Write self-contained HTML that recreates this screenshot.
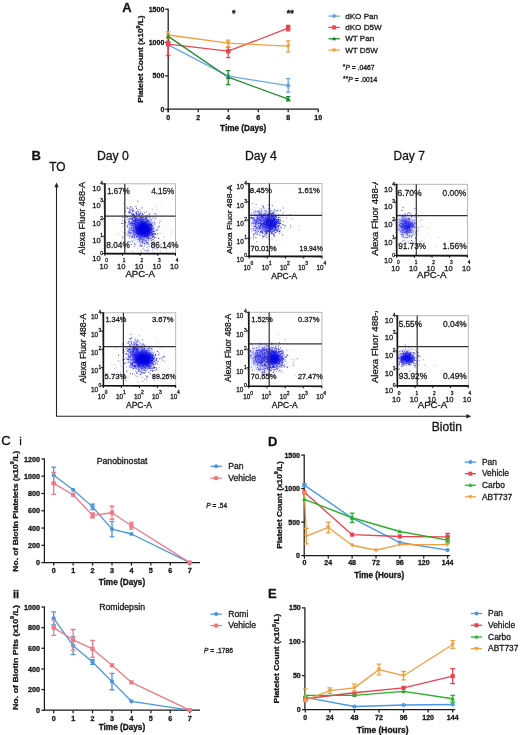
<!DOCTYPE html>
<html><head><meta charset="utf-8"><style>
html,body{margin:0;padding:0;background:#fff;width:520px;height:735px;overflow:hidden;}
body{position:relative;font-family:"Liberation Sans", sans-serif;}
</style></head><body>
<svg width="520" height="735" viewBox="0 0 520 735" style="position:absolute;left:0;top:0;filter:blur(0.4px);font-family:&quot;Liberation Sans&quot;, sans-serif">
<style>text{stroke:#1a1a1a;stroke-width:0.3px;}</style>
<rect width="520" height="735" fill="#fff"/>
<text x="122.30" y="12.30" font-size="13" font-weight="bold" text-anchor="start" fill="#111" >A</text>
<line x1="168.20" y1="8.70" x2="168.20" y2="112.20" stroke="#1a1a1a" stroke-width="1.25"/>
<line x1="167.70" y1="109.20" x2="318.70" y2="109.20" stroke="#1a1a1a" stroke-width="1.25"/>
<line x1="165.20" y1="109.20" x2="168.20" y2="109.20" stroke="#1a1a1a" stroke-width="1.25"/>
<text x="164.30" y="111.70" font-size="7.0" font-weight="bold" text-anchor="end" fill="#111" >0</text>
<line x1="165.20" y1="75.87" x2="168.20" y2="75.87" stroke="#1a1a1a" stroke-width="1.25"/>
<text x="164.30" y="78.37" font-size="7.0" font-weight="bold" text-anchor="end" fill="#111" >500</text>
<line x1="165.20" y1="42.53" x2="168.20" y2="42.53" stroke="#1a1a1a" stroke-width="1.25"/>
<text x="164.30" y="45.03" font-size="7.0" font-weight="bold" text-anchor="end" fill="#111" >1000</text>
<line x1="165.20" y1="9.20" x2="168.20" y2="9.20" stroke="#1a1a1a" stroke-width="1.25"/>
<text x="164.30" y="11.70" font-size="7.0" font-weight="bold" text-anchor="end" fill="#111" >1500</text>
<line x1="168.20" y1="109.20" x2="168.20" y2="112.20" stroke="#1a1a1a" stroke-width="1.25"/>
<text x="168.20" y="120.30" font-size="7.0" font-weight="bold" text-anchor="middle" fill="#111" >0</text>
<line x1="198.20" y1="109.20" x2="198.20" y2="112.20" stroke="#1a1a1a" stroke-width="1.25"/>
<text x="198.20" y="120.30" font-size="7.0" font-weight="bold" text-anchor="middle" fill="#111" >2</text>
<line x1="228.20" y1="109.20" x2="228.20" y2="112.20" stroke="#1a1a1a" stroke-width="1.25"/>
<text x="228.20" y="120.30" font-size="7.0" font-weight="bold" text-anchor="middle" fill="#111" >4</text>
<line x1="258.20" y1="109.20" x2="258.20" y2="112.20" stroke="#1a1a1a" stroke-width="1.25"/>
<text x="258.20" y="120.30" font-size="7.0" font-weight="bold" text-anchor="middle" fill="#111" >6</text>
<line x1="288.20" y1="109.20" x2="288.20" y2="112.20" stroke="#1a1a1a" stroke-width="1.25"/>
<text x="288.20" y="120.30" font-size="7.0" font-weight="bold" text-anchor="middle" fill="#111" >8</text>
<line x1="318.20" y1="109.20" x2="318.20" y2="112.20" stroke="#1a1a1a" stroke-width="1.25"/>
<text x="318.20" y="120.30" font-size="7.0" font-weight="bold" text-anchor="middle" fill="#111" >10</text>
<text x="243.20" y="131.27" font-size="8.2" font-weight="bold" text-anchor="middle" fill="#111" >Time (Days)</text>
<text x="0" y="0" font-size="7.7" font-weight="bold" text-anchor="middle" fill="#111" textLength="87.40" lengthAdjust="spacingAndGlyphs" transform="translate(143.00 59.10) rotate(-90)" >Platelet Count (x10<tspan dy="-3.23" font-size="4.93">9</tspan><tspan dy="3.23">/L)</tspan></text>
<polyline points="168.20,44.87 228.20,76.20 288.20,85.60" fill="none" stroke="#6aa6e6" stroke-width="1.3" stroke-linejoin="round"/>
<polyline points="168.20,44.20 228.20,51.20 288.20,28.20" fill="none" stroke="#e8474d" stroke-width="1.3" stroke-linejoin="round"/>
<polyline points="168.20,35.00 228.20,43.13 288.20,46.20" fill="none" stroke="#f0a040" stroke-width="1.3" stroke-linejoin="round"/>
<polyline points="168.20,36.40 228.20,77.20 288.20,99.13" fill="none" stroke="#1f8a2e" stroke-width="1.3" stroke-linejoin="round"/>
<circle cx="168.20" cy="44.87" r="2.2" fill="#6aa6e6"/>
<circle cx="228.20" cy="76.20" r="2.2" fill="#6aa6e6"/>
<path d="M286.00 78.70H290.40M288.20 78.70V92.20M286.00 92.20H290.40" stroke="#6aa6e6" stroke-width="1.3" fill="none"/>
<circle cx="288.20" cy="85.60" r="2.2" fill="#6aa6e6"/>
<path d="M166.00 41.50H170.40M168.20 41.50V55.50M166.00 55.50H170.40" stroke="#e8474d" stroke-width="1.3" fill="none"/>
<rect x="166.00" y="42.00" width="4.4" height="4.4" fill="#e8474d"/>
<path d="M226.00 47.00H230.40M228.20 47.00V57.70M226.00 57.70H230.40" stroke="#e8474d" stroke-width="1.3" fill="none"/>
<rect x="226.00" y="49.00" width="4.4" height="4.4" fill="#e8474d"/>
<path d="M286.00 25.40H290.40M288.20 25.40V30.80M286.00 30.80H290.40" stroke="#e8474d" stroke-width="1.3" fill="none"/>
<rect x="286.00" y="26.00" width="4.4" height="4.4" fill="#e8474d"/>
<path d="M166.00 31.60H170.40M168.20 31.60V38.30M166.00 38.30H170.40" stroke="#f0a040" stroke-width="1.3" fill="none"/>
<path d="M168.20 37.53L170.62 33.24L165.78 33.24Z" fill="#f0a040"/>
<path d="M226.00 40.20H230.40M228.20 40.20V46.90M226.00 46.90H230.40" stroke="#f0a040" stroke-width="1.3" fill="none"/>
<path d="M228.20 45.66L230.62 41.37L225.78 41.37Z" fill="#f0a040"/>
<path d="M286.00 41.00H290.40M288.20 41.00V51.80M286.00 51.80H290.40" stroke="#f0a040" stroke-width="1.3" fill="none"/>
<path d="M288.20 48.73L290.62 44.44L285.78 44.44Z" fill="#f0a040"/>
<path d="M168.20 33.87L170.62 38.16L165.78 38.16Z" fill="#1f8a2e"/>
<path d="M226.00 70.60H230.40M228.20 70.60V84.60M226.00 84.60H230.40" stroke="#1f8a2e" stroke-width="1.3" fill="none"/>
<path d="M228.20 74.67L230.62 78.96L225.78 78.96Z" fill="#1f8a2e"/>
<path d="M286.00 96.70H290.40M288.20 96.70V100.80M286.00 100.80H290.40" stroke="#1f8a2e" stroke-width="1.3" fill="none"/>
<path d="M288.20 96.60L290.62 100.89L285.78 100.89Z" fill="#1f8a2e"/>
<text x="233.70" y="15.50" font-size="9" font-weight="bold" text-anchor="middle" fill="#111" >*</text>
<text x="290.30" y="15.50" font-size="9" font-weight="bold" text-anchor="middle" fill="#111" >**</text>
<line x1="328.50" y1="16.10" x2="339.80" y2="16.10" stroke="#6aa6e6" stroke-width="1.3"/>
<circle cx="334.10" cy="16.10" r="2.0" fill="#6aa6e6"/>
<text x="345.20" y="18.60" font-size="8.1" font-weight="normal" text-anchor="start" fill="#1a1a1a" >dKO Pan</text>
<line x1="328.50" y1="27.43" x2="339.80" y2="27.43" stroke="#e8474d" stroke-width="1.3"/>
<rect x="332.10" y="25.43" width="4.0" height="4.0" fill="#e8474d"/>
<text x="345.20" y="29.93" font-size="8.1" font-weight="normal" text-anchor="start" fill="#1a1a1a" >dKO D5W</text>
<line x1="328.50" y1="38.76" x2="339.80" y2="38.76" stroke="#1f8a2e" stroke-width="1.3"/>
<path d="M334.10 36.46L336.30 40.36L331.90 40.36Z" fill="#1f8a2e"/>
<text x="345.20" y="41.26" font-size="8.1" font-weight="normal" text-anchor="start" fill="#1a1a1a" >WT Pan</text>
<line x1="328.50" y1="50.09" x2="339.80" y2="50.09" stroke="#f0a040" stroke-width="1.3"/>
<path d="M334.10 52.39L336.30 48.49L331.90 48.49Z" fill="#f0a040"/>
<text x="345.20" y="52.59" font-size="8.1" font-weight="normal" text-anchor="start" fill="#1a1a1a" >WT D5W</text>
<text x="342.80" y="70.40" font-size="6.3" font-weight="normal" text-anchor="start" fill="#222" textLength="31.70" lengthAdjust="spacingAndGlyphs" ><tspan dy="-1">*</tspan><tspan dy="1" font-style="italic">P</tspan> = .0467</text>
<text x="343.00" y="82.10" font-size="6.3" font-weight="normal" text-anchor="start" fill="#222" textLength="34.40" lengthAdjust="spacingAndGlyphs" ><tspan dy="-1">**</tspan><tspan dy="1" font-style="italic">P</tspan> = .0014</text>
<text x="31.40" y="160.00" font-size="13" font-weight="bold" text-anchor="start" fill="#111" >B</text>
<text x="49.20" y="171.30" font-size="11.9" font-weight="normal" text-anchor="start" fill="#111" >TO</text>
<text x="96.90" y="159.60" font-size="12.2" font-weight="normal" text-anchor="start" fill="#111" textLength="32.00" lengthAdjust="spacingAndGlyphs" >Day 0</text>
<text x="244.90" y="159.90" font-size="12.2" font-weight="normal" text-anchor="start" fill="#111" textLength="32.00" lengthAdjust="spacingAndGlyphs" >Day 4</text>
<text x="393.50" y="159.90" font-size="12.2" font-weight="normal" text-anchor="start" fill="#111" textLength="31.40" lengthAdjust="spacingAndGlyphs" >Day 7</text>
<line x1="56.50" y1="186.00" x2="56.50" y2="416.20" stroke="#222" stroke-width="1.1"/>
<path d="M56.5 182.6L58.6 187.2L54.4 187.2Z" fill="#222"/>
<line x1="56.00" y1="416.20" x2="467.00" y2="416.20" stroke="#222" stroke-width="1.1"/>
<path d="M471.2 416.2L466.4 414.0L466.4 418.4Z" fill="#222"/>
<text x="431.70" y="431.20" font-size="12" font-weight="normal" text-anchor="start" fill="#111" textLength="30.20" lengthAdjust="spacingAndGlyphs" >Biotin</text>
<rect x="104.90" y="183.80" width="70.60" height="69.80" fill="none" stroke="#b0b0b0" stroke-width="0.9"/>
<clipPath id="pc104183"><rect x="104.90" y="183.80" width="70.60" height="69.80"/></clipPath><g clip-path="url(#pc104183)">
<ellipse cx="141" cy="229" rx="12" ry="13" fill="#7070f0" opacity="0.4" filter="url(#b3)"/>
<path d="M142.1 231.5h0.9v0.9h-0.9zM142.3 227.1h0.9v0.9h-0.9zM138.4 226.8h0.9v0.9h-0.9zM149.6 232.5h0.9v0.9h-0.9zM149.2 231.5h0.9v0.9h-0.9zM145.7 230.4h0.9v0.9h-0.9zM134.3 231.8h0.9v0.9h-0.9zM146.3 232.2h0.9v0.9h-0.9zM134.2 217.7h0.9v0.9h-0.9zM138.6 225.5h0.9v0.9h-0.9zM145.2 229.1h0.9v0.9h-0.9zM146.4 226.1h0.9v0.9h-0.9zM145.2 231.5h0.9v0.9h-0.9zM139.9 237.5h0.9v0.9h-0.9zM146.6 236.1h0.9v0.9h-0.9zM140.1 224.3h0.9v0.9h-0.9zM141.6 228.0h0.9v0.9h-0.9zM147.0 231.0h0.9v0.9h-0.9zM141.0 223.4h0.9v0.9h-0.9zM140.6 235.0h0.9v0.9h-0.9zM139.1 229.4h0.9v0.9h-0.9zM145.8 221.4h0.9v0.9h-0.9zM143.8 236.1h0.9v0.9h-0.9zM132.4 225.1h0.9v0.9h-0.9zM142.9 224.5h0.9v0.9h-0.9zM146.2 229.2h0.9v0.9h-0.9zM135.4 231.9h0.9v0.9h-0.9zM147.2 234.8h0.9v0.9h-0.9zM151.4 232.5h0.9v0.9h-0.9zM144.2 222.1h0.9v0.9h-0.9zM146.9 226.4h0.9v0.9h-0.9zM141.0 221.7h0.9v0.9h-0.9zM138.2 225.1h0.9v0.9h-0.9zM150.6 219.5h0.9v0.9h-0.9zM135.5 228.7h0.9v0.9h-0.9zM151.4 233.7h0.9v0.9h-0.9zM133.1 213.3h0.9v0.9h-0.9zM145.5 225.4h0.9v0.9h-0.9zM137.3 233.0h0.9v0.9h-0.9zM149.6 231.1h0.9v0.9h-0.9zM144.9 231.6h0.9v0.9h-0.9zM152.3 234.1h0.9v0.9h-0.9zM146.4 232.5h0.9v0.9h-0.9zM134.9 234.2h0.9v0.9h-0.9zM148.8 232.9h0.9v0.9h-0.9zM132.6 223.4h0.9v0.9h-0.9zM148.1 220.2h0.9v0.9h-0.9zM142.5 234.3h0.9v0.9h-0.9zM136.3 236.2h0.9v0.9h-0.9zM146.5 228.8h0.9v0.9h-0.9zM145.3 232.9h0.9v0.9h-0.9zM144.2 235.3h0.9v0.9h-0.9zM139.9 226.0h0.9v0.9h-0.9zM149.2 230.3h0.9v0.9h-0.9zM138.7 233.1h0.9v0.9h-0.9zM151.6 228.2h0.9v0.9h-0.9zM135.9 226.8h0.9v0.9h-0.9zM142.7 227.2h0.9v0.9h-0.9zM151.2 225.0h0.9v0.9h-0.9zM150.4 223.6h0.9v0.9h-0.9zM139.2 231.5h0.9v0.9h-0.9zM149.7 234.9h0.9v0.9h-0.9zM145.4 230.1h0.9v0.9h-0.9zM144.3 232.3h0.9v0.9h-0.9zM142.5 230.3h0.9v0.9h-0.9zM146.6 229.6h0.9v0.9h-0.9zM147.7 232.9h0.9v0.9h-0.9zM154.6 233.0h0.9v0.9h-0.9zM141.1 226.5h0.9v0.9h-0.9zM143.4 234.0h0.9v0.9h-0.9zM141.6 230.7h0.9v0.9h-0.9zM153.6 217.2h0.9v0.9h-0.9zM137.3 229.1h0.9v0.9h-0.9zM145.7 230.7h0.9v0.9h-0.9zM141.1 232.1h0.9v0.9h-0.9zM145.1 226.5h0.9v0.9h-0.9zM156.9 233.6h0.9v0.9h-0.9zM140.5 227.9h0.9v0.9h-0.9zM142.3 228.4h0.9v0.9h-0.9zM128.5 223.4h0.9v0.9h-0.9zM149.0 223.8h0.9v0.9h-0.9zM143.1 234.1h0.9v0.9h-0.9zM148.2 238.0h0.9v0.9h-0.9zM134.1 225.2h0.9v0.9h-0.9zM141.6 232.0h0.9v0.9h-0.9zM149.5 215.7h0.9v0.9h-0.9zM149.5 222.4h0.9v0.9h-0.9zM147.3 221.7h0.9v0.9h-0.9zM144.5 235.6h0.9v0.9h-0.9zM142.7 229.9h0.9v0.9h-0.9zM147.9 230.6h0.9v0.9h-0.9zM143.0 237.2h0.9v0.9h-0.9zM149.3 228.6h0.9v0.9h-0.9zM158.6 225.8h0.9v0.9h-0.9zM148.5 228.6h0.9v0.9h-0.9zM144.2 232.9h0.9v0.9h-0.9zM144.7 232.7h0.9v0.9h-0.9zM135.1 219.2h0.9v0.9h-0.9zM146.9 224.5h0.9v0.9h-0.9zM137.9 219.9h0.9v0.9h-0.9zM150.5 234.4h0.9v0.9h-0.9zM151.6 225.6h0.9v0.9h-0.9zM143.5 222.9h0.9v0.9h-0.9zM147.7 238.4h0.9v0.9h-0.9zM138.6 236.4h0.9v0.9h-0.9zM148.9 229.1h0.9v0.9h-0.9zM132.7 234.4h0.9v0.9h-0.9zM143.0 225.6h0.9v0.9h-0.9zM145.7 231.6h0.9v0.9h-0.9zM151.7 225.2h0.9v0.9h-0.9zM149.7 238.3h0.9v0.9h-0.9zM151.5 229.6h0.9v0.9h-0.9zM139.4 233.7h0.9v0.9h-0.9zM144.1 229.8h0.9v0.9h-0.9zM151.3 229.1h0.9v0.9h-0.9zM130.9 224.4h0.9v0.9h-0.9zM133.3 231.4h0.9v0.9h-0.9zM145.2 226.1h0.9v0.9h-0.9zM143.4 233.5h0.9v0.9h-0.9zM143.9 236.2h0.9v0.9h-0.9zM143.2 234.5h0.9v0.9h-0.9zM151.7 239.3h0.9v0.9h-0.9zM139.8 233.0h0.9v0.9h-0.9zM133.2 221.1h0.9v0.9h-0.9zM132.7 232.6h0.9v0.9h-0.9zM136.7 227.6h0.9v0.9h-0.9zM142.4 228.6h0.9v0.9h-0.9zM140.2 229.6h0.9v0.9h-0.9zM153.4 231.2h0.9v0.9h-0.9zM146.4 235.0h0.9v0.9h-0.9zM142.4 222.0h0.9v0.9h-0.9zM140.4 234.2h0.9v0.9h-0.9zM134.4 224.0h0.9v0.9h-0.9zM149.0 234.4h0.9v0.9h-0.9zM143.5 233.3h0.9v0.9h-0.9zM144.4 222.8h0.9v0.9h-0.9zM134.9 223.8h0.9v0.9h-0.9zM148.6 227.0h0.9v0.9h-0.9zM138.5 223.9h0.9v0.9h-0.9zM135.1 226.7h0.9v0.9h-0.9zM137.0 229.7h0.9v0.9h-0.9zM130.5 228.2h0.9v0.9h-0.9zM140.0 217.8h0.9v0.9h-0.9zM147.5 228.3h0.9v0.9h-0.9zM131.2 221.8h0.9v0.9h-0.9zM145.1 226.8h0.9v0.9h-0.9zM147.8 233.9h0.9v0.9h-0.9zM147.2 231.5h0.9v0.9h-0.9zM150.8 234.0h0.9v0.9h-0.9zM146.0 218.3h0.9v0.9h-0.9zM148.4 237.0h0.9v0.9h-0.9zM141.9 226.1h0.9v0.9h-0.9zM154.2 221.7h0.9v0.9h-0.9zM146.1 242.6h0.9v0.9h-0.9zM138.4 231.7h0.9v0.9h-0.9zM153.9 230.4h0.9v0.9h-0.9zM146.6 234.5h0.9v0.9h-0.9zM138.5 227.5h0.9v0.9h-0.9zM145.1 233.8h0.9v0.9h-0.9zM143.3 227.9h0.9v0.9h-0.9zM137.9 225.9h0.9v0.9h-0.9zM148.4 230.5h0.9v0.9h-0.9zM138.8 223.5h0.9v0.9h-0.9zM158.2 238.1h0.9v0.9h-0.9zM147.0 215.7h0.9v0.9h-0.9zM146.9 232.3h0.9v0.9h-0.9zM152.8 233.2h0.9v0.9h-0.9zM143.1 231.7h0.9v0.9h-0.9zM132.8 232.4h0.9v0.9h-0.9zM145.3 225.6h0.9v0.9h-0.9zM150.8 240.2h0.9v0.9h-0.9zM135.8 223.9h0.9v0.9h-0.9zM145.1 230.3h0.9v0.9h-0.9zM141.3 223.3h0.9v0.9h-0.9zM155.2 236.9h0.9v0.9h-0.9zM136.9 220.4h0.9v0.9h-0.9zM152.9 236.2h0.9v0.9h-0.9zM153.5 235.4h0.9v0.9h-0.9zM138.7 229.4h0.9v0.9h-0.9zM131.6 222.6h0.9v0.9h-0.9zM143.2 231.8h0.9v0.9h-0.9zM139.5 227.5h0.9v0.9h-0.9zM146.0 231.5h0.9v0.9h-0.9zM147.0 230.8h0.9v0.9h-0.9zM141.7 232.9h0.9v0.9h-0.9zM143.8 224.6h0.9v0.9h-0.9zM140.1 228.3h0.9v0.9h-0.9zM142.9 229.7h0.9v0.9h-0.9zM143.5 229.9h0.9v0.9h-0.9zM142.8 222.1h0.9v0.9h-0.9zM145.8 235.1h0.9v0.9h-0.9zM145.9 228.5h0.9v0.9h-0.9zM146.0 224.3h0.9v0.9h-0.9zM133.1 227.2h0.9v0.9h-0.9zM138.4 232.0h0.9v0.9h-0.9zM137.5 213.6h0.9v0.9h-0.9zM137.8 236.4h0.9v0.9h-0.9zM141.4 221.2h0.9v0.9h-0.9zM139.3 231.0h0.9v0.9h-0.9zM146.2 230.5h0.9v0.9h-0.9zM151.7 234.4h0.9v0.9h-0.9zM143.4 232.2h0.9v0.9h-0.9zM152.6 236.1h0.9v0.9h-0.9zM149.1 224.3h0.9v0.9h-0.9zM142.7 232.8h0.9v0.9h-0.9zM141.9 234.4h0.9v0.9h-0.9zM146.8 234.6h0.9v0.9h-0.9zM142.3 242.5h0.9v0.9h-0.9zM150.3 229.2h0.9v0.9h-0.9zM144.0 243.1h0.9v0.9h-0.9zM141.6 233.3h0.9v0.9h-0.9zM148.9 230.1h0.9v0.9h-0.9zM137.1 228.7h0.9v0.9h-0.9zM145.5 235.5h0.9v0.9h-0.9zM147.8 230.0h0.9v0.9h-0.9zM148.2 232.8h0.9v0.9h-0.9zM144.6 229.5h0.9v0.9h-0.9zM142.2 232.4h0.9v0.9h-0.9zM137.7 224.5h0.9v0.9h-0.9zM143.5 221.1h0.9v0.9h-0.9zM141.1 217.7h0.9v0.9h-0.9zM139.7 231.3h0.9v0.9h-0.9zM146.6 229.3h0.9v0.9h-0.9zM142.2 221.1h0.9v0.9h-0.9zM153.6 233.8h0.9v0.9h-0.9zM149.5 225.4h0.9v0.9h-0.9zM142.5 219.0h0.9v0.9h-0.9zM147.8 234.9h0.9v0.9h-0.9zM133.1 226.6h0.9v0.9h-0.9zM147.0 220.2h0.9v0.9h-0.9zM133.5 221.3h0.9v0.9h-0.9zM140.0 220.7h0.9v0.9h-0.9zM143.7 230.4h0.9v0.9h-0.9zM147.0 233.5h0.9v0.9h-0.9zM151.8 236.9h0.9v0.9h-0.9zM136.3 224.8h0.9v0.9h-0.9zM137.7 222.0h0.9v0.9h-0.9zM143.1 228.9h0.9v0.9h-0.9zM146.2 221.0h0.9v0.9h-0.9zM136.7 227.5h0.9v0.9h-0.9zM142.4 227.1h0.9v0.9h-0.9zM143.2 224.8h0.9v0.9h-0.9zM147.4 231.7h0.9v0.9h-0.9zM143.0 225.3h0.9v0.9h-0.9zM142.5 214.1h0.9v0.9h-0.9zM138.1 228.1h0.9v0.9h-0.9zM135.2 228.4h0.9v0.9h-0.9zM144.3 221.7h0.9v0.9h-0.9zM142.1 227.0h0.9v0.9h-0.9zM146.0 232.8h0.9v0.9h-0.9zM143.3 224.4h0.9v0.9h-0.9zM142.7 228.5h0.9v0.9h-0.9zM147.5 231.4h0.9v0.9h-0.9zM139.5 220.9h0.9v0.9h-0.9zM141.4 224.6h0.9v0.9h-0.9zM137.4 227.2h0.9v0.9h-0.9zM140.8 229.0h0.9v0.9h-0.9zM146.4 227.4h0.9v0.9h-0.9zM156.3 229.8h0.9v0.9h-0.9zM149.6 230.9h0.9v0.9h-0.9zM149.6 217.4h0.9v0.9h-0.9zM139.4 229.5h0.9v0.9h-0.9zM146.8 242.3h0.9v0.9h-0.9zM145.3 236.3h0.9v0.9h-0.9zM147.7 234.9h0.9v0.9h-0.9zM146.3 228.7h0.9v0.9h-0.9zM146.3 223.8h0.9v0.9h-0.9zM150.0 224.8h0.9v0.9h-0.9zM144.9 240.7h0.9v0.9h-0.9zM142.3 228.9h0.9v0.9h-0.9zM149.9 230.4h0.9v0.9h-0.9zM139.1 229.5h0.9v0.9h-0.9zM146.7 233.5h0.9v0.9h-0.9zM139.3 237.6h0.9v0.9h-0.9zM152.7 230.9h0.9v0.9h-0.9zM145.0 227.0h0.9v0.9h-0.9zM151.3 226.8h0.9v0.9h-0.9zM147.2 227.2h0.9v0.9h-0.9zM139.7 232.1h0.9v0.9h-0.9zM150.8 230.4h0.9v0.9h-0.9zM139.8 232.6h0.9v0.9h-0.9zM143.2 230.6h0.9v0.9h-0.9zM151.9 236.8h0.9v0.9h-0.9zM140.6 240.7h0.9v0.9h-0.9zM143.5 233.2h0.9v0.9h-0.9zM139.9 228.0h0.9v0.9h-0.9zM133.9 236.7h0.9v0.9h-0.9zM151.0 224.0h0.9v0.9h-0.9zM135.2 218.6h0.9v0.9h-0.9zM150.0 227.8h0.9v0.9h-0.9zM143.2 227.2h0.9v0.9h-0.9zM142.8 223.0h0.9v0.9h-0.9zM143.6 221.3h0.9v0.9h-0.9zM143.1 230.6h0.9v0.9h-0.9zM146.1 228.3h0.9v0.9h-0.9zM138.5 228.9h0.9v0.9h-0.9zM140.8 236.9h0.9v0.9h-0.9zM147.7 229.2h0.9v0.9h-0.9zM140.9 224.7h0.9v0.9h-0.9zM138.3 226.1h0.9v0.9h-0.9z" fill="#0a0ad8"/>
<path d="M142.1 232.6h0.9v0.9h-0.9zM144.0 245.4h0.9v0.9h-0.9zM135.1 226.4h0.9v0.9h-0.9zM159.6 220.5h0.9v0.9h-0.9zM136.3 228.0h0.9v0.9h-0.9zM141.1 231.5h0.9v0.9h-0.9zM138.3 230.2h0.9v0.9h-0.9zM140.4 234.0h0.9v0.9h-0.9zM126.8 216.7h0.9v0.9h-0.9zM140.0 220.1h0.9v0.9h-0.9zM132.7 230.3h0.9v0.9h-0.9zM135.5 231.3h0.9v0.9h-0.9zM145.2 232.1h0.9v0.9h-0.9zM143.6 228.4h0.9v0.9h-0.9zM130.1 224.4h0.9v0.9h-0.9zM143.2 225.1h0.9v0.9h-0.9zM139.3 233.5h0.9v0.9h-0.9zM133.9 230.8h0.9v0.9h-0.9zM153.0 228.2h0.9v0.9h-0.9zM141.0 227.2h0.9v0.9h-0.9zM150.8 234.1h0.9v0.9h-0.9zM146.3 224.9h0.9v0.9h-0.9zM139.9 227.9h0.9v0.9h-0.9zM127.6 234.7h0.9v0.9h-0.9zM146.3 216.8h0.9v0.9h-0.9zM145.2 228.8h0.9v0.9h-0.9zM143.1 231.9h0.9v0.9h-0.9zM129.5 222.8h0.9v0.9h-0.9zM150.4 227.2h0.9v0.9h-0.9zM132.8 215.2h0.9v0.9h-0.9zM131.5 227.6h0.9v0.9h-0.9zM151.8 235.3h0.9v0.9h-0.9zM141.7 245.6h0.9v0.9h-0.9zM136.4 221.6h0.9v0.9h-0.9zM143.7 233.5h0.9v0.9h-0.9zM132.9 216.6h0.9v0.9h-0.9zM142.0 230.6h0.9v0.9h-0.9zM130.9 223.3h0.9v0.9h-0.9zM136.2 230.2h0.9v0.9h-0.9zM139.2 227.1h0.9v0.9h-0.9zM137.5 235.2h0.9v0.9h-0.9zM149.7 228.5h0.9v0.9h-0.9zM145.9 224.2h0.9v0.9h-0.9zM140.5 233.9h0.9v0.9h-0.9zM150.6 228.7h0.9v0.9h-0.9zM139.5 229.3h0.9v0.9h-0.9zM129.5 224.5h0.9v0.9h-0.9zM135.3 229.2h0.9v0.9h-0.9zM132.1 210.2h0.9v0.9h-0.9zM140.3 230.1h0.9v0.9h-0.9zM136.2 233.5h0.9v0.9h-0.9zM138.1 222.7h0.9v0.9h-0.9zM143.3 217.2h0.9v0.9h-0.9zM135.3 226.2h0.9v0.9h-0.9zM145.9 228.8h0.9v0.9h-0.9zM142.2 223.7h0.9v0.9h-0.9zM142.1 241.4h0.9v0.9h-0.9zM135.2 244.4h0.9v0.9h-0.9zM135.5 226.6h0.9v0.9h-0.9zM141.2 236.2h0.9v0.9h-0.9zM131.3 209.0h0.9v0.9h-0.9zM144.2 235.5h0.9v0.9h-0.9zM144.4 249.6h0.9v0.9h-0.9zM141.4 230.4h0.9v0.9h-0.9zM146.5 233.0h0.9v0.9h-0.9zM151.6 222.5h0.9v0.9h-0.9zM137.4 200.8h0.9v0.9h-0.9zM145.7 227.1h0.9v0.9h-0.9zM146.5 246.7h0.9v0.9h-0.9zM140.0 226.0h0.9v0.9h-0.9zM136.5 220.4h0.9v0.9h-0.9zM135.6 231.4h0.9v0.9h-0.9zM140.3 228.6h0.9v0.9h-0.9zM138.8 234.6h0.9v0.9h-0.9zM143.5 228.1h0.9v0.9h-0.9zM144.7 228.4h0.9v0.9h-0.9zM131.9 236.3h0.9v0.9h-0.9zM143.3 221.8h0.9v0.9h-0.9zM147.6 233.2h0.9v0.9h-0.9zM129.0 236.5h0.9v0.9h-0.9zM142.3 235.6h0.9v0.9h-0.9zM141.4 227.3h0.9v0.9h-0.9zM129.2 231.7h0.9v0.9h-0.9zM140.2 225.9h0.9v0.9h-0.9zM142.5 229.4h0.9v0.9h-0.9zM144.7 226.8h0.9v0.9h-0.9zM139.7 211.6h0.9v0.9h-0.9zM137.0 232.1h0.9v0.9h-0.9zM149.4 228.4h0.9v0.9h-0.9zM139.2 239.8h0.9v0.9h-0.9zM137.7 232.8h0.9v0.9h-0.9zM151.7 232.3h0.9v0.9h-0.9zM148.6 225.5h0.9v0.9h-0.9zM141.5 227.9h0.9v0.9h-0.9zM140.8 236.9h0.9v0.9h-0.9zM156.7 228.7h0.9v0.9h-0.9zM136.0 230.4h0.9v0.9h-0.9zM132.6 229.3h0.9v0.9h-0.9zM144.0 227.3h0.9v0.9h-0.9zM143.7 217.5h0.9v0.9h-0.9zM145.3 218.0h0.9v0.9h-0.9zM135.1 222.1h0.9v0.9h-0.9zM137.2 233.6h0.9v0.9h-0.9zM140.6 225.2h0.9v0.9h-0.9zM143.8 241.4h0.9v0.9h-0.9zM140.0 230.8h0.9v0.9h-0.9zM148.7 233.0h0.9v0.9h-0.9zM131.0 243.9h0.9v0.9h-0.9zM155.5 218.2h0.9v0.9h-0.9zM139.7 231.1h0.9v0.9h-0.9zM146.8 235.4h0.9v0.9h-0.9zM138.1 219.3h0.9v0.9h-0.9zM140.7 236.1h0.9v0.9h-0.9zM132.4 217.5h0.9v0.9h-0.9zM139.8 213.2h0.9v0.9h-0.9zM138.2 224.0h0.9v0.9h-0.9zM143.2 223.7h0.9v0.9h-0.9zM133.8 222.9h0.9v0.9h-0.9zM139.7 222.8h0.9v0.9h-0.9zM140.1 233.8h0.9v0.9h-0.9zM148.3 243.9h0.9v0.9h-0.9zM134.5 222.9h0.9v0.9h-0.9zM122.6 236.5h0.9v0.9h-0.9zM134.9 226.0h0.9v0.9h-0.9zM143.7 218.9h0.9v0.9h-0.9zM143.2 228.9h0.9v0.9h-0.9zM127.2 225.8h0.9v0.9h-0.9zM148.4 216.6h0.9v0.9h-0.9zM145.7 231.5h0.9v0.9h-0.9zM143.3 232.5h0.9v0.9h-0.9zM149.1 229.4h0.9v0.9h-0.9zM146.1 227.0h0.9v0.9h-0.9zM145.1 223.5h0.9v0.9h-0.9zM139.2 241.0h0.9v0.9h-0.9zM143.1 227.9h0.9v0.9h-0.9zM132.0 219.2h0.9v0.9h-0.9zM141.4 235.6h0.9v0.9h-0.9zM143.0 233.0h0.9v0.9h-0.9zM139.7 238.2h0.9v0.9h-0.9zM137.3 222.9h0.9v0.9h-0.9zM146.2 230.6h0.9v0.9h-0.9zM138.1 222.9h0.9v0.9h-0.9zM138.2 232.1h0.9v0.9h-0.9zM142.5 219.6h0.9v0.9h-0.9zM143.0 230.4h0.9v0.9h-0.9zM133.0 231.5h0.9v0.9h-0.9zM138.0 224.8h0.9v0.9h-0.9zM145.6 240.0h0.9v0.9h-0.9zM135.2 229.7h0.9v0.9h-0.9zM133.9 243.6h0.9v0.9h-0.9zM136.5 235.9h0.9v0.9h-0.9zM135.5 232.6h0.9v0.9h-0.9zM155.5 213.9h0.9v0.9h-0.9zM137.0 230.8h0.9v0.9h-0.9zM139.3 222.7h0.9v0.9h-0.9zM155.1 233.8h0.9v0.9h-0.9zM128.5 230.6h0.9v0.9h-0.9zM127.9 232.7h0.9v0.9h-0.9zM136.0 227.7h0.9v0.9h-0.9zM148.8 231.9h0.9v0.9h-0.9zM130.3 211.7h0.9v0.9h-0.9zM148.3 236.5h0.9v0.9h-0.9zM134.3 232.6h0.9v0.9h-0.9zM143.5 234.1h0.9v0.9h-0.9zM124.2 220.3h0.9v0.9h-0.9zM146.3 235.8h0.9v0.9h-0.9zM146.2 211.4h0.9v0.9h-0.9zM141.2 232.2h0.9v0.9h-0.9zM157.9 226.8h0.9v0.9h-0.9zM137.7 227.5h0.9v0.9h-0.9zM146.2 226.7h0.9v0.9h-0.9zM148.0 224.7h0.9v0.9h-0.9zM141.9 224.6h0.9v0.9h-0.9zM141.1 223.1h0.9v0.9h-0.9zM128.8 232.5h0.9v0.9h-0.9zM142.1 224.5h0.9v0.9h-0.9zM141.4 236.0h0.9v0.9h-0.9zM133.2 224.8h0.9v0.9h-0.9zM143.8 233.3h0.9v0.9h-0.9zM137.7 211.1h0.9v0.9h-0.9zM148.7 233.5h0.9v0.9h-0.9zM140.1 225.9h0.9v0.9h-0.9zM141.8 225.4h0.9v0.9h-0.9zM132.8 219.9h0.9v0.9h-0.9zM135.8 221.9h0.9v0.9h-0.9zM131.9 230.1h0.9v0.9h-0.9zM130.8 229.9h0.9v0.9h-0.9zM132.9 228.3h0.9v0.9h-0.9zM149.6 232.8h0.9v0.9h-0.9zM134.9 226.6h0.9v0.9h-0.9zM141.0 215.1h0.9v0.9h-0.9zM135.7 227.8h0.9v0.9h-0.9zM136.7 227.5h0.9v0.9h-0.9zM145.1 235.6h0.9v0.9h-0.9zM146.3 234.7h0.9v0.9h-0.9zM138.0 227.2h0.9v0.9h-0.9zM138.1 225.0h0.9v0.9h-0.9zM138.7 214.4h0.9v0.9h-0.9zM137.7 227.0h0.9v0.9h-0.9zM133.2 225.5h0.9v0.9h-0.9zM143.6 228.0h0.9v0.9h-0.9zM154.5 213.1h0.9v0.9h-0.9zM138.6 213.6h0.9v0.9h-0.9zM146.9 250.6h0.9v0.9h-0.9zM122.5 223.0h0.9v0.9h-0.9zM143.6 226.9h0.9v0.9h-0.9zM143.9 212.2h0.9v0.9h-0.9zM146.0 232.9h0.9v0.9h-0.9zM140.2 223.6h0.9v0.9h-0.9zM144.5 225.8h0.9v0.9h-0.9zM141.6 224.6h0.9v0.9h-0.9zM124.3 222.4h0.9v0.9h-0.9zM141.4 234.2h0.9v0.9h-0.9zM133.9 225.6h0.9v0.9h-0.9zM144.3 230.6h0.9v0.9h-0.9zM148.7 246.2h0.9v0.9h-0.9zM133.6 211.2h0.9v0.9h-0.9zM146.0 241.7h0.9v0.9h-0.9zM146.5 236.4h0.9v0.9h-0.9zM135.7 221.1h0.9v0.9h-0.9zM146.2 223.2h0.9v0.9h-0.9zM127.3 216.0h0.9v0.9h-0.9zM157.4 248.7h0.9v0.9h-0.9zM135.2 220.8h0.9v0.9h-0.9zM141.6 222.8h0.9v0.9h-0.9zM149.2 230.5h0.9v0.9h-0.9zM132.4 235.4h0.9v0.9h-0.9zM135.9 228.3h0.9v0.9h-0.9zM139.9 225.6h0.9v0.9h-0.9zM142.3 223.5h0.9v0.9h-0.9zM127.1 206.7h0.9v0.9h-0.9zM131.1 219.2h0.9v0.9h-0.9zM139.8 228.4h0.9v0.9h-0.9zM143.9 230.2h0.9v0.9h-0.9zM134.4 220.7h0.9v0.9h-0.9zM125.2 221.6h0.9v0.9h-0.9zM143.4 233.2h0.9v0.9h-0.9zM139.2 226.4h0.9v0.9h-0.9zM146.6 230.4h0.9v0.9h-0.9zM145.2 234.2h0.9v0.9h-0.9zM141.5 238.5h0.9v0.9h-0.9zM136.0 223.9h0.9v0.9h-0.9zM134.3 220.0h0.9v0.9h-0.9zM150.9 245.2h0.9v0.9h-0.9zM140.2 232.4h0.9v0.9h-0.9zM148.2 237.0h0.9v0.9h-0.9zM148.4 221.3h0.9v0.9h-0.9zM135.5 229.9h0.9v0.9h-0.9zM150.0 232.2h0.9v0.9h-0.9zM134.0 223.2h0.9v0.9h-0.9zM135.4 219.9h0.9v0.9h-0.9zM150.5 226.8h0.9v0.9h-0.9zM140.1 244.6h0.9v0.9h-0.9zM148.3 233.4h0.9v0.9h-0.9zM135.7 229.7h0.9v0.9h-0.9zM151.4 236.6h0.9v0.9h-0.9zM148.8 231.8h0.9v0.9h-0.9zM143.6 227.7h0.9v0.9h-0.9zM143.0 238.9h0.9v0.9h-0.9zM130.0 224.1h0.9v0.9h-0.9zM141.7 224.2h0.9v0.9h-0.9zM137.8 233.3h0.9v0.9h-0.9zM154.0 237.6h0.9v0.9h-0.9zM142.3 216.9h0.9v0.9h-0.9zM153.5 233.2h0.9v0.9h-0.9zM139.8 219.4h0.9v0.9h-0.9zM139.6 219.5h0.9v0.9h-0.9zM140.5 231.7h0.9v0.9h-0.9zM140.2 230.2h0.9v0.9h-0.9zM134.0 236.9h0.9v0.9h-0.9zM135.4 212.6h0.9v0.9h-0.9zM138.7 221.7h0.9v0.9h-0.9zM132.9 222.9h0.9v0.9h-0.9zM142.0 219.7h0.9v0.9h-0.9zM139.0 238.6h0.9v0.9h-0.9zM144.8 228.5h0.9v0.9h-0.9zM140.9 227.4h0.9v0.9h-0.9zM139.7 233.5h0.9v0.9h-0.9zM139.4 209.4h0.9v0.9h-0.9zM139.8 221.2h0.9v0.9h-0.9zM144.6 224.9h0.9v0.9h-0.9zM141.0 245.0h0.9v0.9h-0.9zM132.7 216.9h0.9v0.9h-0.9zM130.1 206.3h0.9v0.9h-0.9zM126.9 226.3h0.9v0.9h-0.9zM135.5 212.2h0.9v0.9h-0.9zM129.6 229.2h0.9v0.9h-0.9zM134.6 223.3h0.9v0.9h-0.9zM142.3 239.1h0.9v0.9h-0.9zM153.6 240.5h0.9v0.9h-0.9zM141.0 229.8h0.9v0.9h-0.9zM152.6 243.2h0.9v0.9h-0.9zM137.8 230.7h0.9v0.9h-0.9zM142.0 229.1h0.9v0.9h-0.9zM136.5 216.7h0.9v0.9h-0.9zM136.3 214.9h0.9v0.9h-0.9zM148.6 235.0h0.9v0.9h-0.9zM131.6 235.8h0.9v0.9h-0.9zM146.2 215.6h0.9v0.9h-0.9zM152.9 238.6h0.9v0.9h-0.9zM154.4 223.6h0.9v0.9h-0.9zM143.7 232.5h0.9v0.9h-0.9zM141.4 229.8h0.9v0.9h-0.9zM147.4 219.1h0.9v0.9h-0.9zM131.3 214.4h0.9v0.9h-0.9zM136.1 222.0h0.9v0.9h-0.9zM142.6 230.9h0.9v0.9h-0.9zM140.2 222.9h0.9v0.9h-0.9zM136.9 234.2h0.9v0.9h-0.9zM145.3 230.6h0.9v0.9h-0.9zM137.7 239.1h0.9v0.9h-0.9zM135.8 231.5h0.9v0.9h-0.9zM148.1 228.7h0.9v0.9h-0.9zM145.8 221.5h0.9v0.9h-0.9zM147.1 232.0h0.9v0.9h-0.9zM128.9 229.3h0.9v0.9h-0.9zM133.8 235.6h0.9v0.9h-0.9zM135.2 225.1h0.9v0.9h-0.9zM142.0 226.1h0.9v0.9h-0.9zM141.8 224.4h0.9v0.9h-0.9zM144.7 229.7h0.9v0.9h-0.9zM141.5 207.5h0.9v0.9h-0.9zM148.1 231.0h0.9v0.9h-0.9zM127.5 224.5h0.9v0.9h-0.9zM143.3 237.3h0.9v0.9h-0.9zM132.4 237.2h0.9v0.9h-0.9zM138.9 245.9h0.9v0.9h-0.9zM139.0 232.8h0.9v0.9h-0.9zM137.4 218.6h0.9v0.9h-0.9zM147.7 237.5h0.9v0.9h-0.9zM150.8 238.2h0.9v0.9h-0.9zM136.0 213.9h0.9v0.9h-0.9zM135.4 221.3h0.9v0.9h-0.9zM134.3 230.5h0.9v0.9h-0.9zM142.3 226.7h0.9v0.9h-0.9zM141.2 227.3h0.9v0.9h-0.9zM141.5 234.3h0.9v0.9h-0.9zM146.7 225.1h0.9v0.9h-0.9zM129.5 235.3h0.9v0.9h-0.9zM140.8 236.7h0.9v0.9h-0.9zM128.5 221.5h0.9v0.9h-0.9zM140.2 217.1h0.9v0.9h-0.9zM136.4 232.3h0.9v0.9h-0.9zM147.5 242.8h0.9v0.9h-0.9zM134.0 215.2h0.9v0.9h-0.9zM143.6 236.4h0.9v0.9h-0.9zM141.4 218.5h0.9v0.9h-0.9zM145.5 235.9h0.9v0.9h-0.9zM143.9 225.6h0.9v0.9h-0.9zM142.1 234.8h0.9v0.9h-0.9zM136.1 212.6h0.9v0.9h-0.9zM142.3 232.5h0.9v0.9h-0.9zM140.1 234.8h0.9v0.9h-0.9zM135.9 226.0h0.9v0.9h-0.9zM137.9 231.6h0.9v0.9h-0.9zM151.2 229.9h0.9v0.9h-0.9zM154.4 244.6h0.9v0.9h-0.9zM145.5 234.4h0.9v0.9h-0.9zM152.4 230.9h0.9v0.9h-0.9zM139.2 219.6h0.9v0.9h-0.9zM143.3 239.4h0.9v0.9h-0.9zM143.7 232.5h0.9v0.9h-0.9zM138.6 228.8h0.9v0.9h-0.9zM130.0 232.6h0.9v0.9h-0.9zM137.1 218.6h0.9v0.9h-0.9zM134.7 219.9h0.9v0.9h-0.9zM146.0 238.1h0.9v0.9h-0.9zM130.5 231.8h0.9v0.9h-0.9zM146.2 225.7h0.9v0.9h-0.9zM129.6 218.7h0.9v0.9h-0.9zM135.6 229.1h0.9v0.9h-0.9zM137.5 211.7h0.9v0.9h-0.9zM141.6 216.9h0.9v0.9h-0.9zM146.3 221.0h0.9v0.9h-0.9zM135.1 219.8h0.9v0.9h-0.9zM136.2 236.6h0.9v0.9h-0.9zM146.0 234.6h0.9v0.9h-0.9zM142.2 217.0h0.9v0.9h-0.9zM136.4 222.5h0.9v0.9h-0.9zM133.2 229.5h0.9v0.9h-0.9zM134.8 220.8h0.9v0.9h-0.9zM132.7 209.8h0.9v0.9h-0.9zM144.2 239.6h0.9v0.9h-0.9zM141.2 221.0h0.9v0.9h-0.9zM121.1 222.8h0.9v0.9h-0.9zM148.5 233.2h0.9v0.9h-0.9zM146.5 241.5h0.9v0.9h-0.9zM147.9 227.3h0.9v0.9h-0.9zM147.4 236.4h0.9v0.9h-0.9zM129.2 221.2h0.9v0.9h-0.9zM130.0 223.7h0.9v0.9h-0.9zM144.0 221.2h0.9v0.9h-0.9zM125.6 233.0h0.9v0.9h-0.9zM142.6 240.1h0.9v0.9h-0.9zM130.7 232.9h0.9v0.9h-0.9zM154.5 248.3h0.9v0.9h-0.9zM138.5 229.5h0.9v0.9h-0.9zM138.9 235.2h0.9v0.9h-0.9zM147.3 231.2h0.9v0.9h-0.9zM130.5 230.4h0.9v0.9h-0.9zM136.7 231.7h0.9v0.9h-0.9zM141.8 241.0h0.9v0.9h-0.9zM148.0 227.3h0.9v0.9h-0.9zM142.4 242.3h0.9v0.9h-0.9zM136.2 230.0h0.9v0.9h-0.9zM148.3 240.4h0.9v0.9h-0.9zM143.6 219.2h0.9v0.9h-0.9zM131.2 226.9h0.9v0.9h-0.9zM142.7 248.4h0.9v0.9h-0.9zM134.0 234.6h0.9v0.9h-0.9zM145.4 217.1h0.9v0.9h-0.9zM134.3 227.3h0.9v0.9h-0.9zM136.5 225.6h0.9v0.9h-0.9zM143.3 223.0h0.9v0.9h-0.9zM143.3 224.3h0.9v0.9h-0.9zM136.2 230.8h0.9v0.9h-0.9zM136.0 228.8h0.9v0.9h-0.9zM151.2 232.0h0.9v0.9h-0.9zM139.0 233.3h0.9v0.9h-0.9zM137.4 235.4h0.9v0.9h-0.9z" fill="#3434ec"/>
<path d="M128.2 221.4h0.9v0.9h-0.9zM131.7 213.6h0.9v0.9h-0.9zM142.0 213.3h0.9v0.9h-0.9zM141.9 221.6h0.9v0.9h-0.9zM140.5 212.6h0.9v0.9h-0.9zM139.4 226.0h0.9v0.9h-0.9zM133.5 217.3h0.9v0.9h-0.9zM145.1 219.0h0.9v0.9h-0.9zM132.1 214.5h0.9v0.9h-0.9zM136.0 219.8h0.9v0.9h-0.9zM134.8 227.5h0.9v0.9h-0.9zM132.5 220.6h0.9v0.9h-0.9zM140.6 212.5h0.9v0.9h-0.9zM138.7 228.1h0.9v0.9h-0.9zM127.9 212.0h0.9v0.9h-0.9zM129.3 207.8h0.9v0.9h-0.9zM136.0 207.8h0.9v0.9h-0.9zM136.2 226.0h0.9v0.9h-0.9zM126.7 216.3h0.9v0.9h-0.9zM125.4 222.3h0.9v0.9h-0.9zM130.7 216.5h0.9v0.9h-0.9zM134.2 221.0h0.9v0.9h-0.9zM132.4 218.1h0.9v0.9h-0.9zM131.5 218.6h0.9v0.9h-0.9zM128.7 218.3h0.9v0.9h-0.9zM125.3 215.3h0.9v0.9h-0.9zM142.6 218.4h0.9v0.9h-0.9zM128.3 219.4h0.9v0.9h-0.9zM129.6 208.9h0.9v0.9h-0.9zM130.7 222.1h0.9v0.9h-0.9zM135.7 217.5h0.9v0.9h-0.9zM129.8 212.1h0.9v0.9h-0.9zM140.1 219.3h0.9v0.9h-0.9zM129.7 206.4h0.9v0.9h-0.9zM127.8 231.6h0.9v0.9h-0.9zM128.8 217.6h0.9v0.9h-0.9zM134.9 217.1h0.9v0.9h-0.9zM132.7 210.4h0.9v0.9h-0.9zM129.3 227.3h0.9v0.9h-0.9zM130.6 222.7h0.9v0.9h-0.9zM126.4 216.5h0.9v0.9h-0.9zM135.2 223.7h0.9v0.9h-0.9zM128.9 221.3h0.9v0.9h-0.9zM135.7 213.9h0.9v0.9h-0.9zM136.1 213.1h0.9v0.9h-0.9zM130.4 217.9h0.9v0.9h-0.9zM121.8 217.4h0.9v0.9h-0.9zM129.5 210.0h0.9v0.9h-0.9zM132.1 222.2h0.9v0.9h-0.9zM132.2 225.0h0.9v0.9h-0.9zM128.8 210.8h0.9v0.9h-0.9zM141.0 220.2h0.9v0.9h-0.9zM138.3 213.5h0.9v0.9h-0.9zM137.6 219.4h0.9v0.9h-0.9zM136.9 218.1h0.9v0.9h-0.9zM139.4 214.4h0.9v0.9h-0.9zM129.7 209.9h0.9v0.9h-0.9zM139.2 213.9h0.9v0.9h-0.9zM129.3 212.8h0.9v0.9h-0.9zM132.0 211.0h0.9v0.9h-0.9zM132.7 214.6h0.9v0.9h-0.9zM131.5 212.7h0.9v0.9h-0.9zM134.2 215.5h0.9v0.9h-0.9zM134.5 219.4h0.9v0.9h-0.9zM135.5 206.0h0.9v0.9h-0.9zM131.6 213.6h0.9v0.9h-0.9zM137.5 209.3h0.9v0.9h-0.9zM130.8 216.4h0.9v0.9h-0.9zM132.5 223.5h0.9v0.9h-0.9zM132.0 223.3h0.9v0.9h-0.9zM127.4 208.0h0.9v0.9h-0.9zM139.5 220.4h0.9v0.9h-0.9zM136.2 218.7h0.9v0.9h-0.9zM136.2 211.3h0.9v0.9h-0.9zM138.3 215.1h0.9v0.9h-0.9zM138.4 218.5h0.9v0.9h-0.9zM125.1 210.9h0.9v0.9h-0.9zM139.1 217.2h0.9v0.9h-0.9zM132.2 219.3h0.9v0.9h-0.9zM132.1 215.0h0.9v0.9h-0.9zM134.5 218.8h0.9v0.9h-0.9zM140.8 218.3h0.9v0.9h-0.9zM142.5 227.9h0.9v0.9h-0.9zM141.7 223.8h0.9v0.9h-0.9zM134.6 218.8h0.9v0.9h-0.9zM133.4 214.0h0.9v0.9h-0.9zM133.7 214.5h0.9v0.9h-0.9zM141.4 220.9h0.9v0.9h-0.9zM132.0 207.5h0.9v0.9h-0.9zM133.8 215.7h0.9v0.9h-0.9zM129.1 211.7h0.9v0.9h-0.9zM123.9 221.1h0.9v0.9h-0.9zM133.7 232.2h0.9v0.9h-0.9zM133.9 217.2h0.9v0.9h-0.9zM140.5 218.7h0.9v0.9h-0.9zM134.8 216.0h0.9v0.9h-0.9zM131.3 226.2h0.9v0.9h-0.9zM138.5 227.4h0.9v0.9h-0.9zM132.4 218.2h0.9v0.9h-0.9zM130.0 223.3h0.9v0.9h-0.9z" fill="#3434ec"/>
<path d="M127.1 235.0h0.9v0.9h-0.9zM152.0 249.6h0.9v0.9h-0.9zM131.6 241.7h0.9v0.9h-0.9zM133.9 222.3h0.9v0.9h-0.9zM127.8 241.5h0.9v0.9h-0.9zM157.5 229.2h0.9v0.9h-0.9zM133.4 226.7h0.9v0.9h-0.9zM166.1 248.3h0.9v0.9h-0.9zM135.6 211.5h0.9v0.9h-0.9zM134.3 243.3h0.9v0.9h-0.9zM159.7 233.2h0.9v0.9h-0.9zM134.1 225.0h0.9v0.9h-0.9zM122.1 237.6h0.9v0.9h-0.9zM130.1 241.1h0.9v0.9h-0.9zM123.9 214.6h0.9v0.9h-0.9zM143.9 224.4h0.9v0.9h-0.9zM148.8 233.8h0.9v0.9h-0.9zM129.3 236.1h0.9v0.9h-0.9zM149.4 213.2h0.9v0.9h-0.9zM159.3 241.4h0.9v0.9h-0.9zM148.6 213.6h0.9v0.9h-0.9zM133.8 226.7h0.9v0.9h-0.9zM151.8 218.6h0.9v0.9h-0.9zM132.2 208.2h0.9v0.9h-0.9zM138.6 235.2h0.9v0.9h-0.9zM124.1 221.9h0.9v0.9h-0.9zM146.1 250.2h0.9v0.9h-0.9zM147.6 230.2h0.9v0.9h-0.9zM129.2 219.3h0.9v0.9h-0.9zM134.4 232.1h0.9v0.9h-0.9zM140.5 249.9h0.9v0.9h-0.9zM143.9 221.1h0.9v0.9h-0.9zM156.4 245.6h0.9v0.9h-0.9zM142.0 224.5h0.9v0.9h-0.9zM122.3 216.9h0.9v0.9h-0.9zM150.1 225.4h0.9v0.9h-0.9zM127.8 231.2h0.9v0.9h-0.9zM143.4 239.1h0.9v0.9h-0.9zM147.6 248.6h0.9v0.9h-0.9zM132.6 240.7h0.9v0.9h-0.9zM131.1 237.3h0.9v0.9h-0.9zM142.8 235.0h0.9v0.9h-0.9zM150.7 233.9h0.9v0.9h-0.9zM152.1 243.9h0.9v0.9h-0.9zM142.4 226.2h0.9v0.9h-0.9zM133.5 224.7h0.9v0.9h-0.9zM139.0 231.3h0.9v0.9h-0.9zM170.8 245.4h0.9v0.9h-0.9zM148.7 224.4h0.9v0.9h-0.9zM133.9 227.0h0.9v0.9h-0.9zM142.9 221.3h0.9v0.9h-0.9zM157.1 229.5h0.9v0.9h-0.9zM151.8 209.2h0.9v0.9h-0.9zM140.9 235.0h0.9v0.9h-0.9zM142.9 238.9h0.9v0.9h-0.9zM143.8 234.4h0.9v0.9h-0.9zM122.1 220.1h0.9v0.9h-0.9zM117.6 233.6h0.9v0.9h-0.9zM144.1 230.6h0.9v0.9h-0.9zM132.8 223.9h0.9v0.9h-0.9zM140.4 245.8h0.9v0.9h-0.9zM125.1 207.7h0.9v0.9h-0.9zM136.2 221.5h0.9v0.9h-0.9zM135.4 232.8h0.9v0.9h-0.9zM171.2 231.5h0.9v0.9h-0.9zM141.5 235.1h0.9v0.9h-0.9zM140.7 242.0h0.9v0.9h-0.9zM158.8 222.5h0.9v0.9h-0.9zM142.6 229.5h0.9v0.9h-0.9zM144.6 216.3h0.9v0.9h-0.9zM123.4 203.2h0.9v0.9h-0.9zM146.3 235.2h0.9v0.9h-0.9zM141.7 206.7h0.9v0.9h-0.9zM137.3 223.0h0.9v0.9h-0.9zM126.9 219.0h0.9v0.9h-0.9zM148.0 239.4h0.9v0.9h-0.9zM140.8 237.5h0.9v0.9h-0.9zM135.0 231.4h0.9v0.9h-0.9zM141.4 238.1h0.9v0.9h-0.9zM140.3 230.3h0.9v0.9h-0.9zM139.7 224.8h0.9v0.9h-0.9zM163.3 242.5h0.9v0.9h-0.9zM155.0 218.3h0.9v0.9h-0.9zM148.0 242.6h0.9v0.9h-0.9zM159.8 250.3h0.9v0.9h-0.9zM148.7 221.0h0.9v0.9h-0.9zM132.3 233.0h0.9v0.9h-0.9zM146.0 222.1h0.9v0.9h-0.9zM137.2 226.8h0.9v0.9h-0.9zM141.6 235.8h0.9v0.9h-0.9zM138.1 218.0h0.9v0.9h-0.9zM153.4 251.9h0.9v0.9h-0.9zM139.9 242.8h0.9v0.9h-0.9zM145.4 240.1h0.9v0.9h-0.9zM145.8 224.8h0.9v0.9h-0.9zM146.7 244.2h0.9v0.9h-0.9zM132.0 251.2h0.9v0.9h-0.9zM160.9 244.4h0.9v0.9h-0.9zM137.6 224.8h0.9v0.9h-0.9zM132.9 231.5h0.9v0.9h-0.9zM140.7 239.2h0.9v0.9h-0.9zM163.8 236.7h0.9v0.9h-0.9zM147.8 238.6h0.9v0.9h-0.9zM143.7 230.4h0.9v0.9h-0.9zM139.8 222.8h0.9v0.9h-0.9zM142.8 232.1h0.9v0.9h-0.9zM144.2 223.5h0.9v0.9h-0.9zM141.4 232.6h0.9v0.9h-0.9zM147.0 221.9h0.9v0.9h-0.9zM145.2 243.5h0.9v0.9h-0.9zM147.0 229.3h0.9v0.9h-0.9zM136.1 228.4h0.9v0.9h-0.9zM148.3 250.3h0.9v0.9h-0.9zM139.4 224.7h0.9v0.9h-0.9zM144.8 235.0h0.9v0.9h-0.9zM131.9 222.1h0.9v0.9h-0.9zM140.0 239.0h0.9v0.9h-0.9zM129.1 218.4h0.9v0.9h-0.9zM146.0 219.9h0.9v0.9h-0.9zM142.1 236.0h0.9v0.9h-0.9zM139.9 220.8h0.9v0.9h-0.9zM140.4 228.3h0.9v0.9h-0.9zM144.4 223.7h0.9v0.9h-0.9zM151.9 216.3h0.9v0.9h-0.9zM139.2 231.7h0.9v0.9h-0.9zM150.6 227.6h0.9v0.9h-0.9zM146.5 227.1h0.9v0.9h-0.9zM137.0 235.9h0.9v0.9h-0.9zM131.7 240.4h0.9v0.9h-0.9zM153.1 235.0h0.9v0.9h-0.9zM129.7 233.8h0.9v0.9h-0.9zM152.5 246.3h0.9v0.9h-0.9zM149.1 214.1h0.9v0.9h-0.9zM134.2 245.8h0.9v0.9h-0.9zM128.7 241.5h0.9v0.9h-0.9zM159.8 244.4h0.9v0.9h-0.9zM152.2 230.9h0.9v0.9h-0.9zM128.7 228.2h0.9v0.9h-0.9zM139.0 231.1h0.9v0.9h-0.9zM148.0 232.0h0.9v0.9h-0.9zM142.9 237.0h0.9v0.9h-0.9zM140.9 251.9h0.9v0.9h-0.9zM145.4 233.9h0.9v0.9h-0.9zM138.9 224.8h0.9v0.9h-0.9zM154.4 236.6h0.9v0.9h-0.9z" fill="#8484f4"/>
<path d="M122.6 226.1h0.9v0.9h-0.9zM139.5 227.8h0.9v0.9h-0.9zM161.5 217.7h0.9v0.9h-0.9zM150.9 236.0h0.9v0.9h-0.9zM120.8 234.7h0.9v0.9h-0.9zM140.3 241.0h0.9v0.9h-0.9zM133.9 238.2h0.9v0.9h-0.9zM112.0 218.8h0.9v0.9h-0.9zM156.1 248.6h0.9v0.9h-0.9zM141.8 225.6h0.9v0.9h-0.9zM161.5 204.7h0.9v0.9h-0.9zM127.6 243.4h0.9v0.9h-0.9zM153.7 219.5h0.9v0.9h-0.9zM144.8 221.5h0.9v0.9h-0.9zM143.0 246.6h0.9v0.9h-0.9zM155.3 204.9h0.9v0.9h-0.9zM155.9 209.1h0.9v0.9h-0.9zM162.5 239.6h0.9v0.9h-0.9zM142.1 248.7h0.9v0.9h-0.9zM130.5 224.1h0.9v0.9h-0.9zM135.3 233.0h0.9v0.9h-0.9zM122.5 240.8h0.9v0.9h-0.9zM151.8 235.0h0.9v0.9h-0.9zM172.6 229.4h0.9v0.9h-0.9zM165.5 226.3h0.9v0.9h-0.9zM155.6 206.9h0.9v0.9h-0.9zM145.6 231.5h0.9v0.9h-0.9zM133.1 225.5h0.9v0.9h-0.9zM135.7 223.9h0.9v0.9h-0.9zM132.1 226.7h0.9v0.9h-0.9zM123.0 232.1h0.9v0.9h-0.9zM156.1 230.5h0.9v0.9h-0.9zM159.6 246.9h0.9v0.9h-0.9zM162.8 229.4h0.9v0.9h-0.9zM139.7 249.6h0.9v0.9h-0.9zM132.0 232.3h0.9v0.9h-0.9zM148.8 239.2h0.9v0.9h-0.9zM137.0 247.8h0.9v0.9h-0.9zM138.8 244.2h0.9v0.9h-0.9zM161.3 243.2h0.9v0.9h-0.9z" fill="#c0c0f8"/>
<ellipse cx="143.5" cy="229" rx="8.5" ry="8.2" fill="#0000e0" opacity="1.0" filter="url(#b2)"/>
<ellipse cx="136" cy="222" rx="4" ry="4" fill="#1a1ae0" opacity="0.55" filter="url(#b2)"/>
</g>
<line x1="124.80" y1="183.80" x2="124.80" y2="253.60" stroke="#333" stroke-width="1.2"/>
<line x1="104.90" y1="216.10" x2="175.50" y2="216.10" stroke="#333" stroke-width="1.2"/>
<line x1="104.90" y1="183.30" x2="104.90" y2="254.30" stroke="#111" stroke-width="1.6"/>
<line x1="104.20" y1="253.60" x2="175.80" y2="253.60" stroke="#111" stroke-width="1.6"/>
<line x1="102.70" y1="253.60" x2="104.90" y2="253.60" stroke="#111" stroke-width="1.0"/>
<line x1="104.90" y1="253.60" x2="104.90" y2="255.80" stroke="#111" stroke-width="1.0"/>
<line x1="103.70" y1="248.35" x2="104.90" y2="248.35" stroke="#333" stroke-width="0.6"/>
<line x1="110.21" y1="253.60" x2="110.21" y2="254.80" stroke="#333" stroke-width="0.6"/>
<line x1="103.70" y1="245.27" x2="104.90" y2="245.27" stroke="#333" stroke-width="0.6"/>
<line x1="113.32" y1="253.60" x2="113.32" y2="254.80" stroke="#333" stroke-width="0.6"/>
<line x1="103.70" y1="243.09" x2="104.90" y2="243.09" stroke="#333" stroke-width="0.6"/>
<line x1="115.53" y1="253.60" x2="115.53" y2="254.80" stroke="#333" stroke-width="0.6"/>
<line x1="103.70" y1="241.40" x2="104.90" y2="241.40" stroke="#333" stroke-width="0.6"/>
<line x1="117.24" y1="253.60" x2="117.24" y2="254.80" stroke="#333" stroke-width="0.6"/>
<line x1="103.70" y1="240.02" x2="104.90" y2="240.02" stroke="#333" stroke-width="0.6"/>
<line x1="118.63" y1="253.60" x2="118.63" y2="254.80" stroke="#333" stroke-width="0.6"/>
<line x1="103.70" y1="238.85" x2="104.90" y2="238.85" stroke="#333" stroke-width="0.6"/>
<line x1="119.82" y1="253.60" x2="119.82" y2="254.80" stroke="#333" stroke-width="0.6"/>
<line x1="103.70" y1="237.84" x2="104.90" y2="237.84" stroke="#333" stroke-width="0.6"/>
<line x1="120.84" y1="253.60" x2="120.84" y2="254.80" stroke="#333" stroke-width="0.6"/>
<line x1="103.70" y1="236.95" x2="104.90" y2="236.95" stroke="#333" stroke-width="0.6"/>
<line x1="121.74" y1="253.60" x2="121.74" y2="254.80" stroke="#333" stroke-width="0.6"/>
<line x1="102.70" y1="236.15" x2="104.90" y2="236.15" stroke="#111" stroke-width="1.0"/>
<line x1="122.55" y1="253.60" x2="122.55" y2="255.80" stroke="#111" stroke-width="1.0"/>
<line x1="103.70" y1="230.90" x2="104.90" y2="230.90" stroke="#333" stroke-width="0.6"/>
<line x1="127.86" y1="253.60" x2="127.86" y2="254.80" stroke="#333" stroke-width="0.6"/>
<line x1="103.70" y1="227.82" x2="104.90" y2="227.82" stroke="#333" stroke-width="0.6"/>
<line x1="130.97" y1="253.60" x2="130.97" y2="254.80" stroke="#333" stroke-width="0.6"/>
<line x1="103.70" y1="225.64" x2="104.90" y2="225.64" stroke="#333" stroke-width="0.6"/>
<line x1="133.18" y1="253.60" x2="133.18" y2="254.80" stroke="#333" stroke-width="0.6"/>
<line x1="103.70" y1="223.95" x2="104.90" y2="223.95" stroke="#333" stroke-width="0.6"/>
<line x1="134.89" y1="253.60" x2="134.89" y2="254.80" stroke="#333" stroke-width="0.6"/>
<line x1="103.70" y1="222.57" x2="104.90" y2="222.57" stroke="#333" stroke-width="0.6"/>
<line x1="136.28" y1="253.60" x2="136.28" y2="254.80" stroke="#333" stroke-width="0.6"/>
<line x1="103.70" y1="221.40" x2="104.90" y2="221.40" stroke="#333" stroke-width="0.6"/>
<line x1="137.47" y1="253.60" x2="137.47" y2="254.80" stroke="#333" stroke-width="0.6"/>
<line x1="103.70" y1="220.39" x2="104.90" y2="220.39" stroke="#333" stroke-width="0.6"/>
<line x1="138.49" y1="253.60" x2="138.49" y2="254.80" stroke="#333" stroke-width="0.6"/>
<line x1="103.70" y1="219.50" x2="104.90" y2="219.50" stroke="#333" stroke-width="0.6"/>
<line x1="139.39" y1="253.60" x2="139.39" y2="254.80" stroke="#333" stroke-width="0.6"/>
<line x1="102.70" y1="218.70" x2="104.90" y2="218.70" stroke="#111" stroke-width="1.0"/>
<line x1="140.20" y1="253.60" x2="140.20" y2="255.80" stroke="#111" stroke-width="1.0"/>
<line x1="103.70" y1="213.45" x2="104.90" y2="213.45" stroke="#333" stroke-width="0.6"/>
<line x1="145.51" y1="253.60" x2="145.51" y2="254.80" stroke="#333" stroke-width="0.6"/>
<line x1="103.70" y1="210.37" x2="104.90" y2="210.37" stroke="#333" stroke-width="0.6"/>
<line x1="148.62" y1="253.60" x2="148.62" y2="254.80" stroke="#333" stroke-width="0.6"/>
<line x1="103.70" y1="208.19" x2="104.90" y2="208.19" stroke="#333" stroke-width="0.6"/>
<line x1="150.83" y1="253.60" x2="150.83" y2="254.80" stroke="#333" stroke-width="0.6"/>
<line x1="103.70" y1="206.50" x2="104.90" y2="206.50" stroke="#333" stroke-width="0.6"/>
<line x1="152.54" y1="253.60" x2="152.54" y2="254.80" stroke="#333" stroke-width="0.6"/>
<line x1="103.70" y1="205.12" x2="104.90" y2="205.12" stroke="#333" stroke-width="0.6"/>
<line x1="153.93" y1="253.60" x2="153.93" y2="254.80" stroke="#333" stroke-width="0.6"/>
<line x1="103.70" y1="203.95" x2="104.90" y2="203.95" stroke="#333" stroke-width="0.6"/>
<line x1="155.12" y1="253.60" x2="155.12" y2="254.80" stroke="#333" stroke-width="0.6"/>
<line x1="103.70" y1="202.94" x2="104.90" y2="202.94" stroke="#333" stroke-width="0.6"/>
<line x1="156.14" y1="253.60" x2="156.14" y2="254.80" stroke="#333" stroke-width="0.6"/>
<line x1="103.70" y1="202.05" x2="104.90" y2="202.05" stroke="#333" stroke-width="0.6"/>
<line x1="157.04" y1="253.60" x2="157.04" y2="254.80" stroke="#333" stroke-width="0.6"/>
<line x1="102.70" y1="201.25" x2="104.90" y2="201.25" stroke="#111" stroke-width="1.0"/>
<line x1="157.85" y1="253.60" x2="157.85" y2="255.80" stroke="#111" stroke-width="1.0"/>
<line x1="103.70" y1="196.00" x2="104.90" y2="196.00" stroke="#333" stroke-width="0.6"/>
<line x1="163.16" y1="253.60" x2="163.16" y2="254.80" stroke="#333" stroke-width="0.6"/>
<line x1="103.70" y1="192.92" x2="104.90" y2="192.92" stroke="#333" stroke-width="0.6"/>
<line x1="166.27" y1="253.60" x2="166.27" y2="254.80" stroke="#333" stroke-width="0.6"/>
<line x1="103.70" y1="190.74" x2="104.90" y2="190.74" stroke="#333" stroke-width="0.6"/>
<line x1="168.48" y1="253.60" x2="168.48" y2="254.80" stroke="#333" stroke-width="0.6"/>
<line x1="103.70" y1="189.05" x2="104.90" y2="189.05" stroke="#333" stroke-width="0.6"/>
<line x1="170.19" y1="253.60" x2="170.19" y2="254.80" stroke="#333" stroke-width="0.6"/>
<line x1="103.70" y1="187.67" x2="104.90" y2="187.67" stroke="#333" stroke-width="0.6"/>
<line x1="171.58" y1="253.60" x2="171.58" y2="254.80" stroke="#333" stroke-width="0.6"/>
<line x1="103.70" y1="186.50" x2="104.90" y2="186.50" stroke="#333" stroke-width="0.6"/>
<line x1="172.77" y1="253.60" x2="172.77" y2="254.80" stroke="#333" stroke-width="0.6"/>
<line x1="103.70" y1="185.49" x2="104.90" y2="185.49" stroke="#333" stroke-width="0.6"/>
<line x1="173.79" y1="253.60" x2="173.79" y2="254.80" stroke="#333" stroke-width="0.6"/>
<line x1="103.70" y1="184.60" x2="104.90" y2="184.60" stroke="#333" stroke-width="0.6"/>
<line x1="174.69" y1="253.60" x2="174.69" y2="254.80" stroke="#333" stroke-width="0.6"/>
<line x1="102.70" y1="183.80" x2="104.90" y2="183.80" stroke="#111" stroke-width="1.0"/>
<line x1="175.50" y1="253.60" x2="175.50" y2="255.80" stroke="#111" stroke-width="1.0"/>
<text x="107.20" y="193.50" font-size="9.3" font-weight="normal" text-anchor="start" fill="#1a1a1a" textLength="22.50" lengthAdjust="spacingAndGlyphs" >1.67%</text>
<text x="151.20" y="193.50" font-size="9.3" font-weight="normal" text-anchor="start" fill="#1a1a1a" textLength="23.10" lengthAdjust="spacingAndGlyphs" >4.15%</text>
<text x="106.30" y="247.50" font-size="9.3" font-weight="normal" text-anchor="start" fill="#1a1a1a" textLength="23.60" lengthAdjust="spacingAndGlyphs" >8.04%</text>
<text x="150.80" y="247.70" font-size="9.3" font-weight="normal" text-anchor="start" fill="#1a1a1a" textLength="27.70" lengthAdjust="spacingAndGlyphs" >86.14%</text>
<text x="100.70" y="260.80" font-size="7.6" font-weight="normal" text-anchor="end" fill="#2a2a2a" >10</text>
<text x="101.70" y="254.80" font-size="4.8" font-weight="normal" text-anchor="middle" fill="#2a2a2a" >0</text>
<text x="103.70" y="269.40" font-size="7.6" font-weight="normal" text-anchor="middle" fill="#2a2a2a" >10</text>
<text x="106.50" y="262.20" font-size="4.8" font-weight="normal" text-anchor="middle" fill="#2a2a2a" >0</text>
<text x="100.70" y="243.35" font-size="7.6" font-weight="normal" text-anchor="end" fill="#2a2a2a" >10</text>
<text x="101.70" y="237.35" font-size="4.8" font-weight="normal" text-anchor="middle" fill="#2a2a2a" >1</text>
<text x="121.35" y="269.40" font-size="7.6" font-weight="normal" text-anchor="middle" fill="#2a2a2a" >10</text>
<text x="124.15" y="262.20" font-size="4.8" font-weight="normal" text-anchor="middle" fill="#2a2a2a" >1</text>
<text x="100.70" y="225.90" font-size="7.6" font-weight="normal" text-anchor="end" fill="#2a2a2a" >10</text>
<text x="101.70" y="219.90" font-size="4.8" font-weight="normal" text-anchor="middle" fill="#2a2a2a" >2</text>
<text x="139.00" y="269.40" font-size="7.6" font-weight="normal" text-anchor="middle" fill="#2a2a2a" >10</text>
<text x="141.80" y="262.20" font-size="4.8" font-weight="normal" text-anchor="middle" fill="#2a2a2a" >2</text>
<text x="100.70" y="208.45" font-size="7.6" font-weight="normal" text-anchor="end" fill="#2a2a2a" >10</text>
<text x="101.70" y="202.45" font-size="4.8" font-weight="normal" text-anchor="middle" fill="#2a2a2a" >3</text>
<text x="156.65" y="269.40" font-size="7.6" font-weight="normal" text-anchor="middle" fill="#2a2a2a" >10</text>
<text x="159.45" y="262.20" font-size="4.8" font-weight="normal" text-anchor="middle" fill="#2a2a2a" >3</text>
<text x="100.70" y="191.00" font-size="7.6" font-weight="normal" text-anchor="end" fill="#2a2a2a" >10</text>
<text x="101.70" y="185.00" font-size="4.8" font-weight="normal" text-anchor="middle" fill="#2a2a2a" >4</text>
<text x="174.30" y="269.40" font-size="7.6" font-weight="normal" text-anchor="middle" fill="#2a2a2a" >10</text>
<text x="177.10" y="262.20" font-size="4.8" font-weight="normal" text-anchor="middle" fill="#2a2a2a" >4</text>
<text x="140.20" y="276.86" font-size="9.6" font-weight="normal" text-anchor="middle" fill="#1a1a1a" textLength="29.60" lengthAdjust="spacingAndGlyphs" >APC-A</text>
<text x="0" y="0" font-size="9" font-weight="normal" text-anchor="middle" fill="#1a1a1a" textLength="72.60" lengthAdjust="spacingAndGlyphs" transform="translate(85.35 218.30) rotate(-90)" >Alexa Fluor 488-A</text>
<rect x="249.10" y="183.60" width="72.90" height="72.80" fill="none" stroke="#b0b0b0" stroke-width="0.9"/>
<clipPath id="pc249183"><rect x="249.10" y="183.60" width="72.90" height="72.80"/></clipPath><g clip-path="url(#pc249183)">
<ellipse cx="265" cy="222" rx="13" ry="11" fill="#6a6af0" opacity="0.4" filter="url(#b3)"/>
<path d="M274.0 217.6h0.9v0.9h-0.9zM262.8 219.3h0.9v0.9h-0.9zM272.6 230.7h0.9v0.9h-0.9zM263.3 223.9h0.9v0.9h-0.9zM265.3 218.9h0.9v0.9h-0.9zM268.5 226.3h0.9v0.9h-0.9zM271.2 229.0h0.9v0.9h-0.9zM264.6 226.9h0.9v0.9h-0.9zM275.1 223.8h0.9v0.9h-0.9zM272.6 220.4h0.9v0.9h-0.9zM264.0 220.4h0.9v0.9h-0.9zM266.5 237.1h0.9v0.9h-0.9zM267.3 231.0h0.9v0.9h-0.9zM271.1 224.7h0.9v0.9h-0.9zM274.1 219.5h0.9v0.9h-0.9zM275.0 225.3h0.9v0.9h-0.9zM261.7 225.2h0.9v0.9h-0.9zM273.0 225.5h0.9v0.9h-0.9zM278.7 221.7h0.9v0.9h-0.9zM272.8 227.0h0.9v0.9h-0.9zM265.0 228.5h0.9v0.9h-0.9zM262.0 215.8h0.9v0.9h-0.9zM272.9 217.8h0.9v0.9h-0.9zM269.4 214.8h0.9v0.9h-0.9zM270.4 217.4h0.9v0.9h-0.9zM271.9 215.5h0.9v0.9h-0.9zM272.5 221.9h0.9v0.9h-0.9zM270.4 222.7h0.9v0.9h-0.9zM270.7 216.5h0.9v0.9h-0.9zM255.9 221.9h0.9v0.9h-0.9zM264.9 220.3h0.9v0.9h-0.9zM272.3 213.3h0.9v0.9h-0.9zM265.8 219.6h0.9v0.9h-0.9zM264.2 224.1h0.9v0.9h-0.9zM269.2 218.8h0.9v0.9h-0.9zM264.6 226.5h0.9v0.9h-0.9zM266.4 225.6h0.9v0.9h-0.9zM272.5 213.8h0.9v0.9h-0.9zM264.0 222.5h0.9v0.9h-0.9zM271.9 227.0h0.9v0.9h-0.9zM274.4 228.5h0.9v0.9h-0.9zM267.9 221.8h0.9v0.9h-0.9zM274.3 221.3h0.9v0.9h-0.9zM275.8 215.6h0.9v0.9h-0.9zM273.6 222.5h0.9v0.9h-0.9zM259.2 226.9h0.9v0.9h-0.9zM271.7 223.3h0.9v0.9h-0.9zM264.1 220.1h0.9v0.9h-0.9zM278.3 219.6h0.9v0.9h-0.9zM250.9 217.0h0.9v0.9h-0.9zM263.4 221.7h0.9v0.9h-0.9zM267.8 218.3h0.9v0.9h-0.9zM265.4 227.8h0.9v0.9h-0.9zM262.1 232.0h0.9v0.9h-0.9zM267.0 217.3h0.9v0.9h-0.9zM274.3 226.2h0.9v0.9h-0.9zM264.3 226.2h0.9v0.9h-0.9zM259.9 217.5h0.9v0.9h-0.9zM276.2 222.3h0.9v0.9h-0.9zM262.8 224.9h0.9v0.9h-0.9zM275.0 223.3h0.9v0.9h-0.9zM260.1 220.4h0.9v0.9h-0.9zM272.3 227.0h0.9v0.9h-0.9zM280.2 222.7h0.9v0.9h-0.9zM267.3 222.6h0.9v0.9h-0.9zM276.6 218.9h0.9v0.9h-0.9zM277.2 210.0h0.9v0.9h-0.9zM274.4 220.0h0.9v0.9h-0.9zM272.5 226.7h0.9v0.9h-0.9zM263.5 222.0h0.9v0.9h-0.9zM271.3 226.0h0.9v0.9h-0.9zM264.9 217.6h0.9v0.9h-0.9zM259.4 234.7h0.9v0.9h-0.9zM268.9 221.8h0.9v0.9h-0.9zM261.8 226.9h0.9v0.9h-0.9zM267.1 229.9h0.9v0.9h-0.9zM274.7 223.5h0.9v0.9h-0.9zM274.0 217.8h0.9v0.9h-0.9zM268.2 220.0h0.9v0.9h-0.9zM263.0 222.5h0.9v0.9h-0.9zM269.2 230.1h0.9v0.9h-0.9zM251.6 218.0h0.9v0.9h-0.9zM264.9 220.2h0.9v0.9h-0.9zM272.3 225.2h0.9v0.9h-0.9zM270.2 220.7h0.9v0.9h-0.9zM272.7 225.0h0.9v0.9h-0.9zM259.9 220.8h0.9v0.9h-0.9zM262.4 216.4h0.9v0.9h-0.9zM270.8 223.4h0.9v0.9h-0.9zM270.6 218.7h0.9v0.9h-0.9zM268.9 218.4h0.9v0.9h-0.9zM272.1 226.6h0.9v0.9h-0.9zM279.7 230.2h0.9v0.9h-0.9zM265.6 220.3h0.9v0.9h-0.9zM264.8 224.1h0.9v0.9h-0.9zM280.9 227.5h0.9v0.9h-0.9zM257.9 215.6h0.9v0.9h-0.9zM262.9 224.9h0.9v0.9h-0.9zM270.0 224.5h0.9v0.9h-0.9zM279.8 219.8h0.9v0.9h-0.9zM265.3 232.4h0.9v0.9h-0.9zM271.9 219.3h0.9v0.9h-0.9zM258.8 214.4h0.9v0.9h-0.9zM256.6 222.1h0.9v0.9h-0.9zM270.2 228.0h0.9v0.9h-0.9zM269.2 219.5h0.9v0.9h-0.9zM265.9 232.1h0.9v0.9h-0.9zM260.3 223.0h0.9v0.9h-0.9zM270.1 226.1h0.9v0.9h-0.9zM267.8 225.3h0.9v0.9h-0.9zM274.5 222.7h0.9v0.9h-0.9zM267.5 221.8h0.9v0.9h-0.9zM264.7 221.5h0.9v0.9h-0.9zM268.3 223.9h0.9v0.9h-0.9zM277.3 230.2h0.9v0.9h-0.9zM267.6 225.8h0.9v0.9h-0.9zM271.6 226.9h0.9v0.9h-0.9zM270.1 224.3h0.9v0.9h-0.9zM267.4 218.9h0.9v0.9h-0.9zM274.8 229.9h0.9v0.9h-0.9zM273.6 225.5h0.9v0.9h-0.9zM271.5 220.9h0.9v0.9h-0.9zM260.2 225.4h0.9v0.9h-0.9zM271.1 220.3h0.9v0.9h-0.9zM264.7 228.9h0.9v0.9h-0.9zM260.1 230.9h0.9v0.9h-0.9zM273.5 235.1h0.9v0.9h-0.9zM266.1 222.5h0.9v0.9h-0.9zM267.2 223.5h0.9v0.9h-0.9zM268.8 219.2h0.9v0.9h-0.9zM275.9 219.6h0.9v0.9h-0.9zM267.2 225.5h0.9v0.9h-0.9zM267.0 220.6h0.9v0.9h-0.9zM272.0 221.3h0.9v0.9h-0.9zM263.1 221.9h0.9v0.9h-0.9zM268.8 231.4h0.9v0.9h-0.9zM264.0 227.3h0.9v0.9h-0.9zM265.7 220.8h0.9v0.9h-0.9zM268.2 224.2h0.9v0.9h-0.9zM274.7 232.1h0.9v0.9h-0.9zM266.5 229.3h0.9v0.9h-0.9zM275.5 227.5h0.9v0.9h-0.9zM265.8 227.1h0.9v0.9h-0.9zM269.4 224.7h0.9v0.9h-0.9zM268.5 226.2h0.9v0.9h-0.9zM276.1 229.2h0.9v0.9h-0.9zM268.9 227.8h0.9v0.9h-0.9zM278.0 219.1h0.9v0.9h-0.9zM278.1 217.1h0.9v0.9h-0.9zM273.0 226.2h0.9v0.9h-0.9zM278.2 225.1h0.9v0.9h-0.9zM267.4 218.8h0.9v0.9h-0.9zM263.1 226.2h0.9v0.9h-0.9zM268.7 219.3h0.9v0.9h-0.9zM272.9 219.5h0.9v0.9h-0.9zM267.6 220.5h0.9v0.9h-0.9zM279.1 231.1h0.9v0.9h-0.9zM269.1 215.1h0.9v0.9h-0.9zM271.5 223.5h0.9v0.9h-0.9zM271.9 226.0h0.9v0.9h-0.9zM268.2 227.4h0.9v0.9h-0.9zM274.6 224.5h0.9v0.9h-0.9zM267.8 220.4h0.9v0.9h-0.9zM273.8 217.9h0.9v0.9h-0.9zM269.1 219.2h0.9v0.9h-0.9zM262.3 225.3h0.9v0.9h-0.9zM269.9 223.2h0.9v0.9h-0.9zM274.8 216.0h0.9v0.9h-0.9zM269.6 224.4h0.9v0.9h-0.9zM274.6 218.0h0.9v0.9h-0.9zM273.9 224.4h0.9v0.9h-0.9zM277.5 229.3h0.9v0.9h-0.9zM273.0 234.0h0.9v0.9h-0.9zM270.0 220.9h0.9v0.9h-0.9zM268.1 218.2h0.9v0.9h-0.9zM269.8 213.6h0.9v0.9h-0.9zM269.5 225.1h0.9v0.9h-0.9zM275.5 221.8h0.9v0.9h-0.9zM277.6 220.5h0.9v0.9h-0.9zM269.3 213.6h0.9v0.9h-0.9zM265.8 218.7h0.9v0.9h-0.9zM278.0 226.3h0.9v0.9h-0.9zM264.1 225.1h0.9v0.9h-0.9zM272.6 222.1h0.9v0.9h-0.9zM270.1 221.5h0.9v0.9h-0.9zM267.1 214.1h0.9v0.9h-0.9zM269.5 229.2h0.9v0.9h-0.9zM277.7 222.3h0.9v0.9h-0.9zM266.0 221.6h0.9v0.9h-0.9zM274.8 225.1h0.9v0.9h-0.9zM266.9 224.5h0.9v0.9h-0.9zM268.9 225.4h0.9v0.9h-0.9zM267.8 215.7h0.9v0.9h-0.9zM270.3 226.7h0.9v0.9h-0.9zM264.1 221.9h0.9v0.9h-0.9zM274.7 221.6h0.9v0.9h-0.9zM266.5 232.5h0.9v0.9h-0.9zM274.4 228.4h0.9v0.9h-0.9zM264.9 230.5h0.9v0.9h-0.9zM261.1 219.7h0.9v0.9h-0.9zM274.0 229.8h0.9v0.9h-0.9zM265.0 219.3h0.9v0.9h-0.9zM271.1 213.8h0.9v0.9h-0.9zM273.4 226.0h0.9v0.9h-0.9zM267.6 225.4h0.9v0.9h-0.9zM274.1 224.9h0.9v0.9h-0.9zM272.8 230.6h0.9v0.9h-0.9zM267.4 223.5h0.9v0.9h-0.9zM267.2 227.7h0.9v0.9h-0.9zM267.8 225.1h0.9v0.9h-0.9zM270.7 223.4h0.9v0.9h-0.9zM279.2 223.4h0.9v0.9h-0.9zM277.6 227.7h0.9v0.9h-0.9zM277.0 222.8h0.9v0.9h-0.9zM274.9 227.1h0.9v0.9h-0.9zM266.7 224.0h0.9v0.9h-0.9zM269.3 222.8h0.9v0.9h-0.9zM276.9 220.2h0.9v0.9h-0.9zM261.1 213.8h0.9v0.9h-0.9zM267.6 219.7h0.9v0.9h-0.9z" fill="#0a0ad8"/>
<path d="M264.6 225.5h0.9v0.9h-0.9zM278.9 225.0h0.9v0.9h-0.9zM268.3 217.7h0.9v0.9h-0.9zM269.3 230.8h0.9v0.9h-0.9zM275.5 210.6h0.9v0.9h-0.9zM271.8 232.4h0.9v0.9h-0.9zM271.3 213.2h0.9v0.9h-0.9zM262.0 225.5h0.9v0.9h-0.9zM267.9 217.2h0.9v0.9h-0.9zM257.2 227.5h0.9v0.9h-0.9zM253.6 230.1h0.9v0.9h-0.9zM264.7 223.9h0.9v0.9h-0.9zM253.6 217.5h0.9v0.9h-0.9zM270.1 213.3h0.9v0.9h-0.9zM281.4 214.6h0.9v0.9h-0.9zM254.5 221.5h0.9v0.9h-0.9zM268.4 226.9h0.9v0.9h-0.9zM261.5 220.5h0.9v0.9h-0.9zM262.6 218.3h0.9v0.9h-0.9zM266.6 223.1h0.9v0.9h-0.9zM259.4 223.2h0.9v0.9h-0.9zM264.4 221.5h0.9v0.9h-0.9zM273.5 212.0h0.9v0.9h-0.9zM266.6 215.5h0.9v0.9h-0.9zM261.9 231.1h0.9v0.9h-0.9zM255.6 220.7h0.9v0.9h-0.9zM259.7 227.5h0.9v0.9h-0.9zM256.5 210.9h0.9v0.9h-0.9zM268.7 220.1h0.9v0.9h-0.9zM261.9 228.5h0.9v0.9h-0.9zM257.3 219.1h0.9v0.9h-0.9zM265.7 224.7h0.9v0.9h-0.9zM260.3 228.1h0.9v0.9h-0.9zM282.8 220.9h0.9v0.9h-0.9zM279.8 210.1h0.9v0.9h-0.9zM276.0 220.7h0.9v0.9h-0.9zM265.6 220.0h0.9v0.9h-0.9zM259.3 213.7h0.9v0.9h-0.9zM261.3 229.8h0.9v0.9h-0.9zM273.8 220.5h0.9v0.9h-0.9zM260.2 217.3h0.9v0.9h-0.9zM254.7 232.5h0.9v0.9h-0.9zM269.9 223.1h0.9v0.9h-0.9zM260.5 215.3h0.9v0.9h-0.9zM275.2 227.7h0.9v0.9h-0.9zM256.7 227.5h0.9v0.9h-0.9zM255.5 225.3h0.9v0.9h-0.9zM256.7 218.8h0.9v0.9h-0.9zM268.5 225.0h0.9v0.9h-0.9zM272.8 217.4h0.9v0.9h-0.9zM277.4 231.3h0.9v0.9h-0.9zM264.4 224.9h0.9v0.9h-0.9zM258.2 220.6h0.9v0.9h-0.9zM253.7 221.7h0.9v0.9h-0.9zM266.1 230.5h0.9v0.9h-0.9zM272.2 227.7h0.9v0.9h-0.9zM261.5 220.4h0.9v0.9h-0.9zM261.7 223.2h0.9v0.9h-0.9zM251.7 217.8h0.9v0.9h-0.9zM264.7 218.8h0.9v0.9h-0.9zM278.1 222.4h0.9v0.9h-0.9zM277.3 230.3h0.9v0.9h-0.9zM260.4 224.2h0.9v0.9h-0.9zM275.1 220.7h0.9v0.9h-0.9zM265.2 218.6h0.9v0.9h-0.9zM265.0 219.8h0.9v0.9h-0.9zM265.2 228.3h0.9v0.9h-0.9zM275.9 223.7h0.9v0.9h-0.9zM266.1 227.4h0.9v0.9h-0.9zM262.1 215.2h0.9v0.9h-0.9zM273.6 216.9h0.9v0.9h-0.9zM272.1 216.6h0.9v0.9h-0.9zM279.4 216.7h0.9v0.9h-0.9zM271.4 231.8h0.9v0.9h-0.9zM256.7 230.6h0.9v0.9h-0.9zM257.8 210.5h0.9v0.9h-0.9zM270.4 226.8h0.9v0.9h-0.9zM262.8 206.2h0.9v0.9h-0.9zM264.1 220.1h0.9v0.9h-0.9zM261.4 220.0h0.9v0.9h-0.9zM249.9 217.4h0.9v0.9h-0.9zM279.2 232.7h0.9v0.9h-0.9zM261.5 217.4h0.9v0.9h-0.9zM267.7 228.8h0.9v0.9h-0.9zM270.4 215.2h0.9v0.9h-0.9zM265.8 223.0h0.9v0.9h-0.9zM276.2 230.3h0.9v0.9h-0.9zM268.8 229.9h0.9v0.9h-0.9zM261.3 231.3h0.9v0.9h-0.9zM261.0 224.2h0.9v0.9h-0.9zM272.0 216.9h0.9v0.9h-0.9zM258.8 210.6h0.9v0.9h-0.9zM265.8 221.8h0.9v0.9h-0.9zM261.8 224.9h0.9v0.9h-0.9zM265.2 220.4h0.9v0.9h-0.9zM271.0 233.4h0.9v0.9h-0.9zM260.9 215.9h0.9v0.9h-0.9zM259.6 222.2h0.9v0.9h-0.9zM269.3 217.0h0.9v0.9h-0.9zM272.7 216.3h0.9v0.9h-0.9zM271.2 225.2h0.9v0.9h-0.9zM268.3 235.7h0.9v0.9h-0.9zM262.3 220.8h0.9v0.9h-0.9zM268.4 227.7h0.9v0.9h-0.9zM253.6 222.9h0.9v0.9h-0.9zM258.4 225.5h0.9v0.9h-0.9zM275.7 223.2h0.9v0.9h-0.9zM263.6 223.1h0.9v0.9h-0.9zM269.1 223.4h0.9v0.9h-0.9zM261.3 217.2h0.9v0.9h-0.9zM263.0 229.4h0.9v0.9h-0.9zM263.7 230.3h0.9v0.9h-0.9zM266.7 222.1h0.9v0.9h-0.9zM251.0 216.8h0.9v0.9h-0.9zM274.7 214.8h0.9v0.9h-0.9zM256.4 214.6h0.9v0.9h-0.9zM260.0 225.6h0.9v0.9h-0.9zM269.3 209.8h0.9v0.9h-0.9zM276.4 219.2h0.9v0.9h-0.9zM259.7 232.0h0.9v0.9h-0.9zM263.8 214.3h0.9v0.9h-0.9zM259.3 217.1h0.9v0.9h-0.9zM256.3 219.3h0.9v0.9h-0.9zM271.7 224.7h0.9v0.9h-0.9zM253.2 238.4h0.9v0.9h-0.9zM256.4 222.1h0.9v0.9h-0.9zM264.8 226.7h0.9v0.9h-0.9zM261.8 224.6h0.9v0.9h-0.9zM281.7 223.9h0.9v0.9h-0.9zM255.7 223.4h0.9v0.9h-0.9zM257.9 219.2h0.9v0.9h-0.9zM266.0 224.2h0.9v0.9h-0.9zM262.2 227.1h0.9v0.9h-0.9zM262.9 213.8h0.9v0.9h-0.9zM271.7 220.3h0.9v0.9h-0.9zM274.4 218.7h0.9v0.9h-0.9zM269.2 224.3h0.9v0.9h-0.9zM255.4 230.0h0.9v0.9h-0.9zM273.4 225.8h0.9v0.9h-0.9zM270.0 219.3h0.9v0.9h-0.9zM264.4 223.4h0.9v0.9h-0.9zM267.9 226.7h0.9v0.9h-0.9zM262.8 217.5h0.9v0.9h-0.9zM259.9 224.2h0.9v0.9h-0.9zM250.9 213.2h0.9v0.9h-0.9zM261.1 218.3h0.9v0.9h-0.9zM262.3 205.3h0.9v0.9h-0.9zM261.7 220.2h0.9v0.9h-0.9zM270.8 210.2h0.9v0.9h-0.9zM262.0 224.8h0.9v0.9h-0.9zM268.5 229.7h0.9v0.9h-0.9zM273.1 216.1h0.9v0.9h-0.9zM269.7 220.3h0.9v0.9h-0.9zM257.9 231.0h0.9v0.9h-0.9zM259.4 216.3h0.9v0.9h-0.9zM261.2 216.4h0.9v0.9h-0.9zM272.7 225.0h0.9v0.9h-0.9zM275.9 225.4h0.9v0.9h-0.9zM259.5 228.1h0.9v0.9h-0.9zM259.1 218.7h0.9v0.9h-0.9zM263.1 222.1h0.9v0.9h-0.9zM274.3 219.0h0.9v0.9h-0.9zM267.4 222.0h0.9v0.9h-0.9zM254.2 214.4h0.9v0.9h-0.9zM262.7 224.4h0.9v0.9h-0.9zM267.1 225.2h0.9v0.9h-0.9zM264.9 219.2h0.9v0.9h-0.9zM268.0 216.0h0.9v0.9h-0.9zM253.5 219.1h0.9v0.9h-0.9zM252.8 217.9h0.9v0.9h-0.9zM258.4 218.1h0.9v0.9h-0.9zM264.1 217.0h0.9v0.9h-0.9zM261.0 211.1h0.9v0.9h-0.9zM265.7 216.6h0.9v0.9h-0.9zM267.8 204.6h0.9v0.9h-0.9zM257.9 223.0h0.9v0.9h-0.9zM265.3 222.7h0.9v0.9h-0.9zM252.2 222.5h0.9v0.9h-0.9zM265.7 216.0h0.9v0.9h-0.9zM270.6 222.2h0.9v0.9h-0.9zM264.7 219.2h0.9v0.9h-0.9zM269.0 222.9h0.9v0.9h-0.9zM273.8 225.5h0.9v0.9h-0.9zM259.4 220.2h0.9v0.9h-0.9zM272.0 220.3h0.9v0.9h-0.9zM267.6 225.5h0.9v0.9h-0.9zM263.0 207.3h0.9v0.9h-0.9zM265.6 223.4h0.9v0.9h-0.9zM265.6 217.3h0.9v0.9h-0.9zM274.4 221.9h0.9v0.9h-0.9zM259.4 217.1h0.9v0.9h-0.9zM267.4 215.4h0.9v0.9h-0.9zM256.3 233.9h0.9v0.9h-0.9zM275.3 229.4h0.9v0.9h-0.9zM275.7 226.6h0.9v0.9h-0.9zM250.6 228.4h0.9v0.9h-0.9zM274.7 225.8h0.9v0.9h-0.9zM275.7 219.8h0.9v0.9h-0.9zM265.5 226.9h0.9v0.9h-0.9zM263.8 228.8h0.9v0.9h-0.9zM265.2 226.4h0.9v0.9h-0.9zM265.2 212.8h0.9v0.9h-0.9zM256.3 241.2h0.9v0.9h-0.9zM266.8 230.4h0.9v0.9h-0.9zM273.9 233.5h0.9v0.9h-0.9zM269.1 218.6h0.9v0.9h-0.9zM264.7 210.0h0.9v0.9h-0.9zM262.9 227.6h0.9v0.9h-0.9zM271.3 230.8h0.9v0.9h-0.9zM256.9 217.3h0.9v0.9h-0.9zM268.9 235.3h0.9v0.9h-0.9zM255.0 229.9h0.9v0.9h-0.9zM268.0 219.2h0.9v0.9h-0.9zM282.6 207.6h0.9v0.9h-0.9zM263.9 223.3h0.9v0.9h-0.9zM282.1 234.6h0.9v0.9h-0.9zM283.2 224.3h0.9v0.9h-0.9zM272.6 231.2h0.9v0.9h-0.9zM268.7 224.6h0.9v0.9h-0.9zM263.0 219.3h0.9v0.9h-0.9zM254.3 233.5h0.9v0.9h-0.9zM260.8 208.6h0.9v0.9h-0.9zM266.7 222.0h0.9v0.9h-0.9zM266.0 233.5h0.9v0.9h-0.9zM263.6 220.3h0.9v0.9h-0.9zM258.3 221.4h0.9v0.9h-0.9zM260.9 223.0h0.9v0.9h-0.9zM290.3 226.4h0.9v0.9h-0.9zM257.4 233.6h0.9v0.9h-0.9zM271.6 227.7h0.9v0.9h-0.9zM270.4 227.6h0.9v0.9h-0.9zM270.1 231.3h0.9v0.9h-0.9zM272.8 231.1h0.9v0.9h-0.9zM260.3 221.7h0.9v0.9h-0.9zM258.5 227.6h0.9v0.9h-0.9zM271.4 219.6h0.9v0.9h-0.9zM269.3 238.9h0.9v0.9h-0.9zM274.7 215.8h0.9v0.9h-0.9zM263.7 225.9h0.9v0.9h-0.9zM264.2 224.4h0.9v0.9h-0.9zM274.3 224.8h0.9v0.9h-0.9zM255.4 225.8h0.9v0.9h-0.9zM263.7 222.7h0.9v0.9h-0.9zM259.8 212.9h0.9v0.9h-0.9zM254.2 219.0h0.9v0.9h-0.9zM255.6 204.2h0.9v0.9h-0.9zM274.0 215.4h0.9v0.9h-0.9zM258.5 224.9h0.9v0.9h-0.9zM258.1 225.7h0.9v0.9h-0.9zM260.5 223.6h0.9v0.9h-0.9zM265.4 222.1h0.9v0.9h-0.9zM264.2 230.9h0.9v0.9h-0.9zM260.0 225.0h0.9v0.9h-0.9zM265.8 225.1h0.9v0.9h-0.9zM272.7 213.2h0.9v0.9h-0.9zM266.8 221.1h0.9v0.9h-0.9zM261.9 216.4h0.9v0.9h-0.9zM258.0 215.0h0.9v0.9h-0.9zM255.4 237.1h0.9v0.9h-0.9zM278.6 223.1h0.9v0.9h-0.9zM270.6 216.3h0.9v0.9h-0.9zM265.7 231.2h0.9v0.9h-0.9zM264.2 215.7h0.9v0.9h-0.9zM262.5 215.6h0.9v0.9h-0.9zM252.9 219.7h0.9v0.9h-0.9zM261.2 216.6h0.9v0.9h-0.9zM257.2 215.6h0.9v0.9h-0.9zM266.5 230.9h0.9v0.9h-0.9zM262.8 236.0h0.9v0.9h-0.9zM251.1 222.7h0.9v0.9h-0.9zM254.9 220.3h0.9v0.9h-0.9zM265.3 225.6h0.9v0.9h-0.9zM273.9 219.2h0.9v0.9h-0.9zM254.2 220.0h0.9v0.9h-0.9zM266.9 217.8h0.9v0.9h-0.9zM271.9 233.2h0.9v0.9h-0.9zM252.7 223.4h0.9v0.9h-0.9zM272.9 210.5h0.9v0.9h-0.9zM266.2 220.7h0.9v0.9h-0.9zM252.7 229.4h0.9v0.9h-0.9zM266.3 219.1h0.9v0.9h-0.9zM268.2 226.3h0.9v0.9h-0.9zM270.9 226.1h0.9v0.9h-0.9zM267.9 214.8h0.9v0.9h-0.9zM261.0 222.5h0.9v0.9h-0.9zM261.4 215.1h0.9v0.9h-0.9zM264.8 218.3h0.9v0.9h-0.9zM261.0 216.1h0.9v0.9h-0.9zM258.3 220.9h0.9v0.9h-0.9zM259.2 225.9h0.9v0.9h-0.9zM263.3 222.7h0.9v0.9h-0.9zM267.9 230.3h0.9v0.9h-0.9zM269.5 223.8h0.9v0.9h-0.9zM263.1 216.8h0.9v0.9h-0.9zM261.7 226.1h0.9v0.9h-0.9zM266.4 219.7h0.9v0.9h-0.9zM253.5 211.5h0.9v0.9h-0.9zM267.2 228.7h0.9v0.9h-0.9zM267.6 213.6h0.9v0.9h-0.9zM262.7 223.3h0.9v0.9h-0.9zM256.9 223.6h0.9v0.9h-0.9zM262.8 216.6h0.9v0.9h-0.9zM254.2 226.3h0.9v0.9h-0.9zM267.5 216.6h0.9v0.9h-0.9zM256.1 227.0h0.9v0.9h-0.9zM269.4 220.5h0.9v0.9h-0.9zM277.7 221.2h0.9v0.9h-0.9zM255.8 228.2h0.9v0.9h-0.9zM262.9 224.1h0.9v0.9h-0.9zM264.8 215.7h0.9v0.9h-0.9zM254.7 220.0h0.9v0.9h-0.9zM276.1 216.6h0.9v0.9h-0.9zM275.7 224.2h0.9v0.9h-0.9zM255.3 223.0h0.9v0.9h-0.9zM269.2 216.7h0.9v0.9h-0.9zM255.3 224.1h0.9v0.9h-0.9zM257.8 212.2h0.9v0.9h-0.9zM262.5 222.9h0.9v0.9h-0.9zM259.9 214.2h0.9v0.9h-0.9zM266.3 211.1h0.9v0.9h-0.9zM268.9 225.4h0.9v0.9h-0.9zM278.4 228.6h0.9v0.9h-0.9zM267.4 223.9h0.9v0.9h-0.9zM264.7 213.7h0.9v0.9h-0.9zM276.6 226.2h0.9v0.9h-0.9zM262.1 214.6h0.9v0.9h-0.9zM276.8 226.3h0.9v0.9h-0.9zM254.7 225.5h0.9v0.9h-0.9zM280.2 223.1h0.9v0.9h-0.9zM267.8 219.6h0.9v0.9h-0.9zM259.3 228.3h0.9v0.9h-0.9zM289.9 224.7h0.9v0.9h-0.9zM263.5 226.9h0.9v0.9h-0.9zM262.0 226.4h0.9v0.9h-0.9zM271.3 216.1h0.9v0.9h-0.9zM255.6 220.9h0.9v0.9h-0.9zM271.4 224.3h0.9v0.9h-0.9zM274.7 214.1h0.9v0.9h-0.9zM268.6 218.4h0.9v0.9h-0.9zM265.3 224.1h0.9v0.9h-0.9zM256.5 220.0h0.9v0.9h-0.9zM254.9 222.9h0.9v0.9h-0.9zM257.5 218.4h0.9v0.9h-0.9zM266.3 218.0h0.9v0.9h-0.9zM274.0 218.7h0.9v0.9h-0.9zM271.5 224.3h0.9v0.9h-0.9zM256.0 220.0h0.9v0.9h-0.9zM257.6 219.2h0.9v0.9h-0.9zM262.3 233.2h0.9v0.9h-0.9zM261.0 231.6h0.9v0.9h-0.9zM268.2 214.1h0.9v0.9h-0.9zM273.0 225.1h0.9v0.9h-0.9zM262.8 220.3h0.9v0.9h-0.9zM266.6 220.3h0.9v0.9h-0.9zM260.1 219.3h0.9v0.9h-0.9zM274.1 218.8h0.9v0.9h-0.9zM267.6 215.0h0.9v0.9h-0.9zM258.6 212.9h0.9v0.9h-0.9zM262.9 226.2h0.9v0.9h-0.9zM267.0 219.1h0.9v0.9h-0.9zM269.5 220.2h0.9v0.9h-0.9zM267.6 223.9h0.9v0.9h-0.9zM269.0 206.8h0.9v0.9h-0.9zM253.8 226.0h0.9v0.9h-0.9zM263.6 236.0h0.9v0.9h-0.9zM262.6 218.4h0.9v0.9h-0.9zM276.8 226.4h0.9v0.9h-0.9zM280.1 226.4h0.9v0.9h-0.9zM262.8 226.4h0.9v0.9h-0.9zM258.0 218.7h0.9v0.9h-0.9zM259.9 220.3h0.9v0.9h-0.9zM270.9 219.5h0.9v0.9h-0.9zM267.1 219.1h0.9v0.9h-0.9zM271.8 205.3h0.9v0.9h-0.9zM262.8 222.9h0.9v0.9h-0.9zM255.6 227.7h0.9v0.9h-0.9zM266.3 230.1h0.9v0.9h-0.9zM272.4 226.6h0.9v0.9h-0.9zM263.3 215.1h0.9v0.9h-0.9zM262.7 219.0h0.9v0.9h-0.9zM266.6 219.2h0.9v0.9h-0.9zM289.6 213.9h0.9v0.9h-0.9zM274.1 219.8h0.9v0.9h-0.9zM262.5 227.6h0.9v0.9h-0.9zM264.5 214.4h0.9v0.9h-0.9zM267.9 221.0h0.9v0.9h-0.9zM255.8 216.7h0.9v0.9h-0.9zM268.5 224.2h0.9v0.9h-0.9zM262.1 235.4h0.9v0.9h-0.9zM267.9 218.4h0.9v0.9h-0.9zM266.4 221.4h0.9v0.9h-0.9zM253.1 234.0h0.9v0.9h-0.9zM263.0 220.2h0.9v0.9h-0.9zM259.9 227.8h0.9v0.9h-0.9zM264.7 232.7h0.9v0.9h-0.9zM271.0 232.8h0.9v0.9h-0.9zM263.5 224.3h0.9v0.9h-0.9zM260.9 220.7h0.9v0.9h-0.9zM250.3 217.3h0.9v0.9h-0.9zM256.7 217.3h0.9v0.9h-0.9zM274.5 224.4h0.9v0.9h-0.9zM274.5 228.1h0.9v0.9h-0.9zM272.0 228.8h0.9v0.9h-0.9zM259.5 226.6h0.9v0.9h-0.9zM261.9 218.5h0.9v0.9h-0.9zM274.3 236.2h0.9v0.9h-0.9zM256.5 232.2h0.9v0.9h-0.9zM271.3 217.2h0.9v0.9h-0.9zM266.7 224.5h0.9v0.9h-0.9zM267.6 220.0h0.9v0.9h-0.9zM254.0 221.4h0.9v0.9h-0.9zM271.6 227.4h0.9v0.9h-0.9zM269.9 229.3h0.9v0.9h-0.9zM256.4 221.1h0.9v0.9h-0.9zM267.3 228.4h0.9v0.9h-0.9zM265.8 225.3h0.9v0.9h-0.9zM265.6 235.2h0.9v0.9h-0.9zM284.8 225.0h0.9v0.9h-0.9zM252.8 216.9h0.9v0.9h-0.9zM266.3 232.8h0.9v0.9h-0.9zM268.3 226.5h0.9v0.9h-0.9zM272.8 223.9h0.9v0.9h-0.9zM257.5 220.9h0.9v0.9h-0.9zM267.3 220.5h0.9v0.9h-0.9zM259.0 219.3h0.9v0.9h-0.9zM252.2 214.7h0.9v0.9h-0.9zM263.8 219.7h0.9v0.9h-0.9zM264.8 230.8h0.9v0.9h-0.9zM267.0 222.0h0.9v0.9h-0.9zM254.9 214.6h0.9v0.9h-0.9zM267.6 216.8h0.9v0.9h-0.9zM268.0 215.6h0.9v0.9h-0.9zM265.6 221.6h0.9v0.9h-0.9zM272.7 220.2h0.9v0.9h-0.9zM261.5 223.3h0.9v0.9h-0.9zM264.9 232.6h0.9v0.9h-0.9zM262.4 218.5h0.9v0.9h-0.9zM261.9 224.8h0.9v0.9h-0.9zM266.4 226.5h0.9v0.9h-0.9zM253.2 236.6h0.9v0.9h-0.9zM279.6 223.0h0.9v0.9h-0.9zM254.6 222.2h0.9v0.9h-0.9zM267.9 208.4h0.9v0.9h-0.9zM264.6 212.8h0.9v0.9h-0.9zM268.2 230.9h0.9v0.9h-0.9zM273.0 213.3h0.9v0.9h-0.9zM275.8 228.5h0.9v0.9h-0.9zM261.5 224.9h0.9v0.9h-0.9zM276.9 220.9h0.9v0.9h-0.9zM264.4 218.5h0.9v0.9h-0.9zM274.0 209.3h0.9v0.9h-0.9zM276.1 216.9h0.9v0.9h-0.9zM272.1 212.5h0.9v0.9h-0.9zM256.8 217.7h0.9v0.9h-0.9zM271.3 212.4h0.9v0.9h-0.9zM269.4 218.4h0.9v0.9h-0.9zM274.7 220.8h0.9v0.9h-0.9zM268.5 221.2h0.9v0.9h-0.9zM279.2 220.9h0.9v0.9h-0.9zM264.3 234.3h0.9v0.9h-0.9zM265.1 226.3h0.9v0.9h-0.9zM258.5 222.8h0.9v0.9h-0.9zM259.2 212.2h0.9v0.9h-0.9zM252.9 228.2h0.9v0.9h-0.9zM268.0 212.8h0.9v0.9h-0.9zM279.3 218.8h0.9v0.9h-0.9zM261.5 223.3h0.9v0.9h-0.9zM255.2 211.2h0.9v0.9h-0.9zM258.4 228.9h0.9v0.9h-0.9zM272.3 212.8h0.9v0.9h-0.9zM274.3 223.0h0.9v0.9h-0.9zM268.6 222.6h0.9v0.9h-0.9zM267.9 216.0h0.9v0.9h-0.9zM257.1 217.1h0.9v0.9h-0.9zM261.5 225.6h0.9v0.9h-0.9z" fill="#3434ec"/>
<path d="M252.7 234.8h0.9v0.9h-0.9zM258.6 218.0h0.9v0.9h-0.9zM272.1 225.8h0.9v0.9h-0.9zM261.6 214.3h0.9v0.9h-0.9zM254.9 210.2h0.9v0.9h-0.9zM276.6 230.8h0.9v0.9h-0.9zM283.9 226.3h0.9v0.9h-0.9zM268.4 228.3h0.9v0.9h-0.9zM274.6 220.5h0.9v0.9h-0.9zM268.6 239.1h0.9v0.9h-0.9zM255.3 228.3h0.9v0.9h-0.9zM277.0 219.9h0.9v0.9h-0.9zM271.8 222.1h0.9v0.9h-0.9zM268.0 218.3h0.9v0.9h-0.9zM264.7 222.5h0.9v0.9h-0.9zM276.4 239.7h0.9v0.9h-0.9zM265.0 230.0h0.9v0.9h-0.9zM275.7 228.5h0.9v0.9h-0.9zM273.2 215.2h0.9v0.9h-0.9zM277.2 215.2h0.9v0.9h-0.9zM278.0 227.6h0.9v0.9h-0.9zM255.0 231.5h0.9v0.9h-0.9zM258.1 216.8h0.9v0.9h-0.9zM275.3 217.3h0.9v0.9h-0.9zM283.7 227.8h0.9v0.9h-0.9zM259.6 213.2h0.9v0.9h-0.9zM278.1 214.3h0.9v0.9h-0.9zM265.0 220.4h0.9v0.9h-0.9zM262.4 226.4h0.9v0.9h-0.9zM286.2 217.6h0.9v0.9h-0.9zM273.6 230.9h0.9v0.9h-0.9zM262.1 221.4h0.9v0.9h-0.9zM251.4 230.8h0.9v0.9h-0.9zM259.6 217.5h0.9v0.9h-0.9zM265.7 215.9h0.9v0.9h-0.9zM254.5 220.2h0.9v0.9h-0.9zM280.0 220.9h0.9v0.9h-0.9zM270.3 211.2h0.9v0.9h-0.9zM261.0 210.6h0.9v0.9h-0.9zM263.9 227.2h0.9v0.9h-0.9zM267.6 215.4h0.9v0.9h-0.9zM273.1 229.9h0.9v0.9h-0.9zM269.5 219.2h0.9v0.9h-0.9zM264.5 217.6h0.9v0.9h-0.9zM263.7 225.0h0.9v0.9h-0.9zM262.0 230.0h0.9v0.9h-0.9zM291.3 218.3h0.9v0.9h-0.9zM268.5 228.9h0.9v0.9h-0.9zM271.5 220.7h0.9v0.9h-0.9zM260.1 230.3h0.9v0.9h-0.9zM271.3 226.4h0.9v0.9h-0.9zM256.9 227.4h0.9v0.9h-0.9zM273.1 221.1h0.9v0.9h-0.9zM271.6 239.3h0.9v0.9h-0.9zM253.1 212.0h0.9v0.9h-0.9zM262.6 226.7h0.9v0.9h-0.9zM265.5 213.5h0.9v0.9h-0.9zM250.4 218.2h0.9v0.9h-0.9zM265.1 216.1h0.9v0.9h-0.9zM256.5 221.3h0.9v0.9h-0.9zM259.4 218.0h0.9v0.9h-0.9zM265.4 220.2h0.9v0.9h-0.9zM271.3 213.3h0.9v0.9h-0.9zM249.9 237.6h0.9v0.9h-0.9zM264.2 228.4h0.9v0.9h-0.9zM277.0 226.8h0.9v0.9h-0.9zM265.4 210.5h0.9v0.9h-0.9zM271.9 226.9h0.9v0.9h-0.9zM254.3 213.3h0.9v0.9h-0.9zM266.6 214.6h0.9v0.9h-0.9zM281.1 217.7h0.9v0.9h-0.9zM259.3 229.2h0.9v0.9h-0.9zM268.3 215.5h0.9v0.9h-0.9zM273.4 237.4h0.9v0.9h-0.9zM252.5 220.6h0.9v0.9h-0.9zM254.0 207.4h0.9v0.9h-0.9zM271.4 227.9h0.9v0.9h-0.9zM274.9 225.8h0.9v0.9h-0.9zM258.2 213.4h0.9v0.9h-0.9zM253.7 228.4h0.9v0.9h-0.9zM262.0 237.8h0.9v0.9h-0.9zM269.8 207.7h0.9v0.9h-0.9zM274.1 232.2h0.9v0.9h-0.9zM265.3 213.1h0.9v0.9h-0.9zM283.0 212.3h0.9v0.9h-0.9zM264.1 207.7h0.9v0.9h-0.9zM252.2 209.3h0.9v0.9h-0.9zM276.1 231.7h0.9v0.9h-0.9zM260.9 211.9h0.9v0.9h-0.9zM264.4 225.4h0.9v0.9h-0.9zM264.0 228.0h0.9v0.9h-0.9zM265.8 226.0h0.9v0.9h-0.9zM252.2 203.1h0.9v0.9h-0.9zM268.2 215.3h0.9v0.9h-0.9zM263.7 219.6h0.9v0.9h-0.9z" fill="#8484f4"/>
<path d="M279.0 218.5h0.9v0.9h-0.9zM293.1 226.3h0.9v0.9h-0.9zM279.7 232.1h0.9v0.9h-0.9zM287.2 229.9h0.9v0.9h-0.9zM299.3 230.6h0.9v0.9h-0.9zM280.2 230.6h0.9v0.9h-0.9zM262.6 219.4h0.9v0.9h-0.9zM262.5 237.3h0.9v0.9h-0.9zM277.3 243.4h0.9v0.9h-0.9zM279.3 244.5h0.9v0.9h-0.9zM278.7 214.4h0.9v0.9h-0.9zM297.6 229.3h0.9v0.9h-0.9zM289.5 228.1h0.9v0.9h-0.9zM267.2 227.7h0.9v0.9h-0.9zM255.5 214.3h0.9v0.9h-0.9zM258.9 220.9h0.9v0.9h-0.9zM252.1 225.0h0.9v0.9h-0.9zM276.5 245.9h0.9v0.9h-0.9zM299.1 225.5h0.9v0.9h-0.9z" fill="#c0c0f8"/>
<ellipse cx="271" cy="223.5" rx="6" ry="6.5" fill="#0000e0" opacity="0.8" filter="url(#b2)"/>
</g>
<line x1="269.40" y1="183.60" x2="269.40" y2="256.40" stroke="#333" stroke-width="1.2"/>
<line x1="249.10" y1="215.40" x2="322.00" y2="215.40" stroke="#333" stroke-width="1.2"/>
<line x1="249.10" y1="183.10" x2="249.10" y2="257.10" stroke="#111" stroke-width="1.6"/>
<line x1="248.40" y1="256.40" x2="322.30" y2="256.40" stroke="#111" stroke-width="1.6"/>
<line x1="246.90" y1="256.40" x2="249.10" y2="256.40" stroke="#111" stroke-width="1.0"/>
<line x1="249.10" y1="256.40" x2="249.10" y2="258.60" stroke="#111" stroke-width="1.0"/>
<line x1="247.90" y1="250.92" x2="249.10" y2="250.92" stroke="#333" stroke-width="0.6"/>
<line x1="254.59" y1="256.40" x2="254.59" y2="257.60" stroke="#333" stroke-width="0.6"/>
<line x1="247.90" y1="247.72" x2="249.10" y2="247.72" stroke="#333" stroke-width="0.6"/>
<line x1="257.80" y1="256.40" x2="257.80" y2="257.60" stroke="#333" stroke-width="0.6"/>
<line x1="247.90" y1="245.44" x2="249.10" y2="245.44" stroke="#333" stroke-width="0.6"/>
<line x1="260.07" y1="256.40" x2="260.07" y2="257.60" stroke="#333" stroke-width="0.6"/>
<line x1="247.90" y1="243.68" x2="249.10" y2="243.68" stroke="#333" stroke-width="0.6"/>
<line x1="261.84" y1="256.40" x2="261.84" y2="257.60" stroke="#333" stroke-width="0.6"/>
<line x1="247.90" y1="242.24" x2="249.10" y2="242.24" stroke="#333" stroke-width="0.6"/>
<line x1="263.28" y1="256.40" x2="263.28" y2="257.60" stroke="#333" stroke-width="0.6"/>
<line x1="247.90" y1="241.02" x2="249.10" y2="241.02" stroke="#333" stroke-width="0.6"/>
<line x1="264.50" y1="256.40" x2="264.50" y2="257.60" stroke="#333" stroke-width="0.6"/>
<line x1="247.90" y1="239.96" x2="249.10" y2="239.96" stroke="#333" stroke-width="0.6"/>
<line x1="265.56" y1="256.40" x2="265.56" y2="257.60" stroke="#333" stroke-width="0.6"/>
<line x1="247.90" y1="239.03" x2="249.10" y2="239.03" stroke="#333" stroke-width="0.6"/>
<line x1="266.49" y1="256.40" x2="266.49" y2="257.60" stroke="#333" stroke-width="0.6"/>
<line x1="246.90" y1="238.20" x2="249.10" y2="238.20" stroke="#111" stroke-width="1.0"/>
<line x1="267.32" y1="256.40" x2="267.32" y2="258.60" stroke="#111" stroke-width="1.0"/>
<line x1="247.90" y1="232.72" x2="249.10" y2="232.72" stroke="#333" stroke-width="0.6"/>
<line x1="272.81" y1="256.40" x2="272.81" y2="257.60" stroke="#333" stroke-width="0.6"/>
<line x1="247.90" y1="229.52" x2="249.10" y2="229.52" stroke="#333" stroke-width="0.6"/>
<line x1="276.02" y1="256.40" x2="276.02" y2="257.60" stroke="#333" stroke-width="0.6"/>
<line x1="247.90" y1="227.24" x2="249.10" y2="227.24" stroke="#333" stroke-width="0.6"/>
<line x1="278.30" y1="256.40" x2="278.30" y2="257.60" stroke="#333" stroke-width="0.6"/>
<line x1="247.90" y1="225.48" x2="249.10" y2="225.48" stroke="#333" stroke-width="0.6"/>
<line x1="280.06" y1="256.40" x2="280.06" y2="257.60" stroke="#333" stroke-width="0.6"/>
<line x1="247.90" y1="224.04" x2="249.10" y2="224.04" stroke="#333" stroke-width="0.6"/>
<line x1="281.51" y1="256.40" x2="281.51" y2="257.60" stroke="#333" stroke-width="0.6"/>
<line x1="247.90" y1="222.82" x2="249.10" y2="222.82" stroke="#333" stroke-width="0.6"/>
<line x1="282.73" y1="256.40" x2="282.73" y2="257.60" stroke="#333" stroke-width="0.6"/>
<line x1="247.90" y1="221.76" x2="249.10" y2="221.76" stroke="#333" stroke-width="0.6"/>
<line x1="283.78" y1="256.40" x2="283.78" y2="257.60" stroke="#333" stroke-width="0.6"/>
<line x1="247.90" y1="220.83" x2="249.10" y2="220.83" stroke="#333" stroke-width="0.6"/>
<line x1="284.72" y1="256.40" x2="284.72" y2="257.60" stroke="#333" stroke-width="0.6"/>
<line x1="246.90" y1="220.00" x2="249.10" y2="220.00" stroke="#111" stroke-width="1.0"/>
<line x1="285.55" y1="256.40" x2="285.55" y2="258.60" stroke="#111" stroke-width="1.0"/>
<line x1="247.90" y1="214.52" x2="249.10" y2="214.52" stroke="#333" stroke-width="0.6"/>
<line x1="291.04" y1="256.40" x2="291.04" y2="257.60" stroke="#333" stroke-width="0.6"/>
<line x1="247.90" y1="211.32" x2="249.10" y2="211.32" stroke="#333" stroke-width="0.6"/>
<line x1="294.25" y1="256.40" x2="294.25" y2="257.60" stroke="#333" stroke-width="0.6"/>
<line x1="247.90" y1="209.04" x2="249.10" y2="209.04" stroke="#333" stroke-width="0.6"/>
<line x1="296.52" y1="256.40" x2="296.52" y2="257.60" stroke="#333" stroke-width="0.6"/>
<line x1="247.90" y1="207.28" x2="249.10" y2="207.28" stroke="#333" stroke-width="0.6"/>
<line x1="298.29" y1="256.40" x2="298.29" y2="257.60" stroke="#333" stroke-width="0.6"/>
<line x1="247.90" y1="205.84" x2="249.10" y2="205.84" stroke="#333" stroke-width="0.6"/>
<line x1="299.73" y1="256.40" x2="299.73" y2="257.60" stroke="#333" stroke-width="0.6"/>
<line x1="247.90" y1="204.62" x2="249.10" y2="204.62" stroke="#333" stroke-width="0.6"/>
<line x1="300.95" y1="256.40" x2="300.95" y2="257.60" stroke="#333" stroke-width="0.6"/>
<line x1="247.90" y1="203.56" x2="249.10" y2="203.56" stroke="#333" stroke-width="0.6"/>
<line x1="302.01" y1="256.40" x2="302.01" y2="257.60" stroke="#333" stroke-width="0.6"/>
<line x1="247.90" y1="202.63" x2="249.10" y2="202.63" stroke="#333" stroke-width="0.6"/>
<line x1="302.94" y1="256.40" x2="302.94" y2="257.60" stroke="#333" stroke-width="0.6"/>
<line x1="246.90" y1="201.80" x2="249.10" y2="201.80" stroke="#111" stroke-width="1.0"/>
<line x1="303.77" y1="256.40" x2="303.77" y2="258.60" stroke="#111" stroke-width="1.0"/>
<line x1="247.90" y1="196.32" x2="249.10" y2="196.32" stroke="#333" stroke-width="0.6"/>
<line x1="309.26" y1="256.40" x2="309.26" y2="257.60" stroke="#333" stroke-width="0.6"/>
<line x1="247.90" y1="193.12" x2="249.10" y2="193.12" stroke="#333" stroke-width="0.6"/>
<line x1="312.47" y1="256.40" x2="312.47" y2="257.60" stroke="#333" stroke-width="0.6"/>
<line x1="247.90" y1="190.84" x2="249.10" y2="190.84" stroke="#333" stroke-width="0.6"/>
<line x1="314.75" y1="256.40" x2="314.75" y2="257.60" stroke="#333" stroke-width="0.6"/>
<line x1="247.90" y1="189.08" x2="249.10" y2="189.08" stroke="#333" stroke-width="0.6"/>
<line x1="316.51" y1="256.40" x2="316.51" y2="257.60" stroke="#333" stroke-width="0.6"/>
<line x1="247.90" y1="187.64" x2="249.10" y2="187.64" stroke="#333" stroke-width="0.6"/>
<line x1="317.96" y1="256.40" x2="317.96" y2="257.60" stroke="#333" stroke-width="0.6"/>
<line x1="247.90" y1="186.42" x2="249.10" y2="186.42" stroke="#333" stroke-width="0.6"/>
<line x1="319.18" y1="256.40" x2="319.18" y2="257.60" stroke="#333" stroke-width="0.6"/>
<line x1="247.90" y1="185.36" x2="249.10" y2="185.36" stroke="#333" stroke-width="0.6"/>
<line x1="320.23" y1="256.40" x2="320.23" y2="257.60" stroke="#333" stroke-width="0.6"/>
<line x1="247.90" y1="184.43" x2="249.10" y2="184.43" stroke="#333" stroke-width="0.6"/>
<line x1="321.17" y1="256.40" x2="321.17" y2="257.60" stroke="#333" stroke-width="0.6"/>
<line x1="246.90" y1="183.60" x2="249.10" y2="183.60" stroke="#111" stroke-width="1.0"/>
<line x1="322.00" y1="256.40" x2="322.00" y2="258.60" stroke="#111" stroke-width="1.0"/>
<text x="249.80" y="192.60" font-size="7.7" font-weight="normal" text-anchor="start" fill="#1a1a1a" textLength="22.10" lengthAdjust="spacingAndGlyphs" >8.45%</text>
<text x="298.00" y="192.60" font-size="7.7" font-weight="normal" text-anchor="start" fill="#1a1a1a" textLength="21.80" lengthAdjust="spacingAndGlyphs" >1.61%</text>
<text x="250.40" y="250.50" font-size="7.7" font-weight="normal" text-anchor="start" fill="#1a1a1a" textLength="26.10" lengthAdjust="spacingAndGlyphs" >70.01%</text>
<text x="299.60" y="250.50" font-size="7.7" font-weight="normal" text-anchor="start" fill="#1a1a1a" textLength="23.10" lengthAdjust="spacingAndGlyphs" >19.94%</text>
<text x="243.70" y="262.20" font-size="6.4" font-weight="normal" text-anchor="end" fill="#2a2a2a" >10</text>
<text x="245.70" y="257.40" font-size="5.0" font-weight="normal" text-anchor="middle" fill="#2a2a2a" >0</text>
<text x="247.10" y="269.60" font-size="6.4" font-weight="normal" text-anchor="middle" fill="#2a2a2a" >10</text>
<text x="251.90" y="264.70" font-size="5.0" font-weight="normal" text-anchor="middle" fill="#2a2a2a" >0</text>
<text x="243.70" y="244.00" font-size="6.4" font-weight="normal" text-anchor="end" fill="#2a2a2a" >10</text>
<text x="245.70" y="239.20" font-size="5.0" font-weight="normal" text-anchor="middle" fill="#2a2a2a" >1</text>
<text x="265.32" y="269.60" font-size="6.4" font-weight="normal" text-anchor="middle" fill="#2a2a2a" >10</text>
<text x="270.12" y="264.70" font-size="5.0" font-weight="normal" text-anchor="middle" fill="#2a2a2a" >1</text>
<text x="243.70" y="225.80" font-size="6.4" font-weight="normal" text-anchor="end" fill="#2a2a2a" >10</text>
<text x="245.70" y="221.00" font-size="5.0" font-weight="normal" text-anchor="middle" fill="#2a2a2a" >2</text>
<text x="283.55" y="269.60" font-size="6.4" font-weight="normal" text-anchor="middle" fill="#2a2a2a" >10</text>
<text x="288.35" y="264.70" font-size="5.0" font-weight="normal" text-anchor="middle" fill="#2a2a2a" >2</text>
<text x="243.70" y="207.60" font-size="6.4" font-weight="normal" text-anchor="end" fill="#2a2a2a" >10</text>
<text x="245.70" y="202.80" font-size="5.0" font-weight="normal" text-anchor="middle" fill="#2a2a2a" >3</text>
<text x="301.77" y="269.60" font-size="6.4" font-weight="normal" text-anchor="middle" fill="#2a2a2a" >10</text>
<text x="306.57" y="264.70" font-size="5.0" font-weight="normal" text-anchor="middle" fill="#2a2a2a" >3</text>
<text x="243.70" y="189.40" font-size="6.4" font-weight="normal" text-anchor="end" fill="#2a2a2a" >10</text>
<text x="245.70" y="184.60" font-size="5.0" font-weight="normal" text-anchor="middle" fill="#2a2a2a" >4</text>
<text x="320.00" y="269.60" font-size="6.4" font-weight="normal" text-anchor="middle" fill="#2a2a2a" >10</text>
<text x="324.80" y="264.70" font-size="5.0" font-weight="normal" text-anchor="middle" fill="#2a2a2a" >4</text>
<text x="284.20" y="278.98" font-size="8.5" font-weight="normal" text-anchor="middle" fill="#1a1a1a" textLength="25.90" lengthAdjust="spacingAndGlyphs" >APC-A</text>
<text x="0" y="0" font-size="8.0" font-weight="normal" text-anchor="middle" fill="#1a1a1a" textLength="69.10" lengthAdjust="spacingAndGlyphs" transform="translate(231.80 219.45) rotate(-90)" >Alexa Fluor 488-A</text>
<rect x="396.70" y="184.30" width="70.70" height="71.30" fill="none" stroke="#b0b0b0" stroke-width="0.9"/>
<clipPath id="pc396184"><rect x="396.70" y="184.30" width="70.70" height="71.30"/></clipPath><g clip-path="url(#pc396184)">
<ellipse cx="406" cy="226" rx="7.5" ry="9" fill="#5a5af0" opacity="0.55" filter="url(#b2_5)"/>
<path d="M409.5 224.6h0.9v0.9h-0.9zM407.8 225.4h0.9v0.9h-0.9zM404.6 225.8h0.9v0.9h-0.9zM401.4 227.2h0.9v0.9h-0.9zM405.5 221.2h0.9v0.9h-0.9zM405.3 227.7h0.9v0.9h-0.9zM404.2 227.4h0.9v0.9h-0.9zM408.5 231.6h0.9v0.9h-0.9zM402.8 225.1h0.9v0.9h-0.9zM408.3 231.4h0.9v0.9h-0.9zM407.4 228.5h0.9v0.9h-0.9zM401.4 223.2h0.9v0.9h-0.9zM412.2 224.4h0.9v0.9h-0.9zM414.0 222.6h0.9v0.9h-0.9zM405.5 219.2h0.9v0.9h-0.9zM408.7 226.5h0.9v0.9h-0.9zM413.5 226.2h0.9v0.9h-0.9zM405.6 219.9h0.9v0.9h-0.9zM406.2 229.2h0.9v0.9h-0.9zM409.1 230.3h0.9v0.9h-0.9zM409.5 225.3h0.9v0.9h-0.9zM408.6 226.2h0.9v0.9h-0.9zM401.9 232.3h0.9v0.9h-0.9zM407.8 221.3h0.9v0.9h-0.9zM407.8 226.6h0.9v0.9h-0.9zM409.9 231.2h0.9v0.9h-0.9zM411.8 221.8h0.9v0.9h-0.9zM400.1 226.6h0.9v0.9h-0.9zM407.7 226.9h0.9v0.9h-0.9zM402.7 223.7h0.9v0.9h-0.9zM407.2 228.4h0.9v0.9h-0.9zM414.1 226.7h0.9v0.9h-0.9zM404.4 216.2h0.9v0.9h-0.9zM410.2 225.0h0.9v0.9h-0.9zM406.1 221.6h0.9v0.9h-0.9zM409.0 218.4h0.9v0.9h-0.9zM406.9 226.0h0.9v0.9h-0.9zM407.5 230.7h0.9v0.9h-0.9zM406.2 225.9h0.9v0.9h-0.9zM409.5 219.4h0.9v0.9h-0.9zM405.5 225.8h0.9v0.9h-0.9zM409.8 222.3h0.9v0.9h-0.9zM409.3 227.0h0.9v0.9h-0.9zM401.3 219.6h0.9v0.9h-0.9zM401.5 226.1h0.9v0.9h-0.9zM407.2 228.4h0.9v0.9h-0.9zM409.4 223.3h0.9v0.9h-0.9zM410.2 228.8h0.9v0.9h-0.9zM408.1 227.4h0.9v0.9h-0.9zM402.0 226.9h0.9v0.9h-0.9zM402.9 220.8h0.9v0.9h-0.9zM405.3 226.1h0.9v0.9h-0.9zM406.3 224.2h0.9v0.9h-0.9zM403.0 226.2h0.9v0.9h-0.9zM403.9 219.9h0.9v0.9h-0.9zM406.8 231.3h0.9v0.9h-0.9zM405.1 221.3h0.9v0.9h-0.9zM411.3 232.3h0.9v0.9h-0.9zM405.5 224.7h0.9v0.9h-0.9zM407.2 237.2h0.9v0.9h-0.9zM407.0 229.5h0.9v0.9h-0.9zM408.0 218.3h0.9v0.9h-0.9zM402.7 220.6h0.9v0.9h-0.9zM408.0 225.9h0.9v0.9h-0.9zM412.7 224.4h0.9v0.9h-0.9zM407.6 225.8h0.9v0.9h-0.9zM407.0 234.7h0.9v0.9h-0.9zM407.5 231.4h0.9v0.9h-0.9zM411.0 223.1h0.9v0.9h-0.9zM408.9 224.0h0.9v0.9h-0.9zM406.9 226.1h0.9v0.9h-0.9zM406.6 223.6h0.9v0.9h-0.9zM411.9 224.4h0.9v0.9h-0.9zM409.0 232.2h0.9v0.9h-0.9zM408.7 229.6h0.9v0.9h-0.9zM411.3 229.8h0.9v0.9h-0.9zM412.5 219.8h0.9v0.9h-0.9zM413.3 225.6h0.9v0.9h-0.9zM400.4 222.9h0.9v0.9h-0.9z" fill="#0a0ad8"/>
<path d="M399.0 225.9h0.9v0.9h-0.9zM398.6 219.5h0.9v0.9h-0.9zM407.5 227.0h0.9v0.9h-0.9zM402.0 224.5h0.9v0.9h-0.9zM405.5 226.5h0.9v0.9h-0.9zM406.0 224.6h0.9v0.9h-0.9zM410.4 215.6h0.9v0.9h-0.9zM403.5 226.9h0.9v0.9h-0.9zM404.0 222.4h0.9v0.9h-0.9zM403.8 227.4h0.9v0.9h-0.9zM412.2 224.8h0.9v0.9h-0.9zM404.7 228.3h0.9v0.9h-0.9zM404.8 213.4h0.9v0.9h-0.9zM407.3 223.5h0.9v0.9h-0.9zM403.1 230.1h0.9v0.9h-0.9zM406.2 222.3h0.9v0.9h-0.9zM406.1 225.2h0.9v0.9h-0.9zM408.2 227.4h0.9v0.9h-0.9zM403.6 217.8h0.9v0.9h-0.9zM400.5 225.1h0.9v0.9h-0.9zM400.3 230.9h0.9v0.9h-0.9zM399.4 214.4h0.9v0.9h-0.9zM405.0 214.5h0.9v0.9h-0.9zM414.1 219.6h0.9v0.9h-0.9zM405.7 224.4h0.9v0.9h-0.9zM401.9 214.5h0.9v0.9h-0.9zM411.1 240.1h0.9v0.9h-0.9zM398.7 229.6h0.9v0.9h-0.9zM405.9 231.5h0.9v0.9h-0.9zM403.4 230.7h0.9v0.9h-0.9zM410.5 229.9h0.9v0.9h-0.9zM413.2 224.9h0.9v0.9h-0.9zM413.7 221.4h0.9v0.9h-0.9zM414.3 208.1h0.9v0.9h-0.9zM406.1 220.8h0.9v0.9h-0.9zM406.0 232.7h0.9v0.9h-0.9zM409.6 226.6h0.9v0.9h-0.9zM414.5 216.4h0.9v0.9h-0.9zM401.9 235.8h0.9v0.9h-0.9zM407.6 212.5h0.9v0.9h-0.9zM407.7 218.3h0.9v0.9h-0.9zM413.4 233.4h0.9v0.9h-0.9zM403.3 234.4h0.9v0.9h-0.9zM401.8 232.0h0.9v0.9h-0.9zM408.9 225.2h0.9v0.9h-0.9zM398.9 224.2h0.9v0.9h-0.9zM401.2 210.2h0.9v0.9h-0.9zM408.9 228.4h0.9v0.9h-0.9zM403.5 239.8h0.9v0.9h-0.9zM409.9 226.4h0.9v0.9h-0.9zM402.8 206.8h0.9v0.9h-0.9zM408.4 232.2h0.9v0.9h-0.9zM403.0 216.8h0.9v0.9h-0.9zM405.8 215.1h0.9v0.9h-0.9zM406.0 231.0h0.9v0.9h-0.9zM413.5 227.7h0.9v0.9h-0.9zM407.0 230.9h0.9v0.9h-0.9zM413.0 223.9h0.9v0.9h-0.9zM399.9 220.9h0.9v0.9h-0.9zM399.7 220.2h0.9v0.9h-0.9zM405.4 228.2h0.9v0.9h-0.9zM406.8 226.5h0.9v0.9h-0.9zM404.2 228.8h0.9v0.9h-0.9zM410.4 230.9h0.9v0.9h-0.9zM413.5 224.1h0.9v0.9h-0.9zM404.7 237.0h0.9v0.9h-0.9zM407.0 228.7h0.9v0.9h-0.9zM404.3 232.3h0.9v0.9h-0.9zM404.0 219.5h0.9v0.9h-0.9zM405.7 223.1h0.9v0.9h-0.9zM410.2 223.5h0.9v0.9h-0.9zM406.6 224.6h0.9v0.9h-0.9zM407.7 221.9h0.9v0.9h-0.9zM411.5 216.7h0.9v0.9h-0.9zM404.1 221.4h0.9v0.9h-0.9zM409.2 226.3h0.9v0.9h-0.9zM408.4 223.9h0.9v0.9h-0.9zM402.4 218.7h0.9v0.9h-0.9zM404.3 222.5h0.9v0.9h-0.9zM407.4 228.3h0.9v0.9h-0.9zM410.9 225.3h0.9v0.9h-0.9zM402.3 219.1h0.9v0.9h-0.9zM406.3 228.3h0.9v0.9h-0.9zM415.7 227.2h0.9v0.9h-0.9zM414.8 238.2h0.9v0.9h-0.9zM400.8 233.9h0.9v0.9h-0.9zM411.7 234.7h0.9v0.9h-0.9zM406.0 232.2h0.9v0.9h-0.9zM403.6 225.5h0.9v0.9h-0.9zM406.1 237.6h0.9v0.9h-0.9zM404.9 232.2h0.9v0.9h-0.9zM406.3 221.4h0.9v0.9h-0.9zM407.2 230.3h0.9v0.9h-0.9zM402.4 230.1h0.9v0.9h-0.9zM402.4 220.3h0.9v0.9h-0.9zM407.1 224.5h0.9v0.9h-0.9zM401.1 215.4h0.9v0.9h-0.9zM406.1 227.6h0.9v0.9h-0.9zM403.7 227.2h0.9v0.9h-0.9zM398.4 228.6h0.9v0.9h-0.9zM408.1 227.8h0.9v0.9h-0.9zM402.9 226.5h0.9v0.9h-0.9zM406.7 233.0h0.9v0.9h-0.9zM407.4 227.6h0.9v0.9h-0.9zM402.4 231.6h0.9v0.9h-0.9zM411.9 222.8h0.9v0.9h-0.9zM409.2 228.0h0.9v0.9h-0.9zM405.8 217.6h0.9v0.9h-0.9zM414.8 213.9h0.9v0.9h-0.9zM407.5 223.6h0.9v0.9h-0.9zM411.7 223.3h0.9v0.9h-0.9zM406.2 230.0h0.9v0.9h-0.9zM408.3 222.6h0.9v0.9h-0.9zM409.4 228.5h0.9v0.9h-0.9zM410.9 222.7h0.9v0.9h-0.9zM405.8 223.5h0.9v0.9h-0.9zM401.8 227.7h0.9v0.9h-0.9zM408.0 235.2h0.9v0.9h-0.9zM404.4 228.5h0.9v0.9h-0.9zM411.7 225.3h0.9v0.9h-0.9zM406.3 226.9h0.9v0.9h-0.9zM402.6 219.6h0.9v0.9h-0.9zM411.6 227.1h0.9v0.9h-0.9zM405.6 217.9h0.9v0.9h-0.9zM406.6 233.6h0.9v0.9h-0.9zM400.3 220.2h0.9v0.9h-0.9zM411.5 235.3h0.9v0.9h-0.9zM413.7 222.4h0.9v0.9h-0.9zM409.0 221.1h0.9v0.9h-0.9zM408.6 223.6h0.9v0.9h-0.9zM407.0 234.7h0.9v0.9h-0.9zM407.7 224.4h0.9v0.9h-0.9zM406.3 227.7h0.9v0.9h-0.9zM403.4 227.3h0.9v0.9h-0.9zM409.0 236.1h0.9v0.9h-0.9zM399.8 231.7h0.9v0.9h-0.9zM418.1 227.3h0.9v0.9h-0.9zM406.6 233.4h0.9v0.9h-0.9zM403.5 222.9h0.9v0.9h-0.9zM407.7 222.2h0.9v0.9h-0.9zM411.5 226.0h0.9v0.9h-0.9zM407.9 242.4h0.9v0.9h-0.9zM403.8 232.0h0.9v0.9h-0.9zM401.9 234.1h0.9v0.9h-0.9zM410.8 226.9h0.9v0.9h-0.9zM410.9 236.4h0.9v0.9h-0.9zM412.8 226.0h0.9v0.9h-0.9zM405.7 233.1h0.9v0.9h-0.9zM398.7 222.1h0.9v0.9h-0.9zM408.4 229.7h0.9v0.9h-0.9zM415.2 237.3h0.9v0.9h-0.9zM407.6 228.8h0.9v0.9h-0.9zM399.5 224.8h0.9v0.9h-0.9zM407.3 224.5h0.9v0.9h-0.9zM406.3 229.9h0.9v0.9h-0.9zM401.3 222.3h0.9v0.9h-0.9zM400.8 215.0h0.9v0.9h-0.9zM409.8 224.6h0.9v0.9h-0.9zM410.8 223.6h0.9v0.9h-0.9zM416.5 230.6h0.9v0.9h-0.9zM406.7 226.7h0.9v0.9h-0.9zM405.0 231.2h0.9v0.9h-0.9zM415.9 223.3h0.9v0.9h-0.9zM400.6 229.8h0.9v0.9h-0.9zM411.3 216.4h0.9v0.9h-0.9zM402.6 219.6h0.9v0.9h-0.9zM408.8 229.2h0.9v0.9h-0.9zM402.4 218.8h0.9v0.9h-0.9zM409.4 212.8h0.9v0.9h-0.9zM409.2 225.0h0.9v0.9h-0.9zM415.5 232.4h0.9v0.9h-0.9zM403.1 224.2h0.9v0.9h-0.9zM404.6 221.3h0.9v0.9h-0.9zM406.4 232.2h0.9v0.9h-0.9zM398.6 224.5h0.9v0.9h-0.9zM413.4 230.8h0.9v0.9h-0.9zM402.0 220.8h0.9v0.9h-0.9zM401.8 215.7h0.9v0.9h-0.9zM411.7 226.4h0.9v0.9h-0.9zM402.6 216.8h0.9v0.9h-0.9zM404.1 222.7h0.9v0.9h-0.9zM414.5 223.1h0.9v0.9h-0.9zM406.6 232.9h0.9v0.9h-0.9zM409.3 224.8h0.9v0.9h-0.9zM408.9 223.2h0.9v0.9h-0.9zM405.6 219.9h0.9v0.9h-0.9zM401.6 216.5h0.9v0.9h-0.9zM408.5 229.3h0.9v0.9h-0.9zM406.9 231.0h0.9v0.9h-0.9zM408.6 226.8h0.9v0.9h-0.9zM401.7 229.8h0.9v0.9h-0.9zM411.8 230.0h0.9v0.9h-0.9zM412.1 223.0h0.9v0.9h-0.9zM401.2 234.0h0.9v0.9h-0.9zM403.1 227.6h0.9v0.9h-0.9zM405.1 226.1h0.9v0.9h-0.9zM404.7 222.6h0.9v0.9h-0.9zM407.0 213.7h0.9v0.9h-0.9zM401.5 218.8h0.9v0.9h-0.9zM402.4 209.7h0.9v0.9h-0.9zM408.8 236.5h0.9v0.9h-0.9zM404.8 230.7h0.9v0.9h-0.9zM408.9 218.1h0.9v0.9h-0.9zM412.0 215.3h0.9v0.9h-0.9zM403.2 223.7h0.9v0.9h-0.9zM412.2 226.8h0.9v0.9h-0.9zM405.4 220.9h0.9v0.9h-0.9zM406.4 226.3h0.9v0.9h-0.9zM409.6 234.9h0.9v0.9h-0.9zM409.6 226.1h0.9v0.9h-0.9z" fill="#4646ee"/>
<path d="M405.5 241.3h0.9v0.9h-0.9zM407.9 227.9h0.9v0.9h-0.9zM418.8 241.1h0.9v0.9h-0.9zM410.4 227.1h0.9v0.9h-0.9zM402.2 236.9h0.9v0.9h-0.9zM403.4 236.0h0.9v0.9h-0.9zM401.1 228.9h0.9v0.9h-0.9zM409.3 229.2h0.9v0.9h-0.9zM408.1 231.2h0.9v0.9h-0.9zM398.8 218.8h0.9v0.9h-0.9zM405.5 243.0h0.9v0.9h-0.9zM405.6 220.3h0.9v0.9h-0.9zM402.0 228.3h0.9v0.9h-0.9zM414.6 223.3h0.9v0.9h-0.9zM410.3 229.6h0.9v0.9h-0.9zM404.1 220.2h0.9v0.9h-0.9zM405.5 222.0h0.9v0.9h-0.9zM410.2 213.4h0.9v0.9h-0.9zM414.2 234.3h0.9v0.9h-0.9zM410.5 240.4h0.9v0.9h-0.9zM410.6 213.8h0.9v0.9h-0.9zM406.9 231.7h0.9v0.9h-0.9zM401.8 218.6h0.9v0.9h-0.9zM409.5 232.2h0.9v0.9h-0.9zM403.6 226.0h0.9v0.9h-0.9zM403.0 223.3h0.9v0.9h-0.9zM406.1 236.9h0.9v0.9h-0.9zM417.5 230.6h0.9v0.9h-0.9zM407.6 234.9h0.9v0.9h-0.9zM399.6 218.0h0.9v0.9h-0.9zM408.2 235.0h0.9v0.9h-0.9zM403.7 222.4h0.9v0.9h-0.9zM409.3 233.1h0.9v0.9h-0.9zM408.3 212.2h0.9v0.9h-0.9zM402.8 207.0h0.9v0.9h-0.9zM408.2 221.0h0.9v0.9h-0.9zM402.0 240.5h0.9v0.9h-0.9zM415.5 232.0h0.9v0.9h-0.9zM408.4 229.4h0.9v0.9h-0.9zM402.5 227.6h0.9v0.9h-0.9zM419.5 220.8h0.9v0.9h-0.9zM402.0 229.3h0.9v0.9h-0.9zM412.6 234.9h0.9v0.9h-0.9zM399.9 226.9h0.9v0.9h-0.9zM404.7 217.8h0.9v0.9h-0.9zM407.0 224.0h0.9v0.9h-0.9zM412.8 231.6h0.9v0.9h-0.9zM401.2 228.7h0.9v0.9h-0.9zM404.1 222.8h0.9v0.9h-0.9zM403.2 236.8h0.9v0.9h-0.9zM403.7 213.8h0.9v0.9h-0.9zM401.2 234.7h0.9v0.9h-0.9zM421.2 219.3h0.9v0.9h-0.9zM404.1 225.3h0.9v0.9h-0.9zM406.2 230.3h0.9v0.9h-0.9zM421.7 225.8h0.9v0.9h-0.9zM411.9 234.9h0.9v0.9h-0.9zM402.2 223.1h0.9v0.9h-0.9zM417.1 233.9h0.9v0.9h-0.9zM407.5 219.0h0.9v0.9h-0.9zM412.5 232.4h0.9v0.9h-0.9zM421.5 240.2h0.9v0.9h-0.9zM412.0 230.2h0.9v0.9h-0.9zM406.9 223.5h0.9v0.9h-0.9zM408.6 230.0h0.9v0.9h-0.9zM410.9 237.0h0.9v0.9h-0.9zM408.6 223.5h0.9v0.9h-0.9zM412.0 240.8h0.9v0.9h-0.9zM400.8 231.5h0.9v0.9h-0.9zM410.2 232.4h0.9v0.9h-0.9zM409.9 227.3h0.9v0.9h-0.9zM405.8 241.9h0.9v0.9h-0.9zM418.3 216.4h0.9v0.9h-0.9zM401.9 223.7h0.9v0.9h-0.9zM406.1 223.5h0.9v0.9h-0.9z" fill="#8484f4"/>
<path d="M435.2 246.3h0.9v0.9h-0.9zM413.2 241.8h0.9v0.9h-0.9zM417.6 246.1h0.9v0.9h-0.9zM424.8 235.7h0.9v0.9h-0.9zM424.4 229.7h0.9v0.9h-0.9zM427.2 249.2h0.9v0.9h-0.9zM413.8 240.9h0.9v0.9h-0.9zM398.6 244.2h0.9v0.9h-0.9zM428.2 227.1h0.9v0.9h-0.9zM438.3 237.0h0.9v0.9h-0.9zM397.8 224.0h0.9v0.9h-0.9zM428.2 233.6h0.9v0.9h-0.9zM430.9 222.4h0.9v0.9h-0.9zM416.9 244.5h0.9v0.9h-0.9z" fill="#c0c0f8"/>
<ellipse cx="406.5" cy="225.5" rx="5" ry="5.5" fill="#1010e8" opacity="0.55" filter="url(#b1_8)"/>
</g>
<line x1="416.30" y1="184.30" x2="416.30" y2="255.60" stroke="#333" stroke-width="1.2"/>
<line x1="396.70" y1="215.60" x2="467.40" y2="215.60" stroke="#333" stroke-width="1.2"/>
<line x1="396.70" y1="183.80" x2="396.70" y2="256.30" stroke="#111" stroke-width="1.6"/>
<line x1="396.00" y1="255.60" x2="467.70" y2="255.60" stroke="#111" stroke-width="1.6"/>
<line x1="394.50" y1="255.60" x2="396.70" y2="255.60" stroke="#111" stroke-width="1.0"/>
<line x1="396.70" y1="255.60" x2="396.70" y2="257.80" stroke="#111" stroke-width="1.0"/>
<line x1="395.50" y1="250.23" x2="396.70" y2="250.23" stroke="#333" stroke-width="0.6"/>
<line x1="402.02" y1="255.60" x2="402.02" y2="256.80" stroke="#333" stroke-width="0.6"/>
<line x1="395.50" y1="247.10" x2="396.70" y2="247.10" stroke="#333" stroke-width="0.6"/>
<line x1="405.13" y1="255.60" x2="405.13" y2="256.80" stroke="#333" stroke-width="0.6"/>
<line x1="395.50" y1="244.87" x2="396.70" y2="244.87" stroke="#333" stroke-width="0.6"/>
<line x1="407.34" y1="255.60" x2="407.34" y2="256.80" stroke="#333" stroke-width="0.6"/>
<line x1="395.50" y1="243.14" x2="396.70" y2="243.14" stroke="#333" stroke-width="0.6"/>
<line x1="409.05" y1="255.60" x2="409.05" y2="256.80" stroke="#333" stroke-width="0.6"/>
<line x1="395.50" y1="241.73" x2="396.70" y2="241.73" stroke="#333" stroke-width="0.6"/>
<line x1="410.45" y1="255.60" x2="410.45" y2="256.80" stroke="#333" stroke-width="0.6"/>
<line x1="395.50" y1="240.54" x2="396.70" y2="240.54" stroke="#333" stroke-width="0.6"/>
<line x1="411.64" y1="255.60" x2="411.64" y2="256.80" stroke="#333" stroke-width="0.6"/>
<line x1="395.50" y1="239.50" x2="396.70" y2="239.50" stroke="#333" stroke-width="0.6"/>
<line x1="412.66" y1="255.60" x2="412.66" y2="256.80" stroke="#333" stroke-width="0.6"/>
<line x1="395.50" y1="238.59" x2="396.70" y2="238.59" stroke="#333" stroke-width="0.6"/>
<line x1="413.57" y1="255.60" x2="413.57" y2="256.80" stroke="#333" stroke-width="0.6"/>
<line x1="394.50" y1="237.78" x2="396.70" y2="237.78" stroke="#111" stroke-width="1.0"/>
<line x1="414.38" y1="255.60" x2="414.38" y2="257.80" stroke="#111" stroke-width="1.0"/>
<line x1="395.50" y1="232.41" x2="396.70" y2="232.41" stroke="#333" stroke-width="0.6"/>
<line x1="419.70" y1="255.60" x2="419.70" y2="256.80" stroke="#333" stroke-width="0.6"/>
<line x1="395.50" y1="229.27" x2="396.70" y2="229.27" stroke="#333" stroke-width="0.6"/>
<line x1="422.81" y1="255.60" x2="422.81" y2="256.80" stroke="#333" stroke-width="0.6"/>
<line x1="395.50" y1="227.04" x2="396.70" y2="227.04" stroke="#333" stroke-width="0.6"/>
<line x1="425.02" y1="255.60" x2="425.02" y2="256.80" stroke="#333" stroke-width="0.6"/>
<line x1="395.50" y1="225.32" x2="396.70" y2="225.32" stroke="#333" stroke-width="0.6"/>
<line x1="426.73" y1="255.60" x2="426.73" y2="256.80" stroke="#333" stroke-width="0.6"/>
<line x1="395.50" y1="223.90" x2="396.70" y2="223.90" stroke="#333" stroke-width="0.6"/>
<line x1="428.13" y1="255.60" x2="428.13" y2="256.80" stroke="#333" stroke-width="0.6"/>
<line x1="395.50" y1="222.71" x2="396.70" y2="222.71" stroke="#333" stroke-width="0.6"/>
<line x1="429.31" y1="255.60" x2="429.31" y2="256.80" stroke="#333" stroke-width="0.6"/>
<line x1="395.50" y1="221.68" x2="396.70" y2="221.68" stroke="#333" stroke-width="0.6"/>
<line x1="430.34" y1="255.60" x2="430.34" y2="256.80" stroke="#333" stroke-width="0.6"/>
<line x1="395.50" y1="220.77" x2="396.70" y2="220.77" stroke="#333" stroke-width="0.6"/>
<line x1="431.24" y1="255.60" x2="431.24" y2="256.80" stroke="#333" stroke-width="0.6"/>
<line x1="394.50" y1="219.95" x2="396.70" y2="219.95" stroke="#111" stroke-width="1.0"/>
<line x1="432.05" y1="255.60" x2="432.05" y2="257.80" stroke="#111" stroke-width="1.0"/>
<line x1="395.50" y1="214.58" x2="396.70" y2="214.58" stroke="#333" stroke-width="0.6"/>
<line x1="437.37" y1="255.60" x2="437.37" y2="256.80" stroke="#333" stroke-width="0.6"/>
<line x1="395.50" y1="211.45" x2="396.70" y2="211.45" stroke="#333" stroke-width="0.6"/>
<line x1="440.48" y1="255.60" x2="440.48" y2="256.80" stroke="#333" stroke-width="0.6"/>
<line x1="395.50" y1="209.22" x2="396.70" y2="209.22" stroke="#333" stroke-width="0.6"/>
<line x1="442.69" y1="255.60" x2="442.69" y2="256.80" stroke="#333" stroke-width="0.6"/>
<line x1="395.50" y1="207.49" x2="396.70" y2="207.49" stroke="#333" stroke-width="0.6"/>
<line x1="444.40" y1="255.60" x2="444.40" y2="256.80" stroke="#333" stroke-width="0.6"/>
<line x1="395.50" y1="206.08" x2="396.70" y2="206.08" stroke="#333" stroke-width="0.6"/>
<line x1="445.80" y1="255.60" x2="445.80" y2="256.80" stroke="#333" stroke-width="0.6"/>
<line x1="395.50" y1="204.89" x2="396.70" y2="204.89" stroke="#333" stroke-width="0.6"/>
<line x1="446.99" y1="255.60" x2="446.99" y2="256.80" stroke="#333" stroke-width="0.6"/>
<line x1="395.50" y1="203.85" x2="396.70" y2="203.85" stroke="#333" stroke-width="0.6"/>
<line x1="448.01" y1="255.60" x2="448.01" y2="256.80" stroke="#333" stroke-width="0.6"/>
<line x1="395.50" y1="202.94" x2="396.70" y2="202.94" stroke="#333" stroke-width="0.6"/>
<line x1="448.92" y1="255.60" x2="448.92" y2="256.80" stroke="#333" stroke-width="0.6"/>
<line x1="394.50" y1="202.12" x2="396.70" y2="202.12" stroke="#111" stroke-width="1.0"/>
<line x1="449.72" y1="255.60" x2="449.72" y2="257.80" stroke="#111" stroke-width="1.0"/>
<line x1="395.50" y1="196.76" x2="396.70" y2="196.76" stroke="#333" stroke-width="0.6"/>
<line x1="455.05" y1="255.60" x2="455.05" y2="256.80" stroke="#333" stroke-width="0.6"/>
<line x1="395.50" y1="193.62" x2="396.70" y2="193.62" stroke="#333" stroke-width="0.6"/>
<line x1="458.16" y1="255.60" x2="458.16" y2="256.80" stroke="#333" stroke-width="0.6"/>
<line x1="395.50" y1="191.39" x2="396.70" y2="191.39" stroke="#333" stroke-width="0.6"/>
<line x1="460.37" y1="255.60" x2="460.37" y2="256.80" stroke="#333" stroke-width="0.6"/>
<line x1="395.50" y1="189.67" x2="396.70" y2="189.67" stroke="#333" stroke-width="0.6"/>
<line x1="462.08" y1="255.60" x2="462.08" y2="256.80" stroke="#333" stroke-width="0.6"/>
<line x1="395.50" y1="188.25" x2="396.70" y2="188.25" stroke="#333" stroke-width="0.6"/>
<line x1="463.48" y1="255.60" x2="463.48" y2="256.80" stroke="#333" stroke-width="0.6"/>
<line x1="395.50" y1="187.06" x2="396.70" y2="187.06" stroke="#333" stroke-width="0.6"/>
<line x1="464.66" y1="255.60" x2="464.66" y2="256.80" stroke="#333" stroke-width="0.6"/>
<line x1="395.50" y1="186.03" x2="396.70" y2="186.03" stroke="#333" stroke-width="0.6"/>
<line x1="465.69" y1="255.60" x2="465.69" y2="256.80" stroke="#333" stroke-width="0.6"/>
<line x1="395.50" y1="185.12" x2="396.70" y2="185.12" stroke="#333" stroke-width="0.6"/>
<line x1="466.59" y1="255.60" x2="466.59" y2="256.80" stroke="#333" stroke-width="0.6"/>
<line x1="394.50" y1="184.30" x2="396.70" y2="184.30" stroke="#111" stroke-width="1.0"/>
<line x1="467.40" y1="255.60" x2="467.40" y2="257.80" stroke="#111" stroke-width="1.0"/>
<text x="397.40" y="195.50" font-size="9.4" font-weight="normal" text-anchor="start" fill="#1a1a1a" textLength="24.30" lengthAdjust="spacingAndGlyphs" >6.70%</text>
<text x="442.50" y="195.50" font-size="9.4" font-weight="normal" text-anchor="start" fill="#1a1a1a" textLength="23.80" lengthAdjust="spacingAndGlyphs" >0.00%</text>
<text x="398.20" y="248.50" font-size="9.4" font-weight="normal" text-anchor="start" fill="#1a1a1a" textLength="27.80" lengthAdjust="spacingAndGlyphs" >91.73%</text>
<text x="442.60" y="248.50" font-size="9.4" font-weight="normal" text-anchor="start" fill="#1a1a1a" textLength="24.10" lengthAdjust="spacingAndGlyphs" >1.56%</text>
<text x="392.50" y="262.80" font-size="7.6" font-weight="normal" text-anchor="end" fill="#2a2a2a" >10</text>
<text x="393.50" y="256.80" font-size="4.8" font-weight="normal" text-anchor="middle" fill="#2a2a2a" >0</text>
<text x="395.50" y="271.40" font-size="7.6" font-weight="normal" text-anchor="middle" fill="#2a2a2a" >10</text>
<text x="398.30" y="264.20" font-size="4.8" font-weight="normal" text-anchor="middle" fill="#2a2a2a" >0</text>
<text x="392.50" y="244.97" font-size="7.6" font-weight="normal" text-anchor="end" fill="#2a2a2a" >10</text>
<text x="393.50" y="238.97" font-size="4.8" font-weight="normal" text-anchor="middle" fill="#2a2a2a" >1</text>
<text x="413.18" y="271.40" font-size="7.6" font-weight="normal" text-anchor="middle" fill="#2a2a2a" >10</text>
<text x="415.98" y="264.20" font-size="4.8" font-weight="normal" text-anchor="middle" fill="#2a2a2a" >1</text>
<text x="392.50" y="227.15" font-size="7.6" font-weight="normal" text-anchor="end" fill="#2a2a2a" >10</text>
<text x="393.50" y="221.15" font-size="4.8" font-weight="normal" text-anchor="middle" fill="#2a2a2a" >2</text>
<text x="430.85" y="271.40" font-size="7.6" font-weight="normal" text-anchor="middle" fill="#2a2a2a" >10</text>
<text x="433.65" y="264.20" font-size="4.8" font-weight="normal" text-anchor="middle" fill="#2a2a2a" >2</text>
<text x="392.50" y="209.32" font-size="7.6" font-weight="normal" text-anchor="end" fill="#2a2a2a" >10</text>
<text x="393.50" y="203.32" font-size="4.8" font-weight="normal" text-anchor="middle" fill="#2a2a2a" >3</text>
<text x="448.52" y="271.40" font-size="7.6" font-weight="normal" text-anchor="middle" fill="#2a2a2a" >10</text>
<text x="451.32" y="264.20" font-size="4.8" font-weight="normal" text-anchor="middle" fill="#2a2a2a" >3</text>
<text x="392.50" y="191.50" font-size="7.6" font-weight="normal" text-anchor="end" fill="#2a2a2a" >10</text>
<text x="393.50" y="185.50" font-size="4.8" font-weight="normal" text-anchor="middle" fill="#2a2a2a" >4</text>
<text x="466.20" y="271.40" font-size="7.6" font-weight="normal" text-anchor="middle" fill="#2a2a2a" >10</text>
<text x="469.00" y="264.20" font-size="4.8" font-weight="normal" text-anchor="middle" fill="#2a2a2a" >4</text>
<text x="431.70" y="277.56" font-size="9.6" font-weight="normal" text-anchor="middle" fill="#1a1a1a" textLength="29.40" lengthAdjust="spacingAndGlyphs" >APC-A</text>
<clipPath id="c396184"><rect x="366.7" y="182" width="16" height="200"/></clipPath>
<g clip-path="url(#c396184)">
<text x="0" y="0" font-size="9.0" font-weight="normal" text-anchor="middle" fill="#1a1a1a" textLength="77.20" lengthAdjust="spacingAndGlyphs" transform="translate(377.85 217.10) rotate(-90)" >Alexa Fluor 488-A</text>
</g>
<rect x="103.40" y="312.80" width="72.30" height="73.00" fill="none" stroke="#b0b0b0" stroke-width="0.9"/>
<clipPath id="pc103312"><rect x="103.40" y="312.80" width="72.30" height="73.00"/></clipPath><g clip-path="url(#pc103312)">
<ellipse cx="141" cy="358" rx="12" ry="12" fill="#7070f0" opacity="0.4" filter="url(#b3)"/>
<path d="M139.1 361.6h0.9v0.9h-0.9zM140.9 360.3h0.9v0.9h-0.9zM144.9 369.9h0.9v0.9h-0.9zM135.8 361.5h0.9v0.9h-0.9zM150.7 354.9h0.9v0.9h-0.9zM143.5 370.1h0.9v0.9h-0.9zM149.1 345.9h0.9v0.9h-0.9zM141.6 350.6h0.9v0.9h-0.9zM144.8 355.8h0.9v0.9h-0.9zM139.7 354.5h0.9v0.9h-0.9zM144.7 357.1h0.9v0.9h-0.9zM137.7 357.0h0.9v0.9h-0.9zM145.4 355.3h0.9v0.9h-0.9zM149.5 352.2h0.9v0.9h-0.9zM145.4 357.5h0.9v0.9h-0.9zM152.2 357.5h0.9v0.9h-0.9zM139.1 352.0h0.9v0.9h-0.9zM154.6 363.9h0.9v0.9h-0.9zM136.7 356.3h0.9v0.9h-0.9zM137.4 365.3h0.9v0.9h-0.9zM145.4 349.7h0.9v0.9h-0.9zM144.2 363.6h0.9v0.9h-0.9zM143.0 361.3h0.9v0.9h-0.9zM142.4 359.9h0.9v0.9h-0.9zM144.2 355.8h0.9v0.9h-0.9zM145.0 360.1h0.9v0.9h-0.9zM142.8 355.7h0.9v0.9h-0.9zM137.1 359.2h0.9v0.9h-0.9zM147.8 348.3h0.9v0.9h-0.9zM139.9 364.9h0.9v0.9h-0.9zM148.3 356.5h0.9v0.9h-0.9zM150.9 355.6h0.9v0.9h-0.9zM138.4 367.5h0.9v0.9h-0.9zM140.5 357.5h0.9v0.9h-0.9zM133.4 352.6h0.9v0.9h-0.9zM136.1 357.2h0.9v0.9h-0.9zM132.3 362.3h0.9v0.9h-0.9zM140.9 355.8h0.9v0.9h-0.9zM139.3 361.9h0.9v0.9h-0.9zM151.9 358.5h0.9v0.9h-0.9zM152.4 368.2h0.9v0.9h-0.9zM150.8 361.7h0.9v0.9h-0.9zM134.3 360.8h0.9v0.9h-0.9zM140.6 359.5h0.9v0.9h-0.9zM132.0 355.8h0.9v0.9h-0.9zM144.4 354.8h0.9v0.9h-0.9zM144.7 367.3h0.9v0.9h-0.9zM144.3 356.0h0.9v0.9h-0.9zM156.9 351.1h0.9v0.9h-0.9zM137.6 360.1h0.9v0.9h-0.9zM139.5 347.5h0.9v0.9h-0.9zM144.5 363.2h0.9v0.9h-0.9zM138.4 365.2h0.9v0.9h-0.9zM145.9 365.2h0.9v0.9h-0.9zM134.1 357.5h0.9v0.9h-0.9zM152.3 370.2h0.9v0.9h-0.9zM150.7 360.3h0.9v0.9h-0.9zM144.1 356.2h0.9v0.9h-0.9zM149.4 356.8h0.9v0.9h-0.9zM143.7 349.3h0.9v0.9h-0.9zM134.2 366.0h0.9v0.9h-0.9zM143.3 360.1h0.9v0.9h-0.9zM130.2 356.7h0.9v0.9h-0.9zM155.1 353.9h0.9v0.9h-0.9zM129.1 355.9h0.9v0.9h-0.9zM139.9 357.5h0.9v0.9h-0.9zM135.6 351.3h0.9v0.9h-0.9zM135.8 360.9h0.9v0.9h-0.9zM142.7 362.9h0.9v0.9h-0.9zM136.7 360.8h0.9v0.9h-0.9zM140.4 359.0h0.9v0.9h-0.9zM148.5 360.1h0.9v0.9h-0.9zM140.9 350.7h0.9v0.9h-0.9zM143.4 362.8h0.9v0.9h-0.9zM139.3 358.1h0.9v0.9h-0.9zM132.6 350.9h0.9v0.9h-0.9zM145.4 365.6h0.9v0.9h-0.9zM141.2 350.7h0.9v0.9h-0.9zM140.8 351.1h0.9v0.9h-0.9zM141.4 368.0h0.9v0.9h-0.9zM144.8 358.6h0.9v0.9h-0.9zM149.1 358.2h0.9v0.9h-0.9zM145.0 360.3h0.9v0.9h-0.9zM145.6 352.4h0.9v0.9h-0.9zM147.2 363.9h0.9v0.9h-0.9zM129.6 343.7h0.9v0.9h-0.9zM137.7 365.3h0.9v0.9h-0.9zM143.1 362.3h0.9v0.9h-0.9zM146.3 363.8h0.9v0.9h-0.9zM139.2 355.6h0.9v0.9h-0.9zM145.2 362.3h0.9v0.9h-0.9zM146.4 361.2h0.9v0.9h-0.9zM140.1 363.8h0.9v0.9h-0.9zM145.8 364.6h0.9v0.9h-0.9zM128.0 361.4h0.9v0.9h-0.9zM128.6 357.6h0.9v0.9h-0.9zM139.1 358.9h0.9v0.9h-0.9zM140.2 357.0h0.9v0.9h-0.9zM144.1 360.9h0.9v0.9h-0.9zM138.3 346.0h0.9v0.9h-0.9zM138.4 360.8h0.9v0.9h-0.9zM138.0 360.2h0.9v0.9h-0.9zM140.8 354.1h0.9v0.9h-0.9zM149.9 368.2h0.9v0.9h-0.9zM142.4 358.7h0.9v0.9h-0.9zM148.7 353.5h0.9v0.9h-0.9zM137.8 363.6h0.9v0.9h-0.9zM148.3 357.5h0.9v0.9h-0.9zM138.4 359.9h0.9v0.9h-0.9zM134.7 355.2h0.9v0.9h-0.9zM141.6 346.9h0.9v0.9h-0.9zM146.5 363.3h0.9v0.9h-0.9zM149.3 353.1h0.9v0.9h-0.9zM135.4 353.8h0.9v0.9h-0.9zM135.3 367.7h0.9v0.9h-0.9zM137.2 356.5h0.9v0.9h-0.9zM144.2 361.4h0.9v0.9h-0.9zM151.6 355.2h0.9v0.9h-0.9zM148.2 360.6h0.9v0.9h-0.9zM136.0 358.6h0.9v0.9h-0.9zM134.7 365.5h0.9v0.9h-0.9zM138.7 363.2h0.9v0.9h-0.9zM150.7 357.3h0.9v0.9h-0.9zM137.7 358.7h0.9v0.9h-0.9zM136.8 362.3h0.9v0.9h-0.9zM144.0 355.5h0.9v0.9h-0.9zM138.9 361.8h0.9v0.9h-0.9zM134.4 365.8h0.9v0.9h-0.9zM138.3 357.3h0.9v0.9h-0.9zM137.5 366.0h0.9v0.9h-0.9zM147.9 366.2h0.9v0.9h-0.9zM146.9 360.1h0.9v0.9h-0.9zM153.1 363.9h0.9v0.9h-0.9zM145.6 362.2h0.9v0.9h-0.9zM147.4 361.1h0.9v0.9h-0.9zM142.0 351.1h0.9v0.9h-0.9zM155.3 354.7h0.9v0.9h-0.9zM130.1 353.4h0.9v0.9h-0.9zM154.6 366.9h0.9v0.9h-0.9zM139.4 359.7h0.9v0.9h-0.9zM142.9 349.3h0.9v0.9h-0.9zM141.0 360.1h0.9v0.9h-0.9zM150.0 354.3h0.9v0.9h-0.9zM129.5 349.1h0.9v0.9h-0.9zM145.0 359.7h0.9v0.9h-0.9zM143.9 359.9h0.9v0.9h-0.9zM140.8 352.0h0.9v0.9h-0.9zM145.7 361.3h0.9v0.9h-0.9zM146.5 365.7h0.9v0.9h-0.9zM135.6 346.3h0.9v0.9h-0.9zM132.3 367.7h0.9v0.9h-0.9zM137.5 360.0h0.9v0.9h-0.9zM142.9 362.5h0.9v0.9h-0.9zM162.2 359.7h0.9v0.9h-0.9zM142.0 355.9h0.9v0.9h-0.9zM144.5 361.8h0.9v0.9h-0.9zM137.2 364.5h0.9v0.9h-0.9zM149.9 362.3h0.9v0.9h-0.9zM142.3 357.7h0.9v0.9h-0.9zM133.1 360.6h0.9v0.9h-0.9zM137.2 355.6h0.9v0.9h-0.9zM149.0 355.5h0.9v0.9h-0.9zM139.9 362.7h0.9v0.9h-0.9zM154.1 357.5h0.9v0.9h-0.9zM149.6 356.9h0.9v0.9h-0.9zM145.3 361.8h0.9v0.9h-0.9zM136.2 362.9h0.9v0.9h-0.9zM153.8 361.1h0.9v0.9h-0.9zM144.6 353.5h0.9v0.9h-0.9zM153.7 361.1h0.9v0.9h-0.9zM135.3 361.5h0.9v0.9h-0.9zM134.2 354.2h0.9v0.9h-0.9zM130.2 363.6h0.9v0.9h-0.9zM156.3 358.1h0.9v0.9h-0.9zM139.1 355.5h0.9v0.9h-0.9zM139.6 361.1h0.9v0.9h-0.9zM151.8 355.5h0.9v0.9h-0.9zM145.6 350.6h0.9v0.9h-0.9zM152.1 360.1h0.9v0.9h-0.9zM138.8 365.8h0.9v0.9h-0.9zM142.4 365.6h0.9v0.9h-0.9zM149.4 368.2h0.9v0.9h-0.9zM138.2 358.5h0.9v0.9h-0.9zM145.2 358.4h0.9v0.9h-0.9zM152.1 357.0h0.9v0.9h-0.9zM149.0 366.7h0.9v0.9h-0.9zM131.3 352.3h0.9v0.9h-0.9zM137.6 355.4h0.9v0.9h-0.9zM145.3 358.5h0.9v0.9h-0.9zM143.5 356.8h0.9v0.9h-0.9zM142.5 361.3h0.9v0.9h-0.9zM147.5 355.9h0.9v0.9h-0.9zM142.3 355.2h0.9v0.9h-0.9zM141.9 351.8h0.9v0.9h-0.9zM148.7 363.2h0.9v0.9h-0.9zM142.3 355.5h0.9v0.9h-0.9zM140.3 355.3h0.9v0.9h-0.9zM133.7 365.5h0.9v0.9h-0.9zM162.7 356.3h0.9v0.9h-0.9zM136.0 360.7h0.9v0.9h-0.9zM146.6 351.9h0.9v0.9h-0.9zM131.5 359.7h0.9v0.9h-0.9zM131.1 364.0h0.9v0.9h-0.9zM140.0 358.9h0.9v0.9h-0.9zM143.0 356.3h0.9v0.9h-0.9zM142.1 357.4h0.9v0.9h-0.9zM150.5 359.8h0.9v0.9h-0.9zM142.8 356.4h0.9v0.9h-0.9zM139.2 354.8h0.9v0.9h-0.9zM143.1 368.0h0.9v0.9h-0.9zM149.7 361.3h0.9v0.9h-0.9zM153.0 365.6h0.9v0.9h-0.9zM144.2 358.4h0.9v0.9h-0.9zM136.4 359.1h0.9v0.9h-0.9zM141.1 350.9h0.9v0.9h-0.9zM135.3 367.2h0.9v0.9h-0.9zM144.3 361.7h0.9v0.9h-0.9zM144.2 356.9h0.9v0.9h-0.9zM145.8 364.8h0.9v0.9h-0.9zM141.1 361.2h0.9v0.9h-0.9zM149.2 357.7h0.9v0.9h-0.9zM144.0 355.5h0.9v0.9h-0.9zM146.6 357.8h0.9v0.9h-0.9zM149.9 356.4h0.9v0.9h-0.9zM153.1 359.2h0.9v0.9h-0.9zM138.0 353.7h0.9v0.9h-0.9zM147.0 355.5h0.9v0.9h-0.9zM153.8 367.1h0.9v0.9h-0.9zM146.1 352.6h0.9v0.9h-0.9zM142.9 355.4h0.9v0.9h-0.9zM132.1 359.3h0.9v0.9h-0.9zM156.2 358.6h0.9v0.9h-0.9zM147.9 366.1h0.9v0.9h-0.9zM137.2 356.4h0.9v0.9h-0.9zM144.6 361.6h0.9v0.9h-0.9zM136.1 358.9h0.9v0.9h-0.9zM142.4 363.6h0.9v0.9h-0.9zM133.4 354.6h0.9v0.9h-0.9zM140.0 356.9h0.9v0.9h-0.9zM147.3 356.6h0.9v0.9h-0.9zM159.4 358.3h0.9v0.9h-0.9zM148.0 364.8h0.9v0.9h-0.9zM148.8 359.0h0.9v0.9h-0.9zM138.0 356.9h0.9v0.9h-0.9zM147.0 360.3h0.9v0.9h-0.9zM146.5 362.4h0.9v0.9h-0.9zM137.7 353.5h0.9v0.9h-0.9zM151.6 358.1h0.9v0.9h-0.9zM133.5 366.5h0.9v0.9h-0.9zM138.0 353.6h0.9v0.9h-0.9zM148.8 354.4h0.9v0.9h-0.9zM137.8 363.3h0.9v0.9h-0.9zM138.1 370.5h0.9v0.9h-0.9zM143.6 372.2h0.9v0.9h-0.9zM143.8 359.4h0.9v0.9h-0.9zM139.2 357.3h0.9v0.9h-0.9zM140.0 358.4h0.9v0.9h-0.9zM147.6 353.5h0.9v0.9h-0.9zM137.5 347.8h0.9v0.9h-0.9zM152.0 360.1h0.9v0.9h-0.9zM142.9 358.7h0.9v0.9h-0.9zM149.0 361.6h0.9v0.9h-0.9zM148.1 359.0h0.9v0.9h-0.9zM142.3 358.6h0.9v0.9h-0.9zM131.8 362.5h0.9v0.9h-0.9zM133.5 352.6h0.9v0.9h-0.9zM147.0 359.9h0.9v0.9h-0.9zM147.9 368.2h0.9v0.9h-0.9zM154.2 367.6h0.9v0.9h-0.9zM141.6 368.8h0.9v0.9h-0.9zM137.7 357.7h0.9v0.9h-0.9zM149.0 359.0h0.9v0.9h-0.9zM142.3 357.1h0.9v0.9h-0.9zM151.2 348.3h0.9v0.9h-0.9zM150.6 365.5h0.9v0.9h-0.9zM142.6 361.7h0.9v0.9h-0.9zM137.2 363.5h0.9v0.9h-0.9zM161.4 357.6h0.9v0.9h-0.9zM151.4 360.1h0.9v0.9h-0.9zM141.0 356.3h0.9v0.9h-0.9zM141.9 352.7h0.9v0.9h-0.9zM134.9 365.8h0.9v0.9h-0.9zM142.9 361.7h0.9v0.9h-0.9zM144.9 361.6h0.9v0.9h-0.9zM133.8 352.8h0.9v0.9h-0.9zM146.8 364.5h0.9v0.9h-0.9zM136.1 355.0h0.9v0.9h-0.9zM136.6 361.1h0.9v0.9h-0.9zM145.1 359.5h0.9v0.9h-0.9zM139.1 360.0h0.9v0.9h-0.9zM143.2 355.4h0.9v0.9h-0.9zM145.0 356.1h0.9v0.9h-0.9zM148.7 363.0h0.9v0.9h-0.9zM138.9 361.2h0.9v0.9h-0.9zM143.4 355.6h0.9v0.9h-0.9zM137.5 349.9h0.9v0.9h-0.9zM136.2 359.6h0.9v0.9h-0.9zM150.2 357.1h0.9v0.9h-0.9zM144.0 360.8h0.9v0.9h-0.9zM147.7 362.0h0.9v0.9h-0.9z" fill="#0a0ad8"/>
<path d="M149.2 365.4h0.9v0.9h-0.9zM134.3 359.0h0.9v0.9h-0.9zM122.4 351.8h0.9v0.9h-0.9zM140.2 361.7h0.9v0.9h-0.9zM137.7 363.0h0.9v0.9h-0.9zM149.9 353.9h0.9v0.9h-0.9zM135.9 358.4h0.9v0.9h-0.9zM143.7 359.5h0.9v0.9h-0.9zM146.2 350.5h0.9v0.9h-0.9zM145.8 367.4h0.9v0.9h-0.9zM148.3 362.7h0.9v0.9h-0.9zM138.2 360.0h0.9v0.9h-0.9zM139.4 345.8h0.9v0.9h-0.9zM135.5 356.1h0.9v0.9h-0.9zM136.1 349.8h0.9v0.9h-0.9zM138.3 354.4h0.9v0.9h-0.9zM140.5 357.3h0.9v0.9h-0.9zM141.3 365.0h0.9v0.9h-0.9zM141.0 360.7h0.9v0.9h-0.9zM130.8 333.8h0.9v0.9h-0.9zM137.0 361.7h0.9v0.9h-0.9zM137.5 352.3h0.9v0.9h-0.9zM130.7 361.7h0.9v0.9h-0.9zM136.0 358.3h0.9v0.9h-0.9zM148.5 363.5h0.9v0.9h-0.9zM156.8 360.7h0.9v0.9h-0.9zM147.2 364.3h0.9v0.9h-0.9zM135.1 356.6h0.9v0.9h-0.9zM135.8 349.0h0.9v0.9h-0.9zM142.2 352.4h0.9v0.9h-0.9zM152.6 355.3h0.9v0.9h-0.9zM135.9 357.1h0.9v0.9h-0.9zM136.1 356.9h0.9v0.9h-0.9zM135.4 346.0h0.9v0.9h-0.9zM121.9 343.6h0.9v0.9h-0.9zM151.4 363.6h0.9v0.9h-0.9zM141.2 354.4h0.9v0.9h-0.9zM138.9 359.4h0.9v0.9h-0.9zM129.6 349.1h0.9v0.9h-0.9zM133.3 365.0h0.9v0.9h-0.9zM132.1 364.0h0.9v0.9h-0.9zM136.5 376.4h0.9v0.9h-0.9zM139.4 357.6h0.9v0.9h-0.9zM150.1 366.4h0.9v0.9h-0.9zM147.0 351.5h0.9v0.9h-0.9zM148.5 371.8h0.9v0.9h-0.9zM139.2 353.8h0.9v0.9h-0.9zM131.8 362.8h0.9v0.9h-0.9zM142.2 358.1h0.9v0.9h-0.9zM130.7 367.0h0.9v0.9h-0.9zM146.6 359.0h0.9v0.9h-0.9zM151.1 353.4h0.9v0.9h-0.9zM146.6 351.9h0.9v0.9h-0.9zM150.6 358.1h0.9v0.9h-0.9zM149.2 356.8h0.9v0.9h-0.9zM143.0 366.5h0.9v0.9h-0.9zM133.2 356.5h0.9v0.9h-0.9zM133.7 362.1h0.9v0.9h-0.9zM135.5 353.7h0.9v0.9h-0.9zM138.5 365.6h0.9v0.9h-0.9zM132.2 355.4h0.9v0.9h-0.9zM137.5 352.9h0.9v0.9h-0.9zM134.1 354.9h0.9v0.9h-0.9zM141.5 346.6h0.9v0.9h-0.9zM141.8 349.3h0.9v0.9h-0.9zM140.1 374.1h0.9v0.9h-0.9zM132.7 355.2h0.9v0.9h-0.9zM138.1 364.2h0.9v0.9h-0.9zM136.4 343.6h0.9v0.9h-0.9zM127.9 355.8h0.9v0.9h-0.9zM141.9 365.7h0.9v0.9h-0.9zM136.0 361.3h0.9v0.9h-0.9zM132.0 364.9h0.9v0.9h-0.9zM139.5 352.4h0.9v0.9h-0.9zM141.3 370.5h0.9v0.9h-0.9zM133.6 346.9h0.9v0.9h-0.9zM132.4 347.2h0.9v0.9h-0.9zM139.6 360.0h0.9v0.9h-0.9zM138.8 358.6h0.9v0.9h-0.9zM148.9 357.6h0.9v0.9h-0.9zM130.6 338.6h0.9v0.9h-0.9zM141.8 353.0h0.9v0.9h-0.9zM138.1 360.0h0.9v0.9h-0.9zM143.5 347.0h0.9v0.9h-0.9zM132.8 356.2h0.9v0.9h-0.9zM138.9 365.6h0.9v0.9h-0.9zM136.2 341.6h0.9v0.9h-0.9zM148.8 347.8h0.9v0.9h-0.9zM132.7 358.5h0.9v0.9h-0.9zM132.1 373.6h0.9v0.9h-0.9zM141.8 361.8h0.9v0.9h-0.9zM136.7 372.8h0.9v0.9h-0.9zM144.0 353.3h0.9v0.9h-0.9zM149.4 347.6h0.9v0.9h-0.9zM135.6 358.5h0.9v0.9h-0.9zM141.0 350.8h0.9v0.9h-0.9zM151.9 371.1h0.9v0.9h-0.9zM133.0 358.5h0.9v0.9h-0.9zM135.2 353.2h0.9v0.9h-0.9zM147.4 360.3h0.9v0.9h-0.9zM139.2 358.0h0.9v0.9h-0.9zM131.2 364.2h0.9v0.9h-0.9zM134.4 365.6h0.9v0.9h-0.9zM136.6 353.3h0.9v0.9h-0.9zM151.1 361.7h0.9v0.9h-0.9zM135.2 352.4h0.9v0.9h-0.9zM144.5 372.2h0.9v0.9h-0.9zM144.6 355.8h0.9v0.9h-0.9zM131.6 350.5h0.9v0.9h-0.9zM139.1 359.1h0.9v0.9h-0.9zM135.1 365.6h0.9v0.9h-0.9zM132.8 350.5h0.9v0.9h-0.9zM143.7 361.9h0.9v0.9h-0.9zM137.1 363.8h0.9v0.9h-0.9zM129.4 366.7h0.9v0.9h-0.9zM156.4 375.8h0.9v0.9h-0.9zM140.9 372.0h0.9v0.9h-0.9zM140.4 367.3h0.9v0.9h-0.9zM138.5 358.5h0.9v0.9h-0.9zM143.9 345.8h0.9v0.9h-0.9zM138.4 369.6h0.9v0.9h-0.9zM118.1 354.8h0.9v0.9h-0.9zM146.9 361.6h0.9v0.9h-0.9zM141.5 367.9h0.9v0.9h-0.9zM142.5 344.4h0.9v0.9h-0.9zM132.9 353.6h0.9v0.9h-0.9zM141.1 354.5h0.9v0.9h-0.9zM139.2 369.4h0.9v0.9h-0.9zM118.0 360.4h0.9v0.9h-0.9zM147.0 363.6h0.9v0.9h-0.9zM140.1 358.0h0.9v0.9h-0.9zM142.7 359.9h0.9v0.9h-0.9zM134.6 361.8h0.9v0.9h-0.9zM133.8 355.7h0.9v0.9h-0.9zM137.3 348.5h0.9v0.9h-0.9zM144.5 358.1h0.9v0.9h-0.9zM131.3 354.8h0.9v0.9h-0.9zM129.7 365.3h0.9v0.9h-0.9zM143.9 372.9h0.9v0.9h-0.9zM135.8 361.6h0.9v0.9h-0.9zM132.8 349.5h0.9v0.9h-0.9zM139.3 360.3h0.9v0.9h-0.9zM146.9 357.3h0.9v0.9h-0.9zM148.3 366.6h0.9v0.9h-0.9zM133.5 354.6h0.9v0.9h-0.9zM133.1 368.1h0.9v0.9h-0.9zM135.9 362.9h0.9v0.9h-0.9zM146.8 357.4h0.9v0.9h-0.9zM136.4 359.1h0.9v0.9h-0.9zM134.2 346.9h0.9v0.9h-0.9zM132.8 358.1h0.9v0.9h-0.9zM141.4 370.6h0.9v0.9h-0.9zM126.3 357.7h0.9v0.9h-0.9zM131.4 363.7h0.9v0.9h-0.9zM145.2 359.7h0.9v0.9h-0.9zM151.0 357.6h0.9v0.9h-0.9zM136.0 348.9h0.9v0.9h-0.9zM135.1 357.1h0.9v0.9h-0.9zM145.0 368.0h0.9v0.9h-0.9zM138.0 351.7h0.9v0.9h-0.9zM137.5 353.8h0.9v0.9h-0.9zM136.5 353.7h0.9v0.9h-0.9zM133.5 355.5h0.9v0.9h-0.9zM136.2 355.3h0.9v0.9h-0.9zM129.7 356.0h0.9v0.9h-0.9zM144.3 363.2h0.9v0.9h-0.9zM135.9 348.3h0.9v0.9h-0.9zM130.3 346.6h0.9v0.9h-0.9zM135.2 354.1h0.9v0.9h-0.9zM126.8 359.0h0.9v0.9h-0.9zM128.5 349.7h0.9v0.9h-0.9zM134.6 362.1h0.9v0.9h-0.9zM153.7 358.4h0.9v0.9h-0.9zM138.0 354.2h0.9v0.9h-0.9zM138.5 355.9h0.9v0.9h-0.9zM158.4 354.3h0.9v0.9h-0.9zM139.2 351.6h0.9v0.9h-0.9zM142.7 354.4h0.9v0.9h-0.9zM144.3 350.8h0.9v0.9h-0.9zM155.7 362.9h0.9v0.9h-0.9zM126.9 359.2h0.9v0.9h-0.9zM136.5 348.3h0.9v0.9h-0.9zM143.3 354.6h0.9v0.9h-0.9zM145.5 354.9h0.9v0.9h-0.9zM146.7 360.2h0.9v0.9h-0.9zM142.7 359.3h0.9v0.9h-0.9zM137.3 354.2h0.9v0.9h-0.9zM143.4 363.4h0.9v0.9h-0.9zM137.0 372.8h0.9v0.9h-0.9zM152.6 352.4h0.9v0.9h-0.9zM148.1 359.0h0.9v0.9h-0.9zM141.7 352.3h0.9v0.9h-0.9zM152.3 354.7h0.9v0.9h-0.9zM139.4 352.2h0.9v0.9h-0.9zM154.3 370.1h0.9v0.9h-0.9zM130.2 351.8h0.9v0.9h-0.9zM142.7 355.1h0.9v0.9h-0.9zM137.4 349.1h0.9v0.9h-0.9zM141.9 350.2h0.9v0.9h-0.9zM146.2 376.2h0.9v0.9h-0.9zM137.6 368.7h0.9v0.9h-0.9zM142.8 353.4h0.9v0.9h-0.9zM137.4 350.0h0.9v0.9h-0.9zM140.9 362.7h0.9v0.9h-0.9zM146.9 357.2h0.9v0.9h-0.9zM131.2 354.8h0.9v0.9h-0.9zM152.4 362.6h0.9v0.9h-0.9zM139.5 342.6h0.9v0.9h-0.9zM136.8 360.6h0.9v0.9h-0.9zM133.0 365.4h0.9v0.9h-0.9zM135.8 350.2h0.9v0.9h-0.9zM135.7 355.8h0.9v0.9h-0.9zM147.4 355.3h0.9v0.9h-0.9zM126.8 353.7h0.9v0.9h-0.9zM143.9 369.5h0.9v0.9h-0.9zM131.7 366.0h0.9v0.9h-0.9zM145.0 362.0h0.9v0.9h-0.9zM134.3 349.8h0.9v0.9h-0.9zM132.9 362.4h0.9v0.9h-0.9zM141.6 365.5h0.9v0.9h-0.9zM153.4 361.0h0.9v0.9h-0.9zM139.7 371.1h0.9v0.9h-0.9zM130.4 351.9h0.9v0.9h-0.9zM137.3 354.1h0.9v0.9h-0.9zM141.1 351.8h0.9v0.9h-0.9zM148.6 350.0h0.9v0.9h-0.9zM134.0 344.0h0.9v0.9h-0.9zM129.7 359.1h0.9v0.9h-0.9zM144.6 357.3h0.9v0.9h-0.9zM146.2 363.5h0.9v0.9h-0.9zM135.7 356.2h0.9v0.9h-0.9zM142.7 372.5h0.9v0.9h-0.9zM136.8 359.4h0.9v0.9h-0.9zM144.0 367.2h0.9v0.9h-0.9zM143.1 365.9h0.9v0.9h-0.9zM132.2 353.7h0.9v0.9h-0.9zM125.7 353.6h0.9v0.9h-0.9zM157.2 363.6h0.9v0.9h-0.9zM140.7 359.6h0.9v0.9h-0.9zM141.1 348.4h0.9v0.9h-0.9zM134.9 355.0h0.9v0.9h-0.9zM141.2 351.7h0.9v0.9h-0.9zM139.2 352.1h0.9v0.9h-0.9zM130.3 350.4h0.9v0.9h-0.9zM134.1 362.0h0.9v0.9h-0.9zM149.9 364.1h0.9v0.9h-0.9zM138.4 353.2h0.9v0.9h-0.9zM128.4 350.9h0.9v0.9h-0.9zM151.5 368.6h0.9v0.9h-0.9zM141.7 356.2h0.9v0.9h-0.9zM140.0 360.6h0.9v0.9h-0.9zM139.9 360.6h0.9v0.9h-0.9zM134.3 356.4h0.9v0.9h-0.9zM137.4 364.5h0.9v0.9h-0.9zM130.9 364.5h0.9v0.9h-0.9zM139.4 353.8h0.9v0.9h-0.9zM140.2 358.5h0.9v0.9h-0.9zM138.3 360.1h0.9v0.9h-0.9zM135.7 344.5h0.9v0.9h-0.9zM145.1 358.7h0.9v0.9h-0.9zM152.3 363.4h0.9v0.9h-0.9zM125.3 362.7h0.9v0.9h-0.9zM134.9 360.2h0.9v0.9h-0.9zM156.4 369.4h0.9v0.9h-0.9zM131.9 354.9h0.9v0.9h-0.9zM128.2 359.3h0.9v0.9h-0.9zM144.1 351.3h0.9v0.9h-0.9zM143.3 365.0h0.9v0.9h-0.9zM146.0 354.3h0.9v0.9h-0.9zM134.9 348.3h0.9v0.9h-0.9zM130.5 357.4h0.9v0.9h-0.9zM140.3 366.8h0.9v0.9h-0.9zM142.0 355.8h0.9v0.9h-0.9zM129.5 365.9h0.9v0.9h-0.9zM141.2 357.6h0.9v0.9h-0.9zM132.6 348.3h0.9v0.9h-0.9zM144.7 351.8h0.9v0.9h-0.9zM144.3 363.1h0.9v0.9h-0.9zM137.2 345.4h0.9v0.9h-0.9zM143.0 368.3h0.9v0.9h-0.9zM133.9 347.1h0.9v0.9h-0.9zM148.0 360.6h0.9v0.9h-0.9zM135.4 365.1h0.9v0.9h-0.9zM138.0 360.2h0.9v0.9h-0.9zM137.0 351.5h0.9v0.9h-0.9zM141.6 351.9h0.9v0.9h-0.9zM126.9 350.5h0.9v0.9h-0.9zM149.1 367.6h0.9v0.9h-0.9zM156.0 368.6h0.9v0.9h-0.9zM151.9 362.3h0.9v0.9h-0.9zM136.8 360.1h0.9v0.9h-0.9zM133.0 361.0h0.9v0.9h-0.9zM136.7 358.6h0.9v0.9h-0.9zM133.7 355.1h0.9v0.9h-0.9zM147.2 357.8h0.9v0.9h-0.9zM135.0 358.3h0.9v0.9h-0.9zM146.5 357.9h0.9v0.9h-0.9zM131.4 344.4h0.9v0.9h-0.9zM130.1 362.6h0.9v0.9h-0.9zM139.4 360.8h0.9v0.9h-0.9zM147.9 361.6h0.9v0.9h-0.9zM143.5 354.9h0.9v0.9h-0.9zM128.2 359.0h0.9v0.9h-0.9zM139.3 361.4h0.9v0.9h-0.9zM132.2 354.6h0.9v0.9h-0.9zM154.8 355.4h0.9v0.9h-0.9zM140.7 367.0h0.9v0.9h-0.9zM138.3 358.0h0.9v0.9h-0.9zM124.3 359.1h0.9v0.9h-0.9zM136.8 365.8h0.9v0.9h-0.9zM139.3 354.8h0.9v0.9h-0.9zM143.2 356.7h0.9v0.9h-0.9zM136.2 367.5h0.9v0.9h-0.9zM147.2 360.2h0.9v0.9h-0.9zM145.9 364.9h0.9v0.9h-0.9zM144.3 359.0h0.9v0.9h-0.9zM140.5 360.6h0.9v0.9h-0.9zM144.2 361.1h0.9v0.9h-0.9zM136.0 356.1h0.9v0.9h-0.9zM143.4 351.5h0.9v0.9h-0.9zM139.9 362.9h0.9v0.9h-0.9zM141.2 355.9h0.9v0.9h-0.9zM139.8 354.2h0.9v0.9h-0.9zM147.2 356.8h0.9v0.9h-0.9zM127.8 346.1h0.9v0.9h-0.9zM142.2 359.6h0.9v0.9h-0.9zM136.5 347.6h0.9v0.9h-0.9zM138.9 351.5h0.9v0.9h-0.9zM135.2 356.4h0.9v0.9h-0.9zM134.4 358.4h0.9v0.9h-0.9zM134.6 353.0h0.9v0.9h-0.9zM138.3 367.4h0.9v0.9h-0.9zM151.6 367.1h0.9v0.9h-0.9zM134.6 356.3h0.9v0.9h-0.9zM146.7 364.9h0.9v0.9h-0.9zM128.0 354.2h0.9v0.9h-0.9zM134.6 361.5h0.9v0.9h-0.9zM144.7 355.0h0.9v0.9h-0.9zM155.7 359.6h0.9v0.9h-0.9zM157.9 360.9h0.9v0.9h-0.9zM139.4 370.7h0.9v0.9h-0.9zM136.1 353.4h0.9v0.9h-0.9zM150.8 360.0h0.9v0.9h-0.9zM143.5 349.7h0.9v0.9h-0.9zM153.1 367.7h0.9v0.9h-0.9zM142.6 363.2h0.9v0.9h-0.9zM136.3 353.4h0.9v0.9h-0.9zM128.5 357.3h0.9v0.9h-0.9zM149.1 365.8h0.9v0.9h-0.9zM146.8 364.2h0.9v0.9h-0.9zM133.2 346.9h0.9v0.9h-0.9zM144.7 359.9h0.9v0.9h-0.9zM147.2 357.5h0.9v0.9h-0.9zM133.5 359.1h0.9v0.9h-0.9zM135.9 345.2h0.9v0.9h-0.9zM135.5 350.4h0.9v0.9h-0.9zM131.8 351.8h0.9v0.9h-0.9zM147.0 375.7h0.9v0.9h-0.9zM152.7 357.9h0.9v0.9h-0.9zM148.4 359.2h0.9v0.9h-0.9zM143.0 353.7h0.9v0.9h-0.9zM139.5 345.9h0.9v0.9h-0.9zM153.2 355.6h0.9v0.9h-0.9zM144.3 354.6h0.9v0.9h-0.9zM142.0 350.0h0.9v0.9h-0.9zM137.2 363.2h0.9v0.9h-0.9zM144.4 345.3h0.9v0.9h-0.9zM146.3 350.1h0.9v0.9h-0.9zM142.1 361.7h0.9v0.9h-0.9zM135.3 354.2h0.9v0.9h-0.9zM138.2 359.9h0.9v0.9h-0.9zM146.7 368.7h0.9v0.9h-0.9zM142.4 372.0h0.9v0.9h-0.9zM133.0 368.2h0.9v0.9h-0.9zM138.1 362.4h0.9v0.9h-0.9zM139.1 358.0h0.9v0.9h-0.9zM133.3 358.6h0.9v0.9h-0.9zM154.9 362.4h0.9v0.9h-0.9zM139.8 357.6h0.9v0.9h-0.9zM145.2 357.5h0.9v0.9h-0.9zM140.0 359.1h0.9v0.9h-0.9zM149.6 366.6h0.9v0.9h-0.9zM132.3 351.3h0.9v0.9h-0.9zM140.1 363.5h0.9v0.9h-0.9zM147.1 358.0h0.9v0.9h-0.9zM155.6 360.4h0.9v0.9h-0.9zM150.3 370.0h0.9v0.9h-0.9zM151.7 361.9h0.9v0.9h-0.9zM144.2 348.1h0.9v0.9h-0.9zM126.9 350.1h0.9v0.9h-0.9zM145.3 366.3h0.9v0.9h-0.9zM139.2 364.6h0.9v0.9h-0.9zM144.2 369.2h0.9v0.9h-0.9zM128.3 349.0h0.9v0.9h-0.9zM133.0 348.7h0.9v0.9h-0.9zM152.1 354.3h0.9v0.9h-0.9zM133.9 353.4h0.9v0.9h-0.9zM146.5 356.1h0.9v0.9h-0.9zM145.4 362.8h0.9v0.9h-0.9zM135.3 340.1h0.9v0.9h-0.9zM133.3 347.3h0.9v0.9h-0.9zM152.0 355.7h0.9v0.9h-0.9zM132.1 358.3h0.9v0.9h-0.9zM140.4 351.3h0.9v0.9h-0.9zM148.0 365.9h0.9v0.9h-0.9zM142.1 352.9h0.9v0.9h-0.9zM133.6 341.9h0.9v0.9h-0.9zM142.8 361.0h0.9v0.9h-0.9zM133.2 356.1h0.9v0.9h-0.9zM164.1 355.8h0.9v0.9h-0.9zM127.5 358.7h0.9v0.9h-0.9zM136.9 353.4h0.9v0.9h-0.9zM144.6 357.9h0.9v0.9h-0.9zM147.3 363.0h0.9v0.9h-0.9zM148.5 360.6h0.9v0.9h-0.9zM124.1 363.0h0.9v0.9h-0.9zM127.5 361.7h0.9v0.9h-0.9zM141.9 348.5h0.9v0.9h-0.9zM140.5 363.8h0.9v0.9h-0.9zM132.5 356.0h0.9v0.9h-0.9z" fill="#3434ec"/>
<path d="M129.7 344.8h0.9v0.9h-0.9zM130.3 354.5h0.9v0.9h-0.9zM136.0 348.9h0.9v0.9h-0.9zM132.6 349.6h0.9v0.9h-0.9zM134.3 349.8h0.9v0.9h-0.9zM125.4 353.0h0.9v0.9h-0.9zM129.2 337.9h0.9v0.9h-0.9zM136.1 343.9h0.9v0.9h-0.9zM132.4 348.7h0.9v0.9h-0.9zM130.4 351.3h0.9v0.9h-0.9zM131.8 347.9h0.9v0.9h-0.9zM128.8 347.9h0.9v0.9h-0.9zM128.4 349.2h0.9v0.9h-0.9zM138.8 353.4h0.9v0.9h-0.9zM134.9 343.2h0.9v0.9h-0.9zM137.5 353.0h0.9v0.9h-0.9zM142.1 339.4h0.9v0.9h-0.9zM133.1 347.6h0.9v0.9h-0.9zM137.8 344.4h0.9v0.9h-0.9zM131.3 359.0h0.9v0.9h-0.9zM137.4 340.5h0.9v0.9h-0.9zM133.1 354.9h0.9v0.9h-0.9zM130.3 351.6h0.9v0.9h-0.9zM133.4 342.8h0.9v0.9h-0.9zM130.2 353.9h0.9v0.9h-0.9zM138.2 346.5h0.9v0.9h-0.9zM138.0 346.0h0.9v0.9h-0.9zM134.1 348.9h0.9v0.9h-0.9zM127.5 350.4h0.9v0.9h-0.9zM131.3 337.3h0.9v0.9h-0.9zM129.3 345.4h0.9v0.9h-0.9zM129.3 344.8h0.9v0.9h-0.9zM130.0 338.5h0.9v0.9h-0.9zM136.9 349.3h0.9v0.9h-0.9zM134.1 347.9h0.9v0.9h-0.9zM133.3 347.9h0.9v0.9h-0.9zM128.2 342.5h0.9v0.9h-0.9zM133.3 353.4h0.9v0.9h-0.9zM134.0 356.0h0.9v0.9h-0.9zM127.0 347.9h0.9v0.9h-0.9zM130.3 354.3h0.9v0.9h-0.9zM140.5 346.8h0.9v0.9h-0.9zM136.2 348.0h0.9v0.9h-0.9zM128.6 348.6h0.9v0.9h-0.9zM128.4 355.7h0.9v0.9h-0.9zM135.6 354.1h0.9v0.9h-0.9zM134.6 338.6h0.9v0.9h-0.9zM136.6 349.4h0.9v0.9h-0.9zM122.4 349.5h0.9v0.9h-0.9zM137.5 356.4h0.9v0.9h-0.9zM128.5 352.4h0.9v0.9h-0.9zM134.5 348.3h0.9v0.9h-0.9zM131.7 351.3h0.9v0.9h-0.9zM135.6 351.9h0.9v0.9h-0.9zM131.2 343.4h0.9v0.9h-0.9zM138.8 354.6h0.9v0.9h-0.9zM130.5 348.9h0.9v0.9h-0.9zM136.6 341.5h0.9v0.9h-0.9zM135.2 359.4h0.9v0.9h-0.9zM134.2 346.0h0.9v0.9h-0.9zM142.0 349.1h0.9v0.9h-0.9zM133.9 347.2h0.9v0.9h-0.9zM133.8 341.3h0.9v0.9h-0.9zM127.3 342.7h0.9v0.9h-0.9zM137.0 348.6h0.9v0.9h-0.9zM138.1 340.2h0.9v0.9h-0.9zM130.3 355.3h0.9v0.9h-0.9zM129.5 341.0h0.9v0.9h-0.9zM129.7 347.5h0.9v0.9h-0.9zM132.9 354.6h0.9v0.9h-0.9zM138.9 355.7h0.9v0.9h-0.9zM135.6 346.9h0.9v0.9h-0.9zM130.8 342.6h0.9v0.9h-0.9zM138.6 354.4h0.9v0.9h-0.9zM133.4 345.2h0.9v0.9h-0.9zM136.0 351.1h0.9v0.9h-0.9zM133.7 344.0h0.9v0.9h-0.9zM134.1 346.6h0.9v0.9h-0.9zM136.3 351.6h0.9v0.9h-0.9zM134.9 347.2h0.9v0.9h-0.9zM139.7 352.3h0.9v0.9h-0.9zM138.6 352.6h0.9v0.9h-0.9zM135.9 350.7h0.9v0.9h-0.9zM128.3 341.2h0.9v0.9h-0.9zM128.9 351.7h0.9v0.9h-0.9zM137.0 349.8h0.9v0.9h-0.9zM133.4 356.9h0.9v0.9h-0.9zM131.2 341.3h0.9v0.9h-0.9zM126.2 347.6h0.9v0.9h-0.9zM136.1 352.2h0.9v0.9h-0.9zM132.0 352.5h0.9v0.9h-0.9zM132.8 345.9h0.9v0.9h-0.9zM131.3 352.3h0.9v0.9h-0.9zM137.2 344.2h0.9v0.9h-0.9zM128.6 349.5h0.9v0.9h-0.9zM142.4 344.0h0.9v0.9h-0.9zM127.5 350.8h0.9v0.9h-0.9zM135.2 346.4h0.9v0.9h-0.9zM132.9 351.1h0.9v0.9h-0.9zM125.3 348.9h0.9v0.9h-0.9z" fill="#3434ec"/>
<path d="M145.9 370.8h0.9v0.9h-0.9zM151.4 361.8h0.9v0.9h-0.9zM125.9 370.8h0.9v0.9h-0.9zM147.6 355.1h0.9v0.9h-0.9zM150.2 373.0h0.9v0.9h-0.9zM138.6 335.3h0.9v0.9h-0.9zM135.4 351.2h0.9v0.9h-0.9zM131.8 357.4h0.9v0.9h-0.9zM129.4 361.7h0.9v0.9h-0.9zM158.5 351.8h0.9v0.9h-0.9zM150.2 356.8h0.9v0.9h-0.9zM145.3 359.9h0.9v0.9h-0.9zM152.6 355.4h0.9v0.9h-0.9zM147.2 353.6h0.9v0.9h-0.9zM142.2 360.4h0.9v0.9h-0.9zM150.7 346.1h0.9v0.9h-0.9zM126.8 371.5h0.9v0.9h-0.9zM143.8 378.4h0.9v0.9h-0.9zM129.9 360.0h0.9v0.9h-0.9zM145.9 379.6h0.9v0.9h-0.9zM139.5 355.3h0.9v0.9h-0.9zM147.0 360.5h0.9v0.9h-0.9zM132.7 366.3h0.9v0.9h-0.9zM121.4 345.4h0.9v0.9h-0.9zM153.3 357.8h0.9v0.9h-0.9zM136.8 363.1h0.9v0.9h-0.9zM151.0 367.9h0.9v0.9h-0.9zM130.6 352.1h0.9v0.9h-0.9zM150.3 361.0h0.9v0.9h-0.9zM133.8 367.7h0.9v0.9h-0.9zM129.5 350.4h0.9v0.9h-0.9zM133.2 362.2h0.9v0.9h-0.9zM135.3 370.5h0.9v0.9h-0.9zM113.7 364.2h0.9v0.9h-0.9zM133.7 355.8h0.9v0.9h-0.9zM145.6 363.3h0.9v0.9h-0.9zM130.1 373.3h0.9v0.9h-0.9zM145.6 356.2h0.9v0.9h-0.9zM142.0 349.0h0.9v0.9h-0.9zM128.0 354.3h0.9v0.9h-0.9zM143.6 361.8h0.9v0.9h-0.9zM132.4 344.0h0.9v0.9h-0.9zM123.6 372.9h0.9v0.9h-0.9zM143.6 352.5h0.9v0.9h-0.9zM151.6 368.1h0.9v0.9h-0.9zM136.0 352.8h0.9v0.9h-0.9zM151.1 365.8h0.9v0.9h-0.9zM156.0 367.3h0.9v0.9h-0.9zM134.3 352.6h0.9v0.9h-0.9zM133.1 361.1h0.9v0.9h-0.9zM142.5 366.8h0.9v0.9h-0.9zM144.4 350.1h0.9v0.9h-0.9zM138.0 349.8h0.9v0.9h-0.9zM144.7 347.4h0.9v0.9h-0.9zM134.3 349.9h0.9v0.9h-0.9zM134.0 356.0h0.9v0.9h-0.9zM154.7 360.6h0.9v0.9h-0.9zM126.0 353.8h0.9v0.9h-0.9zM147.3 367.3h0.9v0.9h-0.9zM142.3 381.1h0.9v0.9h-0.9zM150.8 363.3h0.9v0.9h-0.9zM151.8 348.8h0.9v0.9h-0.9zM138.4 350.7h0.9v0.9h-0.9zM141.7 377.1h0.9v0.9h-0.9zM135.2 375.4h0.9v0.9h-0.9zM130.1 372.6h0.9v0.9h-0.9zM123.5 347.6h0.9v0.9h-0.9zM149.7 361.2h0.9v0.9h-0.9zM141.4 360.2h0.9v0.9h-0.9zM141.8 358.5h0.9v0.9h-0.9zM130.5 354.9h0.9v0.9h-0.9zM141.1 350.9h0.9v0.9h-0.9zM144.5 379.2h0.9v0.9h-0.9zM124.0 350.9h0.9v0.9h-0.9zM137.3 359.6h0.9v0.9h-0.9zM140.9 352.7h0.9v0.9h-0.9zM139.7 360.0h0.9v0.9h-0.9zM139.2 375.7h0.9v0.9h-0.9zM141.3 345.0h0.9v0.9h-0.9zM124.8 362.8h0.9v0.9h-0.9zM136.7 352.9h0.9v0.9h-0.9zM126.8 353.9h0.9v0.9h-0.9zM139.1 352.7h0.9v0.9h-0.9zM136.6 368.4h0.9v0.9h-0.9zM147.6 367.3h0.9v0.9h-0.9zM138.3 345.6h0.9v0.9h-0.9zM147.5 377.1h0.9v0.9h-0.9zM152.4 374.8h0.9v0.9h-0.9zM142.7 364.5h0.9v0.9h-0.9zM139.9 372.9h0.9v0.9h-0.9zM137.4 381.6h0.9v0.9h-0.9zM147.6 358.3h0.9v0.9h-0.9zM140.0 343.4h0.9v0.9h-0.9zM132.9 355.3h0.9v0.9h-0.9zM163.8 356.8h0.9v0.9h-0.9zM148.9 362.8h0.9v0.9h-0.9zM137.1 365.8h0.9v0.9h-0.9zM120.6 365.5h0.9v0.9h-0.9zM158.8 367.2h0.9v0.9h-0.9zM139.4 361.5h0.9v0.9h-0.9zM146.4 356.4h0.9v0.9h-0.9zM141.2 365.5h0.9v0.9h-0.9zM136.6 363.3h0.9v0.9h-0.9zM143.2 368.1h0.9v0.9h-0.9zM130.4 352.4h0.9v0.9h-0.9zM135.9 371.5h0.9v0.9h-0.9zM142.4 343.4h0.9v0.9h-0.9zM127.6 377.3h0.9v0.9h-0.9zM143.3 347.3h0.9v0.9h-0.9zM131.2 359.5h0.9v0.9h-0.9zM153.9 379.8h0.9v0.9h-0.9zM136.5 356.1h0.9v0.9h-0.9zM158.6 353.9h0.9v0.9h-0.9zM155.2 366.8h0.9v0.9h-0.9zM140.9 373.5h0.9v0.9h-0.9zM144.7 352.4h0.9v0.9h-0.9zM125.2 356.9h0.9v0.9h-0.9zM145.0 375.2h0.9v0.9h-0.9zM114.6 368.3h0.9v0.9h-0.9zM146.0 377.0h0.9v0.9h-0.9zM147.7 363.9h0.9v0.9h-0.9zM144.2 365.0h0.9v0.9h-0.9zM133.9 357.5h0.9v0.9h-0.9zM141.2 355.6h0.9v0.9h-0.9zM125.8 341.9h0.9v0.9h-0.9zM144.9 366.5h0.9v0.9h-0.9zM141.1 348.1h0.9v0.9h-0.9zM148.3 357.8h0.9v0.9h-0.9zM119.9 371.8h0.9v0.9h-0.9zM125.5 380.1h0.9v0.9h-0.9zM145.2 356.6h0.9v0.9h-0.9zM117.2 347.7h0.9v0.9h-0.9zM154.4 377.3h0.9v0.9h-0.9zM142.5 342.8h0.9v0.9h-0.9zM136.3 356.3h0.9v0.9h-0.9zM144.5 359.7h0.9v0.9h-0.9zM143.4 343.8h0.9v0.9h-0.9zM133.8 373.6h0.9v0.9h-0.9zM125.9 366.5h0.9v0.9h-0.9zM162.4 371.7h0.9v0.9h-0.9zM126.5 369.9h0.9v0.9h-0.9zM122.0 359.5h0.9v0.9h-0.9zM136.0 372.0h0.9v0.9h-0.9zM151.4 364.5h0.9v0.9h-0.9zM157.4 374.0h0.9v0.9h-0.9zM135.4 348.8h0.9v0.9h-0.9zM163.9 361.1h0.9v0.9h-0.9zM144.0 359.7h0.9v0.9h-0.9zM135.4 342.3h0.9v0.9h-0.9z" fill="#8484f4"/>
<path d="M138.5 360.5h0.9v0.9h-0.9zM158.2 355.1h0.9v0.9h-0.9zM113.7 347.5h0.9v0.9h-0.9zM140.3 365.4h0.9v0.9h-0.9zM153.7 356.9h0.9v0.9h-0.9zM150.4 363.9h0.9v0.9h-0.9zM170.5 361.3h0.9v0.9h-0.9zM143.5 369.6h0.9v0.9h-0.9zM162.3 349.6h0.9v0.9h-0.9zM132.7 358.3h0.9v0.9h-0.9zM159.8 362.3h0.9v0.9h-0.9zM156.8 342.9h0.9v0.9h-0.9zM167.8 367.7h0.9v0.9h-0.9zM120.1 362.7h0.9v0.9h-0.9zM154.2 375.3h0.9v0.9h-0.9zM144.1 355.0h0.9v0.9h-0.9zM154.4 351.7h0.9v0.9h-0.9zM139.7 372.3h0.9v0.9h-0.9zM115.8 367.1h0.9v0.9h-0.9zM106.8 349.5h0.9v0.9h-0.9zM119.5 360.8h0.9v0.9h-0.9zM153.5 361.3h0.9v0.9h-0.9zM157.0 363.3h0.9v0.9h-0.9zM137.4 368.6h0.9v0.9h-0.9zM136.8 363.8h0.9v0.9h-0.9zM159.2 354.3h0.9v0.9h-0.9zM161.1 347.1h0.9v0.9h-0.9zM137.2 338.6h0.9v0.9h-0.9zM131.7 383.4h0.9v0.9h-0.9zM147.2 379.1h0.9v0.9h-0.9zM115.3 348.4h0.9v0.9h-0.9zM149.2 373.2h0.9v0.9h-0.9zM155.6 339.4h0.9v0.9h-0.9zM149.9 361.0h0.9v0.9h-0.9zM143.1 368.4h0.9v0.9h-0.9zM136.1 339.2h0.9v0.9h-0.9zM122.3 342.5h0.9v0.9h-0.9zM118.0 360.2h0.9v0.9h-0.9zM163.9 352.4h0.9v0.9h-0.9zM127.6 346.5h0.9v0.9h-0.9zM110.8 362.9h0.9v0.9h-0.9zM132.5 358.8h0.9v0.9h-0.9z" fill="#c0c0f8"/>
<ellipse cx="143.5" cy="359" rx="9.5" ry="7.8" fill="#0000e0" opacity="1.0" filter="url(#b2)"/>
<ellipse cx="135" cy="351" rx="4" ry="3.5" fill="#1a1ae0" opacity="0.55" filter="url(#b2)"/>
</g>
<line x1="123.40" y1="312.80" x2="123.40" y2="385.80" stroke="#333" stroke-width="1.2"/>
<line x1="103.40" y1="346.60" x2="175.70" y2="346.60" stroke="#333" stroke-width="1.2"/>
<line x1="103.40" y1="312.30" x2="103.40" y2="386.50" stroke="#111" stroke-width="1.6"/>
<line x1="102.70" y1="385.80" x2="176.00" y2="385.80" stroke="#111" stroke-width="1.6"/>
<line x1="101.20" y1="385.80" x2="103.40" y2="385.80" stroke="#111" stroke-width="1.0"/>
<line x1="103.40" y1="385.80" x2="103.40" y2="388.00" stroke="#111" stroke-width="1.0"/>
<line x1="102.20" y1="380.31" x2="103.40" y2="380.31" stroke="#333" stroke-width="0.6"/>
<line x1="108.84" y1="385.80" x2="108.84" y2="387.00" stroke="#333" stroke-width="0.6"/>
<line x1="102.20" y1="377.09" x2="103.40" y2="377.09" stroke="#333" stroke-width="0.6"/>
<line x1="112.02" y1="385.80" x2="112.02" y2="387.00" stroke="#333" stroke-width="0.6"/>
<line x1="102.20" y1="374.81" x2="103.40" y2="374.81" stroke="#333" stroke-width="0.6"/>
<line x1="114.28" y1="385.80" x2="114.28" y2="387.00" stroke="#333" stroke-width="0.6"/>
<line x1="102.20" y1="373.04" x2="103.40" y2="373.04" stroke="#333" stroke-width="0.6"/>
<line x1="116.03" y1="385.80" x2="116.03" y2="387.00" stroke="#333" stroke-width="0.6"/>
<line x1="102.20" y1="371.60" x2="103.40" y2="371.60" stroke="#333" stroke-width="0.6"/>
<line x1="117.47" y1="385.80" x2="117.47" y2="387.00" stroke="#333" stroke-width="0.6"/>
<line x1="102.20" y1="370.38" x2="103.40" y2="370.38" stroke="#333" stroke-width="0.6"/>
<line x1="118.68" y1="385.80" x2="118.68" y2="387.00" stroke="#333" stroke-width="0.6"/>
<line x1="102.20" y1="369.32" x2="103.40" y2="369.32" stroke="#333" stroke-width="0.6"/>
<line x1="119.72" y1="385.80" x2="119.72" y2="387.00" stroke="#333" stroke-width="0.6"/>
<line x1="102.20" y1="368.39" x2="103.40" y2="368.39" stroke="#333" stroke-width="0.6"/>
<line x1="120.65" y1="385.80" x2="120.65" y2="387.00" stroke="#333" stroke-width="0.6"/>
<line x1="101.20" y1="367.55" x2="103.40" y2="367.55" stroke="#111" stroke-width="1.0"/>
<line x1="121.47" y1="385.80" x2="121.47" y2="388.00" stroke="#111" stroke-width="1.0"/>
<line x1="102.20" y1="362.06" x2="103.40" y2="362.06" stroke="#333" stroke-width="0.6"/>
<line x1="126.92" y1="385.80" x2="126.92" y2="387.00" stroke="#333" stroke-width="0.6"/>
<line x1="102.20" y1="358.84" x2="103.40" y2="358.84" stroke="#333" stroke-width="0.6"/>
<line x1="130.10" y1="385.80" x2="130.10" y2="387.00" stroke="#333" stroke-width="0.6"/>
<line x1="102.20" y1="356.56" x2="103.40" y2="356.56" stroke="#333" stroke-width="0.6"/>
<line x1="132.36" y1="385.80" x2="132.36" y2="387.00" stroke="#333" stroke-width="0.6"/>
<line x1="102.20" y1="354.79" x2="103.40" y2="354.79" stroke="#333" stroke-width="0.6"/>
<line x1="134.11" y1="385.80" x2="134.11" y2="387.00" stroke="#333" stroke-width="0.6"/>
<line x1="102.20" y1="353.35" x2="103.40" y2="353.35" stroke="#333" stroke-width="0.6"/>
<line x1="135.54" y1="385.80" x2="135.54" y2="387.00" stroke="#333" stroke-width="0.6"/>
<line x1="102.20" y1="352.13" x2="103.40" y2="352.13" stroke="#333" stroke-width="0.6"/>
<line x1="136.75" y1="385.80" x2="136.75" y2="387.00" stroke="#333" stroke-width="0.6"/>
<line x1="102.20" y1="351.07" x2="103.40" y2="351.07" stroke="#333" stroke-width="0.6"/>
<line x1="137.80" y1="385.80" x2="137.80" y2="387.00" stroke="#333" stroke-width="0.6"/>
<line x1="102.20" y1="350.14" x2="103.40" y2="350.14" stroke="#333" stroke-width="0.6"/>
<line x1="138.72" y1="385.80" x2="138.72" y2="387.00" stroke="#333" stroke-width="0.6"/>
<line x1="101.20" y1="349.30" x2="103.40" y2="349.30" stroke="#111" stroke-width="1.0"/>
<line x1="139.55" y1="385.80" x2="139.55" y2="388.00" stroke="#111" stroke-width="1.0"/>
<line x1="102.20" y1="343.81" x2="103.40" y2="343.81" stroke="#333" stroke-width="0.6"/>
<line x1="144.99" y1="385.80" x2="144.99" y2="387.00" stroke="#333" stroke-width="0.6"/>
<line x1="102.20" y1="340.59" x2="103.40" y2="340.59" stroke="#333" stroke-width="0.6"/>
<line x1="148.17" y1="385.80" x2="148.17" y2="387.00" stroke="#333" stroke-width="0.6"/>
<line x1="102.20" y1="338.31" x2="103.40" y2="338.31" stroke="#333" stroke-width="0.6"/>
<line x1="150.43" y1="385.80" x2="150.43" y2="387.00" stroke="#333" stroke-width="0.6"/>
<line x1="102.20" y1="336.54" x2="103.40" y2="336.54" stroke="#333" stroke-width="0.6"/>
<line x1="152.18" y1="385.80" x2="152.18" y2="387.00" stroke="#333" stroke-width="0.6"/>
<line x1="102.20" y1="335.10" x2="103.40" y2="335.10" stroke="#333" stroke-width="0.6"/>
<line x1="153.62" y1="385.80" x2="153.62" y2="387.00" stroke="#333" stroke-width="0.6"/>
<line x1="102.20" y1="333.88" x2="103.40" y2="333.88" stroke="#333" stroke-width="0.6"/>
<line x1="154.83" y1="385.80" x2="154.83" y2="387.00" stroke="#333" stroke-width="0.6"/>
<line x1="102.20" y1="332.82" x2="103.40" y2="332.82" stroke="#333" stroke-width="0.6"/>
<line x1="155.87" y1="385.80" x2="155.87" y2="387.00" stroke="#333" stroke-width="0.6"/>
<line x1="102.20" y1="331.89" x2="103.40" y2="331.89" stroke="#333" stroke-width="0.6"/>
<line x1="156.80" y1="385.80" x2="156.80" y2="387.00" stroke="#333" stroke-width="0.6"/>
<line x1="101.20" y1="331.05" x2="103.40" y2="331.05" stroke="#111" stroke-width="1.0"/>
<line x1="157.62" y1="385.80" x2="157.62" y2="388.00" stroke="#111" stroke-width="1.0"/>
<line x1="102.20" y1="325.56" x2="103.40" y2="325.56" stroke="#333" stroke-width="0.6"/>
<line x1="163.07" y1="385.80" x2="163.07" y2="387.00" stroke="#333" stroke-width="0.6"/>
<line x1="102.20" y1="322.34" x2="103.40" y2="322.34" stroke="#333" stroke-width="0.6"/>
<line x1="166.25" y1="385.80" x2="166.25" y2="387.00" stroke="#333" stroke-width="0.6"/>
<line x1="102.20" y1="320.06" x2="103.40" y2="320.06" stroke="#333" stroke-width="0.6"/>
<line x1="168.51" y1="385.80" x2="168.51" y2="387.00" stroke="#333" stroke-width="0.6"/>
<line x1="102.20" y1="318.29" x2="103.40" y2="318.29" stroke="#333" stroke-width="0.6"/>
<line x1="170.26" y1="385.80" x2="170.26" y2="387.00" stroke="#333" stroke-width="0.6"/>
<line x1="102.20" y1="316.85" x2="103.40" y2="316.85" stroke="#333" stroke-width="0.6"/>
<line x1="171.69" y1="385.80" x2="171.69" y2="387.00" stroke="#333" stroke-width="0.6"/>
<line x1="102.20" y1="315.63" x2="103.40" y2="315.63" stroke="#333" stroke-width="0.6"/>
<line x1="172.90" y1="385.80" x2="172.90" y2="387.00" stroke="#333" stroke-width="0.6"/>
<line x1="102.20" y1="314.57" x2="103.40" y2="314.57" stroke="#333" stroke-width="0.6"/>
<line x1="173.95" y1="385.80" x2="173.95" y2="387.00" stroke="#333" stroke-width="0.6"/>
<line x1="102.20" y1="313.64" x2="103.40" y2="313.64" stroke="#333" stroke-width="0.6"/>
<line x1="174.87" y1="385.80" x2="174.87" y2="387.00" stroke="#333" stroke-width="0.6"/>
<line x1="101.20" y1="312.80" x2="103.40" y2="312.80" stroke="#111" stroke-width="1.0"/>
<line x1="175.70" y1="385.80" x2="175.70" y2="388.00" stroke="#111" stroke-width="1.0"/>
<text x="105.40" y="322.00" font-size="7.5" font-weight="normal" text-anchor="start" fill="#1a1a1a" textLength="21.10" lengthAdjust="spacingAndGlyphs" >1.34%</text>
<text x="152.00" y="322.00" font-size="7.5" font-weight="normal" text-anchor="start" fill="#1a1a1a" textLength="21.50" lengthAdjust="spacingAndGlyphs" >3.67%</text>
<text x="104.60" y="378.50" font-size="7.5" font-weight="normal" text-anchor="start" fill="#1a1a1a" textLength="21.90" lengthAdjust="spacingAndGlyphs" >5.73%</text>
<text x="152.00" y="378.50" font-size="7.5" font-weight="normal" text-anchor="start" fill="#1a1a1a" textLength="23.70" lengthAdjust="spacingAndGlyphs" >89.26%</text>
<text x="98.00" y="391.60" font-size="6.4" font-weight="normal" text-anchor="end" fill="#2a2a2a" >10</text>
<text x="100.00" y="386.80" font-size="5.0" font-weight="normal" text-anchor="middle" fill="#2a2a2a" >0</text>
<text x="101.40" y="399.00" font-size="6.4" font-weight="normal" text-anchor="middle" fill="#2a2a2a" >10</text>
<text x="106.20" y="394.10" font-size="5.0" font-weight="normal" text-anchor="middle" fill="#2a2a2a" >0</text>
<text x="98.00" y="373.35" font-size="6.4" font-weight="normal" text-anchor="end" fill="#2a2a2a" >10</text>
<text x="100.00" y="368.55" font-size="5.0" font-weight="normal" text-anchor="middle" fill="#2a2a2a" >1</text>
<text x="119.47" y="399.00" font-size="6.4" font-weight="normal" text-anchor="middle" fill="#2a2a2a" >10</text>
<text x="124.27" y="394.10" font-size="5.0" font-weight="normal" text-anchor="middle" fill="#2a2a2a" >1</text>
<text x="98.00" y="355.10" font-size="6.4" font-weight="normal" text-anchor="end" fill="#2a2a2a" >10</text>
<text x="100.00" y="350.30" font-size="5.0" font-weight="normal" text-anchor="middle" fill="#2a2a2a" >2</text>
<text x="137.55" y="399.00" font-size="6.4" font-weight="normal" text-anchor="middle" fill="#2a2a2a" >10</text>
<text x="142.35" y="394.10" font-size="5.0" font-weight="normal" text-anchor="middle" fill="#2a2a2a" >2</text>
<text x="98.00" y="336.85" font-size="6.4" font-weight="normal" text-anchor="end" fill="#2a2a2a" >10</text>
<text x="100.00" y="332.05" font-size="5.0" font-weight="normal" text-anchor="middle" fill="#2a2a2a" >3</text>
<text x="155.62" y="399.00" font-size="6.4" font-weight="normal" text-anchor="middle" fill="#2a2a2a" >10</text>
<text x="160.43" y="394.10" font-size="5.0" font-weight="normal" text-anchor="middle" fill="#2a2a2a" >3</text>
<text x="98.00" y="318.60" font-size="6.4" font-weight="normal" text-anchor="end" fill="#2a2a2a" >10</text>
<text x="100.00" y="313.80" font-size="5.0" font-weight="normal" text-anchor="middle" fill="#2a2a2a" >4</text>
<text x="173.70" y="399.00" font-size="6.4" font-weight="normal" text-anchor="middle" fill="#2a2a2a" >10</text>
<text x="178.50" y="394.10" font-size="5.0" font-weight="normal" text-anchor="middle" fill="#2a2a2a" >4</text>
<text x="139.00" y="407.98" font-size="8.5" font-weight="normal" text-anchor="middle" fill="#1a1a1a" textLength="25.90" lengthAdjust="spacingAndGlyphs" >APC-A</text>
<text x="0" y="0" font-size="8.4" font-weight="normal" text-anchor="middle" fill="#1a1a1a" textLength="69.20" lengthAdjust="spacingAndGlyphs" transform="translate(85.64 348.40) rotate(-90)" >Alexa Fluor 488-A</text>
<rect x="248.80" y="312.30" width="73.10" height="73.90" fill="none" stroke="#b0b0b0" stroke-width="0.9"/>
<clipPath id="pc248312"><rect x="248.80" y="312.30" width="73.10" height="73.90"/></clipPath><g clip-path="url(#pc248312)">
<ellipse cx="266" cy="358" rx="15" ry="12" fill="#6a6af0" opacity="0.45" filter="url(#b3)"/>
<path d="M267.9 359.9h0.9v0.9h-0.9zM266.6 360.1h0.9v0.9h-0.9zM269.5 361.5h0.9v0.9h-0.9zM268.3 359.7h0.9v0.9h-0.9zM275.4 357.8h0.9v0.9h-0.9zM281.7 359.6h0.9v0.9h-0.9zM268.3 360.9h0.9v0.9h-0.9zM268.6 355.0h0.9v0.9h-0.9zM273.1 358.9h0.9v0.9h-0.9zM282.1 350.4h0.9v0.9h-0.9zM271.6 363.3h0.9v0.9h-0.9zM272.1 359.5h0.9v0.9h-0.9zM281.2 352.8h0.9v0.9h-0.9zM273.2 361.8h0.9v0.9h-0.9zM269.9 349.3h0.9v0.9h-0.9zM267.7 358.4h0.9v0.9h-0.9zM274.0 366.9h0.9v0.9h-0.9zM280.1 351.2h0.9v0.9h-0.9zM278.6 362.9h0.9v0.9h-0.9zM281.7 358.1h0.9v0.9h-0.9zM270.0 358.4h0.9v0.9h-0.9zM281.3 361.7h0.9v0.9h-0.9zM282.1 362.6h0.9v0.9h-0.9zM269.9 352.9h0.9v0.9h-0.9zM282.9 351.6h0.9v0.9h-0.9zM271.1 356.3h0.9v0.9h-0.9zM268.1 354.8h0.9v0.9h-0.9zM273.0 369.4h0.9v0.9h-0.9zM272.7 355.5h0.9v0.9h-0.9zM273.7 362.6h0.9v0.9h-0.9zM268.6 355.7h0.9v0.9h-0.9zM263.6 360.5h0.9v0.9h-0.9zM276.6 365.6h0.9v0.9h-0.9zM266.6 367.9h0.9v0.9h-0.9zM277.7 357.1h0.9v0.9h-0.9zM270.9 356.3h0.9v0.9h-0.9zM266.5 361.1h0.9v0.9h-0.9zM269.7 354.2h0.9v0.9h-0.9zM275.8 358.8h0.9v0.9h-0.9zM269.9 356.6h0.9v0.9h-0.9zM270.4 364.2h0.9v0.9h-0.9zM278.4 355.0h0.9v0.9h-0.9zM272.8 364.6h0.9v0.9h-0.9zM271.5 366.4h0.9v0.9h-0.9zM275.4 361.4h0.9v0.9h-0.9zM261.9 361.1h0.9v0.9h-0.9zM274.8 361.0h0.9v0.9h-0.9zM275.6 360.8h0.9v0.9h-0.9zM270.3 362.1h0.9v0.9h-0.9zM273.3 353.0h0.9v0.9h-0.9zM267.5 358.3h0.9v0.9h-0.9zM274.8 347.5h0.9v0.9h-0.9zM261.9 362.1h0.9v0.9h-0.9zM272.9 371.7h0.9v0.9h-0.9zM264.8 356.1h0.9v0.9h-0.9zM269.8 360.4h0.9v0.9h-0.9zM280.6 366.5h0.9v0.9h-0.9zM267.6 363.5h0.9v0.9h-0.9zM266.5 358.9h0.9v0.9h-0.9zM273.9 361.1h0.9v0.9h-0.9zM268.7 364.1h0.9v0.9h-0.9zM272.6 357.9h0.9v0.9h-0.9zM271.6 352.7h0.9v0.9h-0.9zM276.9 360.0h0.9v0.9h-0.9zM275.4 367.2h0.9v0.9h-0.9zM268.3 356.2h0.9v0.9h-0.9zM273.0 362.1h0.9v0.9h-0.9zM272.0 362.4h0.9v0.9h-0.9zM275.5 349.7h0.9v0.9h-0.9zM269.3 347.9h0.9v0.9h-0.9zM271.5 355.9h0.9v0.9h-0.9zM276.2 359.1h0.9v0.9h-0.9zM272.7 364.1h0.9v0.9h-0.9zM276.2 352.4h0.9v0.9h-0.9zM269.3 359.2h0.9v0.9h-0.9zM282.1 357.9h0.9v0.9h-0.9zM272.1 359.2h0.9v0.9h-0.9zM277.2 357.9h0.9v0.9h-0.9zM274.6 356.1h0.9v0.9h-0.9zM270.0 353.9h0.9v0.9h-0.9zM276.5 355.6h0.9v0.9h-0.9zM276.0 360.2h0.9v0.9h-0.9zM278.2 345.5h0.9v0.9h-0.9zM267.8 351.6h0.9v0.9h-0.9zM272.1 361.8h0.9v0.9h-0.9zM286.6 366.7h0.9v0.9h-0.9zM280.3 360.5h0.9v0.9h-0.9zM270.9 360.4h0.9v0.9h-0.9zM261.3 361.4h0.9v0.9h-0.9zM273.0 361.0h0.9v0.9h-0.9zM267.5 352.2h0.9v0.9h-0.9zM269.5 357.5h0.9v0.9h-0.9zM274.9 356.5h0.9v0.9h-0.9zM274.9 361.5h0.9v0.9h-0.9zM266.8 356.9h0.9v0.9h-0.9zM264.6 354.6h0.9v0.9h-0.9zM277.9 355.0h0.9v0.9h-0.9zM283.0 361.4h0.9v0.9h-0.9zM277.8 358.9h0.9v0.9h-0.9zM277.6 363.7h0.9v0.9h-0.9zM273.6 355.5h0.9v0.9h-0.9zM270.0 367.1h0.9v0.9h-0.9zM272.0 355.7h0.9v0.9h-0.9zM269.2 349.5h0.9v0.9h-0.9zM270.3 359.3h0.9v0.9h-0.9zM270.4 354.1h0.9v0.9h-0.9zM275.2 360.4h0.9v0.9h-0.9zM270.7 359.3h0.9v0.9h-0.9zM267.8 361.7h0.9v0.9h-0.9zM267.7 355.9h0.9v0.9h-0.9zM273.7 356.0h0.9v0.9h-0.9zM266.8 367.6h0.9v0.9h-0.9zM281.2 350.3h0.9v0.9h-0.9zM273.7 351.9h0.9v0.9h-0.9zM274.7 351.8h0.9v0.9h-0.9zM276.1 360.9h0.9v0.9h-0.9zM282.2 364.7h0.9v0.9h-0.9zM270.5 362.4h0.9v0.9h-0.9zM270.5 357.2h0.9v0.9h-0.9zM270.3 349.2h0.9v0.9h-0.9zM276.2 348.5h0.9v0.9h-0.9zM271.7 360.4h0.9v0.9h-0.9zM273.6 350.4h0.9v0.9h-0.9zM269.5 361.0h0.9v0.9h-0.9zM278.9 366.3h0.9v0.9h-0.9zM263.2 359.3h0.9v0.9h-0.9zM270.4 361.5h0.9v0.9h-0.9zM263.9 356.5h0.9v0.9h-0.9zM276.8 355.2h0.9v0.9h-0.9zM271.1 353.1h0.9v0.9h-0.9zM279.0 352.1h0.9v0.9h-0.9zM268.1 355.9h0.9v0.9h-0.9zM271.3 368.1h0.9v0.9h-0.9zM274.5 354.1h0.9v0.9h-0.9zM276.1 359.9h0.9v0.9h-0.9zM274.5 357.8h0.9v0.9h-0.9zM275.5 352.6h0.9v0.9h-0.9zM266.5 355.4h0.9v0.9h-0.9zM267.1 360.9h0.9v0.9h-0.9zM283.4 364.9h0.9v0.9h-0.9zM275.4 359.9h0.9v0.9h-0.9zM269.3 351.4h0.9v0.9h-0.9zM275.9 351.1h0.9v0.9h-0.9zM274.6 357.5h0.9v0.9h-0.9zM277.0 358.6h0.9v0.9h-0.9zM273.6 355.2h0.9v0.9h-0.9zM263.7 355.5h0.9v0.9h-0.9zM276.7 363.4h0.9v0.9h-0.9zM280.4 353.9h0.9v0.9h-0.9zM268.0 360.9h0.9v0.9h-0.9zM270.6 370.2h0.9v0.9h-0.9zM274.7 350.8h0.9v0.9h-0.9zM270.0 365.3h0.9v0.9h-0.9zM263.2 357.8h0.9v0.9h-0.9zM265.5 365.1h0.9v0.9h-0.9zM270.6 352.8h0.9v0.9h-0.9zM263.8 353.7h0.9v0.9h-0.9zM259.3 354.5h0.9v0.9h-0.9zM284.7 359.5h0.9v0.9h-0.9zM271.6 352.2h0.9v0.9h-0.9zM274.8 355.9h0.9v0.9h-0.9zM268.4 364.3h0.9v0.9h-0.9zM275.4 353.9h0.9v0.9h-0.9zM280.9 358.5h0.9v0.9h-0.9zM275.7 359.0h0.9v0.9h-0.9zM279.3 361.6h0.9v0.9h-0.9zM271.1 361.3h0.9v0.9h-0.9zM270.9 358.5h0.9v0.9h-0.9zM281.8 353.7h0.9v0.9h-0.9zM267.4 355.6h0.9v0.9h-0.9zM270.3 364.1h0.9v0.9h-0.9zM264.4 368.3h0.9v0.9h-0.9zM281.5 356.6h0.9v0.9h-0.9zM274.0 356.3h0.9v0.9h-0.9zM276.6 361.5h0.9v0.9h-0.9zM277.0 362.1h0.9v0.9h-0.9zM283.4 358.1h0.9v0.9h-0.9zM276.8 357.4h0.9v0.9h-0.9zM273.2 359.1h0.9v0.9h-0.9zM272.7 359.7h0.9v0.9h-0.9zM268.4 356.8h0.9v0.9h-0.9zM269.7 352.0h0.9v0.9h-0.9zM269.2 355.2h0.9v0.9h-0.9zM272.2 350.4h0.9v0.9h-0.9zM271.6 352.4h0.9v0.9h-0.9zM268.6 358.5h0.9v0.9h-0.9zM279.0 359.9h0.9v0.9h-0.9zM270.4 355.6h0.9v0.9h-0.9zM280.2 350.8h0.9v0.9h-0.9zM279.1 351.3h0.9v0.9h-0.9zM269.6 357.9h0.9v0.9h-0.9zM271.8 366.0h0.9v0.9h-0.9zM275.7 358.0h0.9v0.9h-0.9zM278.1 358.6h0.9v0.9h-0.9zM268.7 363.1h0.9v0.9h-0.9zM281.1 365.0h0.9v0.9h-0.9zM266.7 366.7h0.9v0.9h-0.9zM270.8 361.5h0.9v0.9h-0.9zM279.4 370.1h0.9v0.9h-0.9zM264.3 352.3h0.9v0.9h-0.9zM279.3 361.0h0.9v0.9h-0.9zM271.3 343.6h0.9v0.9h-0.9zM275.4 357.3h0.9v0.9h-0.9zM258.9 369.7h0.9v0.9h-0.9zM259.5 354.1h0.9v0.9h-0.9zM273.0 359.1h0.9v0.9h-0.9zM277.1 357.1h0.9v0.9h-0.9zM268.2 355.8h0.9v0.9h-0.9zM261.7 351.5h0.9v0.9h-0.9zM283.6 355.6h0.9v0.9h-0.9zM272.6 367.2h0.9v0.9h-0.9zM278.7 359.1h0.9v0.9h-0.9zM277.0 357.0h0.9v0.9h-0.9zM268.1 362.4h0.9v0.9h-0.9zM273.7 365.8h0.9v0.9h-0.9zM271.6 356.1h0.9v0.9h-0.9zM274.9 357.2h0.9v0.9h-0.9zM271.3 353.5h0.9v0.9h-0.9zM274.4 359.7h0.9v0.9h-0.9zM282.9 358.8h0.9v0.9h-0.9zM263.5 359.4h0.9v0.9h-0.9zM285.3 357.0h0.9v0.9h-0.9zM268.7 356.8h0.9v0.9h-0.9zM257.6 355.0h0.9v0.9h-0.9zM272.0 350.6h0.9v0.9h-0.9zM276.1 354.0h0.9v0.9h-0.9zM263.0 353.6h0.9v0.9h-0.9zM276.4 367.7h0.9v0.9h-0.9zM279.7 359.6h0.9v0.9h-0.9zM270.2 356.5h0.9v0.9h-0.9zM278.2 356.0h0.9v0.9h-0.9zM275.2 362.9h0.9v0.9h-0.9zM268.1 354.7h0.9v0.9h-0.9zM275.4 358.3h0.9v0.9h-0.9zM272.3 355.4h0.9v0.9h-0.9zM272.7 367.0h0.9v0.9h-0.9zM280.3 350.8h0.9v0.9h-0.9zM273.3 358.5h0.9v0.9h-0.9zM273.2 351.3h0.9v0.9h-0.9zM272.3 358.7h0.9v0.9h-0.9zM269.3 359.2h0.9v0.9h-0.9zM259.9 349.5h0.9v0.9h-0.9zM273.5 360.0h0.9v0.9h-0.9zM272.1 355.7h0.9v0.9h-0.9zM274.0 363.4h0.9v0.9h-0.9zM277.9 358.1h0.9v0.9h-0.9zM270.5 362.9h0.9v0.9h-0.9zM275.9 362.6h0.9v0.9h-0.9zM271.5 353.7h0.9v0.9h-0.9zM274.0 355.0h0.9v0.9h-0.9zM279.2 362.7h0.9v0.9h-0.9zM261.2 360.2h0.9v0.9h-0.9zM280.2 363.7h0.9v0.9h-0.9zM270.4 353.6h0.9v0.9h-0.9zM278.2 363.4h0.9v0.9h-0.9zM273.3 352.4h0.9v0.9h-0.9zM264.8 358.6h0.9v0.9h-0.9zM268.5 354.3h0.9v0.9h-0.9zM275.4 363.3h0.9v0.9h-0.9zM261.9 353.7h0.9v0.9h-0.9zM280.0 358.4h0.9v0.9h-0.9zM271.2 360.9h0.9v0.9h-0.9zM266.9 351.5h0.9v0.9h-0.9zM273.1 365.6h0.9v0.9h-0.9zM278.5 358.5h0.9v0.9h-0.9zM278.5 356.5h0.9v0.9h-0.9zM266.6 349.3h0.9v0.9h-0.9zM274.5 362.5h0.9v0.9h-0.9zM275.0 358.0h0.9v0.9h-0.9zM270.8 363.1h0.9v0.9h-0.9zM272.7 351.0h0.9v0.9h-0.9zM280.4 355.5h0.9v0.9h-0.9zM275.1 358.2h0.9v0.9h-0.9zM278.7 359.7h0.9v0.9h-0.9zM279.6 359.6h0.9v0.9h-0.9zM270.5 355.3h0.9v0.9h-0.9zM276.5 354.3h0.9v0.9h-0.9zM278.0 357.3h0.9v0.9h-0.9zM268.0 353.3h0.9v0.9h-0.9zM272.2 366.6h0.9v0.9h-0.9z" fill="#0a0ad8"/>
<path d="M271.9 358.1h0.9v0.9h-0.9zM257.9 369.0h0.9v0.9h-0.9zM263.2 357.3h0.9v0.9h-0.9zM262.0 365.7h0.9v0.9h-0.9zM267.0 354.7h0.9v0.9h-0.9zM267.0 351.3h0.9v0.9h-0.9zM256.7 355.8h0.9v0.9h-0.9zM282.1 351.7h0.9v0.9h-0.9zM264.3 347.4h0.9v0.9h-0.9zM266.9 359.0h0.9v0.9h-0.9zM271.7 349.5h0.9v0.9h-0.9zM260.5 353.0h0.9v0.9h-0.9zM263.4 371.8h0.9v0.9h-0.9zM263.8 357.1h0.9v0.9h-0.9zM261.3 362.2h0.9v0.9h-0.9zM286.9 366.5h0.9v0.9h-0.9zM278.3 351.7h0.9v0.9h-0.9zM274.3 358.4h0.9v0.9h-0.9zM275.9 365.0h0.9v0.9h-0.9zM271.0 347.3h0.9v0.9h-0.9zM266.6 354.4h0.9v0.9h-0.9zM269.2 358.0h0.9v0.9h-0.9zM274.3 348.0h0.9v0.9h-0.9zM259.3 356.5h0.9v0.9h-0.9zM268.2 355.1h0.9v0.9h-0.9zM265.3 357.8h0.9v0.9h-0.9zM274.3 357.4h0.9v0.9h-0.9zM267.5 346.1h0.9v0.9h-0.9zM268.5 343.1h0.9v0.9h-0.9zM268.9 357.2h0.9v0.9h-0.9zM265.5 352.9h0.9v0.9h-0.9zM262.0 362.5h0.9v0.9h-0.9zM268.5 357.6h0.9v0.9h-0.9zM261.4 358.5h0.9v0.9h-0.9zM275.5 358.1h0.9v0.9h-0.9zM262.4 349.8h0.9v0.9h-0.9zM266.3 351.7h0.9v0.9h-0.9zM253.5 362.1h0.9v0.9h-0.9zM260.3 344.2h0.9v0.9h-0.9zM259.5 368.7h0.9v0.9h-0.9zM264.6 349.0h0.9v0.9h-0.9zM256.3 361.4h0.9v0.9h-0.9zM268.9 359.1h0.9v0.9h-0.9zM263.9 360.4h0.9v0.9h-0.9zM278.4 361.6h0.9v0.9h-0.9zM264.1 348.5h0.9v0.9h-0.9zM269.2 367.7h0.9v0.9h-0.9zM270.9 349.9h0.9v0.9h-0.9zM267.0 365.9h0.9v0.9h-0.9zM260.2 360.2h0.9v0.9h-0.9zM275.6 368.7h0.9v0.9h-0.9zM252.2 345.4h0.9v0.9h-0.9zM268.6 362.2h0.9v0.9h-0.9zM262.5 357.1h0.9v0.9h-0.9zM262.1 364.9h0.9v0.9h-0.9zM254.8 352.4h0.9v0.9h-0.9zM252.7 350.7h0.9v0.9h-0.9zM265.3 357.7h0.9v0.9h-0.9zM280.5 357.2h0.9v0.9h-0.9zM268.4 360.0h0.9v0.9h-0.9zM267.7 367.0h0.9v0.9h-0.9zM266.7 358.5h0.9v0.9h-0.9zM264.6 357.5h0.9v0.9h-0.9zM265.0 363.8h0.9v0.9h-0.9zM265.7 357.9h0.9v0.9h-0.9zM265.1 362.3h0.9v0.9h-0.9zM261.5 363.2h0.9v0.9h-0.9zM260.7 361.5h0.9v0.9h-0.9zM281.6 360.2h0.9v0.9h-0.9zM264.8 349.9h0.9v0.9h-0.9zM271.7 358.1h0.9v0.9h-0.9zM273.1 353.9h0.9v0.9h-0.9zM269.9 369.3h0.9v0.9h-0.9zM268.9 355.7h0.9v0.9h-0.9zM254.6 356.6h0.9v0.9h-0.9zM271.0 361.7h0.9v0.9h-0.9zM256.1 350.2h0.9v0.9h-0.9zM257.3 350.4h0.9v0.9h-0.9zM263.2 359.0h0.9v0.9h-0.9zM281.6 360.0h0.9v0.9h-0.9zM277.7 347.9h0.9v0.9h-0.9zM278.4 363.6h0.9v0.9h-0.9zM269.2 363.0h0.9v0.9h-0.9zM270.7 370.1h0.9v0.9h-0.9zM272.3 346.9h0.9v0.9h-0.9zM250.8 366.7h0.9v0.9h-0.9zM264.8 365.9h0.9v0.9h-0.9zM262.6 353.1h0.9v0.9h-0.9zM262.6 359.3h0.9v0.9h-0.9zM267.1 353.7h0.9v0.9h-0.9zM270.0 361.8h0.9v0.9h-0.9zM257.8 349.8h0.9v0.9h-0.9zM265.6 353.1h0.9v0.9h-0.9zM260.4 356.3h0.9v0.9h-0.9zM265.7 361.2h0.9v0.9h-0.9zM272.5 360.8h0.9v0.9h-0.9zM274.9 352.0h0.9v0.9h-0.9zM270.6 360.3h0.9v0.9h-0.9zM256.7 352.5h0.9v0.9h-0.9zM269.2 358.3h0.9v0.9h-0.9zM255.0 353.2h0.9v0.9h-0.9zM278.3 363.9h0.9v0.9h-0.9zM266.2 366.2h0.9v0.9h-0.9zM257.9 355.8h0.9v0.9h-0.9zM273.5 356.0h0.9v0.9h-0.9zM256.1 360.5h0.9v0.9h-0.9zM279.0 342.3h0.9v0.9h-0.9zM266.8 349.6h0.9v0.9h-0.9zM263.0 348.3h0.9v0.9h-0.9zM287.3 354.8h0.9v0.9h-0.9zM265.9 353.0h0.9v0.9h-0.9zM257.2 354.0h0.9v0.9h-0.9zM267.2 368.8h0.9v0.9h-0.9zM267.9 367.7h0.9v0.9h-0.9zM256.6 357.3h0.9v0.9h-0.9zM261.8 347.2h0.9v0.9h-0.9zM296.8 358.3h0.9v0.9h-0.9zM267.6 352.8h0.9v0.9h-0.9zM260.7 350.5h0.9v0.9h-0.9zM274.1 355.6h0.9v0.9h-0.9zM264.3 358.6h0.9v0.9h-0.9zM255.2 358.2h0.9v0.9h-0.9zM264.1 360.2h0.9v0.9h-0.9zM262.3 357.5h0.9v0.9h-0.9zM269.9 364.0h0.9v0.9h-0.9zM259.7 363.3h0.9v0.9h-0.9zM257.2 355.7h0.9v0.9h-0.9zM266.6 358.5h0.9v0.9h-0.9zM264.0 363.3h0.9v0.9h-0.9zM259.6 366.7h0.9v0.9h-0.9zM250.4 356.8h0.9v0.9h-0.9zM270.0 358.0h0.9v0.9h-0.9zM267.7 363.6h0.9v0.9h-0.9zM258.7 360.8h0.9v0.9h-0.9zM274.4 356.7h0.9v0.9h-0.9zM258.3 350.2h0.9v0.9h-0.9zM269.1 352.6h0.9v0.9h-0.9zM286.3 362.7h0.9v0.9h-0.9zM254.5 354.8h0.9v0.9h-0.9zM278.3 362.8h0.9v0.9h-0.9zM256.9 363.5h0.9v0.9h-0.9zM261.5 371.3h0.9v0.9h-0.9zM260.9 361.0h0.9v0.9h-0.9zM270.2 355.0h0.9v0.9h-0.9zM264.2 364.8h0.9v0.9h-0.9zM269.7 357.4h0.9v0.9h-0.9zM269.2 369.0h0.9v0.9h-0.9zM273.3 361.1h0.9v0.9h-0.9zM268.3 347.7h0.9v0.9h-0.9zM266.6 354.5h0.9v0.9h-0.9zM271.7 354.1h0.9v0.9h-0.9zM269.3 351.1h0.9v0.9h-0.9zM273.0 353.4h0.9v0.9h-0.9zM265.3 361.2h0.9v0.9h-0.9zM262.8 357.3h0.9v0.9h-0.9zM274.4 369.5h0.9v0.9h-0.9zM250.3 350.6h0.9v0.9h-0.9zM271.2 363.9h0.9v0.9h-0.9zM261.5 357.8h0.9v0.9h-0.9zM263.9 371.9h0.9v0.9h-0.9zM263.8 349.8h0.9v0.9h-0.9zM252.5 348.3h0.9v0.9h-0.9zM276.4 355.9h0.9v0.9h-0.9zM281.9 362.8h0.9v0.9h-0.9zM268.7 361.9h0.9v0.9h-0.9zM272.1 363.9h0.9v0.9h-0.9zM257.3 353.3h0.9v0.9h-0.9zM260.9 357.8h0.9v0.9h-0.9zM263.4 349.5h0.9v0.9h-0.9zM259.7 368.5h0.9v0.9h-0.9zM283.3 353.4h0.9v0.9h-0.9zM268.7 357.5h0.9v0.9h-0.9zM258.4 361.5h0.9v0.9h-0.9zM264.9 368.1h0.9v0.9h-0.9zM269.3 355.8h0.9v0.9h-0.9zM272.6 353.5h0.9v0.9h-0.9zM272.9 362.4h0.9v0.9h-0.9zM250.7 355.1h0.9v0.9h-0.9zM268.2 362.5h0.9v0.9h-0.9zM266.8 357.5h0.9v0.9h-0.9zM262.6 355.4h0.9v0.9h-0.9zM265.5 350.7h0.9v0.9h-0.9zM270.9 355.8h0.9v0.9h-0.9zM269.9 354.6h0.9v0.9h-0.9zM268.9 358.6h0.9v0.9h-0.9zM273.0 361.0h0.9v0.9h-0.9zM273.3 357.0h0.9v0.9h-0.9zM265.0 355.8h0.9v0.9h-0.9zM255.0 355.9h0.9v0.9h-0.9zM274.6 363.1h0.9v0.9h-0.9zM258.4 358.9h0.9v0.9h-0.9zM271.8 349.3h0.9v0.9h-0.9zM268.4 359.8h0.9v0.9h-0.9zM271.8 359.6h0.9v0.9h-0.9zM250.9 343.5h0.9v0.9h-0.9zM282.2 356.3h0.9v0.9h-0.9zM276.2 366.4h0.9v0.9h-0.9zM266.2 350.3h0.9v0.9h-0.9zM277.0 358.1h0.9v0.9h-0.9zM269.9 360.9h0.9v0.9h-0.9zM273.5 364.6h0.9v0.9h-0.9zM253.6 347.6h0.9v0.9h-0.9zM266.7 357.6h0.9v0.9h-0.9zM272.0 357.1h0.9v0.9h-0.9zM264.0 370.3h0.9v0.9h-0.9zM277.0 365.8h0.9v0.9h-0.9zM274.2 353.1h0.9v0.9h-0.9zM264.8 357.0h0.9v0.9h-0.9zM256.3 351.3h0.9v0.9h-0.9zM266.9 349.9h0.9v0.9h-0.9zM270.1 360.9h0.9v0.9h-0.9zM263.5 355.2h0.9v0.9h-0.9zM270.6 360.9h0.9v0.9h-0.9zM268.6 349.9h0.9v0.9h-0.9zM251.9 369.5h0.9v0.9h-0.9zM260.0 354.8h0.9v0.9h-0.9zM250.2 351.2h0.9v0.9h-0.9zM259.3 362.1h0.9v0.9h-0.9zM262.0 354.1h0.9v0.9h-0.9zM259.0 354.2h0.9v0.9h-0.9zM252.3 358.2h0.9v0.9h-0.9zM275.5 359.2h0.9v0.9h-0.9zM261.0 365.2h0.9v0.9h-0.9zM269.6 351.3h0.9v0.9h-0.9zM260.7 353.2h0.9v0.9h-0.9zM265.1 365.2h0.9v0.9h-0.9zM259.6 356.1h0.9v0.9h-0.9zM266.4 350.0h0.9v0.9h-0.9zM261.5 361.1h0.9v0.9h-0.9zM275.0 346.3h0.9v0.9h-0.9zM271.4 356.1h0.9v0.9h-0.9zM276.3 362.3h0.9v0.9h-0.9zM282.0 360.7h0.9v0.9h-0.9zM262.2 352.0h0.9v0.9h-0.9zM253.5 360.1h0.9v0.9h-0.9zM269.8 363.0h0.9v0.9h-0.9zM268.4 348.2h0.9v0.9h-0.9zM262.1 355.7h0.9v0.9h-0.9zM266.8 362.5h0.9v0.9h-0.9zM277.4 360.2h0.9v0.9h-0.9zM255.4 358.2h0.9v0.9h-0.9zM263.6 364.4h0.9v0.9h-0.9zM274.6 355.3h0.9v0.9h-0.9zM273.4 358.2h0.9v0.9h-0.9zM269.3 366.4h0.9v0.9h-0.9zM255.9 356.3h0.9v0.9h-0.9zM278.4 353.6h0.9v0.9h-0.9zM267.3 358.5h0.9v0.9h-0.9zM262.0 348.9h0.9v0.9h-0.9zM259.7 350.8h0.9v0.9h-0.9zM274.6 359.8h0.9v0.9h-0.9zM271.4 350.4h0.9v0.9h-0.9zM269.7 358.7h0.9v0.9h-0.9zM274.3 353.6h0.9v0.9h-0.9zM272.3 366.7h0.9v0.9h-0.9zM280.6 352.8h0.9v0.9h-0.9zM256.1 347.5h0.9v0.9h-0.9zM273.6 361.9h0.9v0.9h-0.9zM268.4 352.2h0.9v0.9h-0.9zM276.0 368.5h0.9v0.9h-0.9zM265.2 356.7h0.9v0.9h-0.9zM275.5 361.5h0.9v0.9h-0.9zM276.8 355.8h0.9v0.9h-0.9zM268.4 355.6h0.9v0.9h-0.9zM260.7 355.3h0.9v0.9h-0.9zM263.1 360.5h0.9v0.9h-0.9zM263.0 357.8h0.9v0.9h-0.9zM258.7 349.2h0.9v0.9h-0.9zM277.5 352.2h0.9v0.9h-0.9zM280.7 364.6h0.9v0.9h-0.9zM262.0 357.4h0.9v0.9h-0.9zM264.0 353.6h0.9v0.9h-0.9zM276.0 357.5h0.9v0.9h-0.9zM273.6 353.8h0.9v0.9h-0.9zM259.7 365.5h0.9v0.9h-0.9zM263.1 350.4h0.9v0.9h-0.9zM264.1 364.1h0.9v0.9h-0.9zM264.2 352.9h0.9v0.9h-0.9zM270.9 364.1h0.9v0.9h-0.9zM263.8 355.4h0.9v0.9h-0.9zM262.4 374.4h0.9v0.9h-0.9zM263.9 368.4h0.9v0.9h-0.9zM264.3 360.0h0.9v0.9h-0.9zM266.0 355.5h0.9v0.9h-0.9zM262.1 348.6h0.9v0.9h-0.9zM253.0 357.6h0.9v0.9h-0.9zM260.1 356.5h0.9v0.9h-0.9zM264.0 354.2h0.9v0.9h-0.9zM259.4 368.8h0.9v0.9h-0.9zM256.3 353.6h0.9v0.9h-0.9zM263.0 350.0h0.9v0.9h-0.9zM257.5 362.3h0.9v0.9h-0.9zM273.3 358.9h0.9v0.9h-0.9zM292.7 364.8h0.9v0.9h-0.9zM275.9 353.1h0.9v0.9h-0.9zM274.6 368.9h0.9v0.9h-0.9zM262.3 368.7h0.9v0.9h-0.9zM258.8 349.8h0.9v0.9h-0.9zM265.1 352.4h0.9v0.9h-0.9zM270.9 350.9h0.9v0.9h-0.9zM266.2 345.2h0.9v0.9h-0.9zM265.3 364.1h0.9v0.9h-0.9zM263.3 359.3h0.9v0.9h-0.9zM274.7 351.3h0.9v0.9h-0.9zM254.9 357.2h0.9v0.9h-0.9zM267.9 356.0h0.9v0.9h-0.9zM257.4 364.6h0.9v0.9h-0.9zM255.8 355.1h0.9v0.9h-0.9zM265.2 362.1h0.9v0.9h-0.9zM261.8 352.0h0.9v0.9h-0.9zM282.4 353.5h0.9v0.9h-0.9zM272.2 357.0h0.9v0.9h-0.9zM261.5 356.9h0.9v0.9h-0.9zM263.4 359.3h0.9v0.9h-0.9zM266.1 351.4h0.9v0.9h-0.9zM262.3 372.0h0.9v0.9h-0.9zM281.0 362.7h0.9v0.9h-0.9zM267.5 355.7h0.9v0.9h-0.9zM277.2 355.6h0.9v0.9h-0.9zM258.6 361.3h0.9v0.9h-0.9zM257.4 351.9h0.9v0.9h-0.9zM277.7 348.3h0.9v0.9h-0.9zM265.0 358.2h0.9v0.9h-0.9zM267.7 348.5h0.9v0.9h-0.9zM263.6 355.3h0.9v0.9h-0.9zM281.7 365.1h0.9v0.9h-0.9zM259.2 362.5h0.9v0.9h-0.9zM271.0 357.2h0.9v0.9h-0.9zM263.5 355.6h0.9v0.9h-0.9zM252.6 352.5h0.9v0.9h-0.9zM273.4 367.2h0.9v0.9h-0.9zM281.1 356.3h0.9v0.9h-0.9zM270.7 342.7h0.9v0.9h-0.9zM263.3 349.4h0.9v0.9h-0.9zM272.4 347.6h0.9v0.9h-0.9zM256.8 349.9h0.9v0.9h-0.9zM268.9 363.1h0.9v0.9h-0.9zM257.8 368.3h0.9v0.9h-0.9zM266.9 352.4h0.9v0.9h-0.9zM268.5 357.6h0.9v0.9h-0.9zM272.5 360.2h0.9v0.9h-0.9zM283.9 366.3h0.9v0.9h-0.9zM260.2 362.1h0.9v0.9h-0.9zM271.9 351.7h0.9v0.9h-0.9zM259.3 351.9h0.9v0.9h-0.9zM263.7 365.1h0.9v0.9h-0.9zM260.9 357.6h0.9v0.9h-0.9zM271.6 364.1h0.9v0.9h-0.9zM268.2 351.1h0.9v0.9h-0.9zM284.0 364.4h0.9v0.9h-0.9zM277.0 368.6h0.9v0.9h-0.9zM277.3 361.0h0.9v0.9h-0.9zM269.5 361.8h0.9v0.9h-0.9zM252.9 361.7h0.9v0.9h-0.9zM257.4 359.5h0.9v0.9h-0.9zM257.1 361.4h0.9v0.9h-0.9zM261.5 372.9h0.9v0.9h-0.9zM267.2 360.8h0.9v0.9h-0.9zM258.0 355.1h0.9v0.9h-0.9zM265.1 355.7h0.9v0.9h-0.9zM261.9 351.7h0.9v0.9h-0.9zM271.9 355.6h0.9v0.9h-0.9zM258.7 359.3h0.9v0.9h-0.9zM258.7 355.9h0.9v0.9h-0.9zM261.3 351.3h0.9v0.9h-0.9zM263.7 352.2h0.9v0.9h-0.9zM255.1 358.9h0.9v0.9h-0.9zM263.1 348.1h0.9v0.9h-0.9zM262.2 358.4h0.9v0.9h-0.9zM269.1 360.1h0.9v0.9h-0.9zM267.7 361.4h0.9v0.9h-0.9zM261.4 352.2h0.9v0.9h-0.9zM270.7 355.3h0.9v0.9h-0.9zM265.6 361.6h0.9v0.9h-0.9zM273.4 365.8h0.9v0.9h-0.9zM259.8 354.7h0.9v0.9h-0.9zM270.2 348.8h0.9v0.9h-0.9zM255.0 360.5h0.9v0.9h-0.9zM260.4 351.3h0.9v0.9h-0.9zM272.3 361.4h0.9v0.9h-0.9zM273.3 356.0h0.9v0.9h-0.9zM263.2 355.2h0.9v0.9h-0.9zM268.1 344.9h0.9v0.9h-0.9zM259.8 361.5h0.9v0.9h-0.9zM259.0 356.6h0.9v0.9h-0.9zM266.6 360.9h0.9v0.9h-0.9zM261.6 350.1h0.9v0.9h-0.9zM286.5 354.6h0.9v0.9h-0.9zM279.9 347.5h0.9v0.9h-0.9zM266.5 356.4h0.9v0.9h-0.9zM281.4 371.6h0.9v0.9h-0.9zM273.7 351.8h0.9v0.9h-0.9zM258.9 352.3h0.9v0.9h-0.9zM261.3 358.8h0.9v0.9h-0.9zM259.0 355.5h0.9v0.9h-0.9zM277.9 367.5h0.9v0.9h-0.9zM250.0 350.3h0.9v0.9h-0.9zM262.5 365.4h0.9v0.9h-0.9zM262.8 369.3h0.9v0.9h-0.9zM268.6 366.8h0.9v0.9h-0.9zM258.4 355.0h0.9v0.9h-0.9zM274.1 361.8h0.9v0.9h-0.9zM250.0 354.6h0.9v0.9h-0.9zM267.1 361.6h0.9v0.9h-0.9zM260.3 368.0h0.9v0.9h-0.9zM266.8 366.7h0.9v0.9h-0.9zM268.9 358.3h0.9v0.9h-0.9zM262.9 350.0h0.9v0.9h-0.9zM272.8 362.8h0.9v0.9h-0.9zM273.4 355.8h0.9v0.9h-0.9zM257.2 354.5h0.9v0.9h-0.9zM263.0 357.2h0.9v0.9h-0.9zM273.8 352.4h0.9v0.9h-0.9zM261.5 361.5h0.9v0.9h-0.9zM273.1 372.0h0.9v0.9h-0.9zM270.0 352.5h0.9v0.9h-0.9zM256.9 351.9h0.9v0.9h-0.9zM266.2 359.2h0.9v0.9h-0.9zM265.0 353.6h0.9v0.9h-0.9zM264.0 356.9h0.9v0.9h-0.9zM270.5 358.4h0.9v0.9h-0.9zM258.8 349.7h0.9v0.9h-0.9zM278.0 357.9h0.9v0.9h-0.9zM264.1 357.2h0.9v0.9h-0.9zM275.0 356.3h0.9v0.9h-0.9zM267.1 356.1h0.9v0.9h-0.9zM270.4 351.6h0.9v0.9h-0.9zM267.3 364.1h0.9v0.9h-0.9zM275.5 362.1h0.9v0.9h-0.9zM268.1 367.6h0.9v0.9h-0.9zM271.5 366.7h0.9v0.9h-0.9zM255.6 349.9h0.9v0.9h-0.9zM272.3 356.4h0.9v0.9h-0.9zM262.0 351.3h0.9v0.9h-0.9zM278.0 351.0h0.9v0.9h-0.9zM266.5 348.9h0.9v0.9h-0.9zM264.2 371.5h0.9v0.9h-0.9zM285.9 356.0h0.9v0.9h-0.9zM257.2 367.1h0.9v0.9h-0.9zM258.5 345.8h0.9v0.9h-0.9zM268.5 351.0h0.9v0.9h-0.9zM253.5 363.6h0.9v0.9h-0.9zM259.5 350.4h0.9v0.9h-0.9zM267.0 356.4h0.9v0.9h-0.9zM275.0 358.8h0.9v0.9h-0.9zM278.9 365.7h0.9v0.9h-0.9zM280.4 365.7h0.9v0.9h-0.9zM266.2 361.0h0.9v0.9h-0.9zM265.8 347.8h0.9v0.9h-0.9zM255.8 361.4h0.9v0.9h-0.9zM254.9 356.3h0.9v0.9h-0.9zM257.0 358.4h0.9v0.9h-0.9zM264.0 354.5h0.9v0.9h-0.9zM258.6 343.1h0.9v0.9h-0.9zM266.2 349.5h0.9v0.9h-0.9zM263.2 359.7h0.9v0.9h-0.9zM274.3 362.6h0.9v0.9h-0.9zM277.9 349.6h0.9v0.9h-0.9zM271.2 367.8h0.9v0.9h-0.9zM268.9 350.8h0.9v0.9h-0.9zM268.9 354.5h0.9v0.9h-0.9zM260.3 363.8h0.9v0.9h-0.9zM264.1 350.4h0.9v0.9h-0.9zM260.0 369.4h0.9v0.9h-0.9zM258.6 361.2h0.9v0.9h-0.9z" fill="#3434ec"/>
<path d="M268.1 367.1h0.9v0.9h-0.9zM263.2 350.7h0.9v0.9h-0.9zM259.3 350.1h0.9v0.9h-0.9zM294.1 359.5h0.9v0.9h-0.9zM262.7 367.8h0.9v0.9h-0.9zM273.2 356.6h0.9v0.9h-0.9zM272.9 360.1h0.9v0.9h-0.9zM278.3 370.8h0.9v0.9h-0.9zM262.8 357.7h0.9v0.9h-0.9zM264.2 367.5h0.9v0.9h-0.9zM270.3 364.1h0.9v0.9h-0.9zM275.8 353.1h0.9v0.9h-0.9zM267.6 368.7h0.9v0.9h-0.9zM276.1 364.3h0.9v0.9h-0.9zM263.2 355.2h0.9v0.9h-0.9zM257.0 355.9h0.9v0.9h-0.9zM265.5 346.9h0.9v0.9h-0.9zM278.7 352.1h0.9v0.9h-0.9zM268.9 362.7h0.9v0.9h-0.9zM260.3 344.0h0.9v0.9h-0.9zM276.6 361.2h0.9v0.9h-0.9zM263.5 366.8h0.9v0.9h-0.9zM275.8 350.6h0.9v0.9h-0.9zM265.3 344.4h0.9v0.9h-0.9zM263.4 368.9h0.9v0.9h-0.9zM257.2 364.4h0.9v0.9h-0.9zM250.0 355.7h0.9v0.9h-0.9zM276.3 371.3h0.9v0.9h-0.9zM271.1 363.9h0.9v0.9h-0.9zM284.6 339.1h0.9v0.9h-0.9zM292.7 362.6h0.9v0.9h-0.9zM266.9 360.0h0.9v0.9h-0.9zM266.5 353.3h0.9v0.9h-0.9zM266.0 357.1h0.9v0.9h-0.9zM273.4 363.3h0.9v0.9h-0.9zM276.7 362.6h0.9v0.9h-0.9zM255.8 368.8h0.9v0.9h-0.9zM269.7 353.9h0.9v0.9h-0.9zM286.3 349.6h0.9v0.9h-0.9zM253.6 354.1h0.9v0.9h-0.9zM270.7 364.2h0.9v0.9h-0.9zM267.4 363.2h0.9v0.9h-0.9zM258.7 353.3h0.9v0.9h-0.9zM267.6 347.6h0.9v0.9h-0.9zM268.2 355.0h0.9v0.9h-0.9zM273.5 350.2h0.9v0.9h-0.9zM260.5 353.6h0.9v0.9h-0.9zM262.3 350.3h0.9v0.9h-0.9zM263.4 347.6h0.9v0.9h-0.9zM271.9 363.2h0.9v0.9h-0.9zM266.0 356.6h0.9v0.9h-0.9zM256.7 350.6h0.9v0.9h-0.9zM263.8 351.0h0.9v0.9h-0.9zM253.6 359.3h0.9v0.9h-0.9zM266.0 354.9h0.9v0.9h-0.9zM257.5 357.6h0.9v0.9h-0.9zM258.8 354.7h0.9v0.9h-0.9zM268.2 363.6h0.9v0.9h-0.9zM274.3 353.3h0.9v0.9h-0.9zM279.1 349.1h0.9v0.9h-0.9zM264.3 368.1h0.9v0.9h-0.9zM291.5 359.0h0.9v0.9h-0.9zM262.3 355.1h0.9v0.9h-0.9zM253.2 356.9h0.9v0.9h-0.9zM261.7 352.2h0.9v0.9h-0.9zM279.0 352.0h0.9v0.9h-0.9zM284.2 364.5h0.9v0.9h-0.9zM273.0 353.5h0.9v0.9h-0.9zM260.8 342.6h0.9v0.9h-0.9zM269.1 355.9h0.9v0.9h-0.9zM270.3 352.8h0.9v0.9h-0.9zM271.4 346.5h0.9v0.9h-0.9zM277.6 333.7h0.9v0.9h-0.9zM279.9 355.3h0.9v0.9h-0.9zM264.4 346.1h0.9v0.9h-0.9zM255.5 363.5h0.9v0.9h-0.9zM258.3 357.7h0.9v0.9h-0.9zM264.5 373.4h0.9v0.9h-0.9zM275.7 347.8h0.9v0.9h-0.9zM261.1 349.1h0.9v0.9h-0.9zM251.4 352.7h0.9v0.9h-0.9zM277.9 358.4h0.9v0.9h-0.9zM273.3 357.0h0.9v0.9h-0.9zM261.7 358.7h0.9v0.9h-0.9zM265.4 372.9h0.9v0.9h-0.9zM285.3 360.9h0.9v0.9h-0.9zM272.6 342.6h0.9v0.9h-0.9zM264.9 376.5h0.9v0.9h-0.9zM257.7 364.3h0.9v0.9h-0.9zM279.1 354.9h0.9v0.9h-0.9zM263.8 354.5h0.9v0.9h-0.9zM274.6 358.2h0.9v0.9h-0.9zM282.1 367.2h0.9v0.9h-0.9zM266.1 378.1h0.9v0.9h-0.9zM262.9 353.3h0.9v0.9h-0.9zM263.6 351.2h0.9v0.9h-0.9zM261.7 357.5h0.9v0.9h-0.9zM275.6 345.8h0.9v0.9h-0.9zM251.3 352.0h0.9v0.9h-0.9zM262.9 361.5h0.9v0.9h-0.9zM257.8 369.7h0.9v0.9h-0.9zM260.5 356.3h0.9v0.9h-0.9zM266.7 367.1h0.9v0.9h-0.9zM269.3 358.2h0.9v0.9h-0.9zM260.4 359.3h0.9v0.9h-0.9zM270.4 355.3h0.9v0.9h-0.9zM265.9 343.8h0.9v0.9h-0.9z" fill="#8484f4"/>
<path d="M265.5 373.6h0.9v0.9h-0.9zM293.8 360.2h0.9v0.9h-0.9zM267.2 371.7h0.9v0.9h-0.9zM264.3 375.6h0.9v0.9h-0.9zM289.9 349.7h0.9v0.9h-0.9zM270.0 348.1h0.9v0.9h-0.9zM277.2 356.8h0.9v0.9h-0.9zM251.5 349.8h0.9v0.9h-0.9zM276.7 344.8h0.9v0.9h-0.9zM288.8 365.8h0.9v0.9h-0.9zM270.6 375.9h0.9v0.9h-0.9zM259.8 368.3h0.9v0.9h-0.9zM253.6 357.5h0.9v0.9h-0.9zM282.4 355.3h0.9v0.9h-0.9zM271.5 367.9h0.9v0.9h-0.9zM295.2 374.9h0.9v0.9h-0.9zM279.8 358.2h0.9v0.9h-0.9z" fill="#c0c0f8"/>
<ellipse cx="274.5" cy="358" rx="6.5" ry="6" fill="#0000e0" opacity="0.9" filter="url(#b2)"/>
<ellipse cx="260" cy="358" rx="5" ry="4.5" fill="#2020e0" opacity="0.5" filter="url(#b2)"/>
</g>
<line x1="269.20" y1="312.30" x2="269.20" y2="386.20" stroke="#333" stroke-width="1.2"/>
<line x1="248.80" y1="343.80" x2="321.90" y2="343.80" stroke="#333" stroke-width="1.2"/>
<line x1="248.80" y1="311.80" x2="248.80" y2="386.90" stroke="#111" stroke-width="1.6"/>
<line x1="248.10" y1="386.20" x2="322.20" y2="386.20" stroke="#111" stroke-width="1.6"/>
<line x1="246.60" y1="386.20" x2="248.80" y2="386.20" stroke="#111" stroke-width="1.0"/>
<line x1="248.80" y1="386.20" x2="248.80" y2="388.40" stroke="#111" stroke-width="1.0"/>
<line x1="247.60" y1="380.64" x2="248.80" y2="380.64" stroke="#333" stroke-width="0.6"/>
<line x1="254.30" y1="386.20" x2="254.30" y2="387.40" stroke="#333" stroke-width="0.6"/>
<line x1="247.60" y1="377.39" x2="248.80" y2="377.39" stroke="#333" stroke-width="0.6"/>
<line x1="257.52" y1="386.20" x2="257.52" y2="387.40" stroke="#333" stroke-width="0.6"/>
<line x1="247.60" y1="375.08" x2="248.80" y2="375.08" stroke="#333" stroke-width="0.6"/>
<line x1="259.80" y1="386.20" x2="259.80" y2="387.40" stroke="#333" stroke-width="0.6"/>
<line x1="247.60" y1="373.29" x2="248.80" y2="373.29" stroke="#333" stroke-width="0.6"/>
<line x1="261.57" y1="386.20" x2="261.57" y2="387.40" stroke="#333" stroke-width="0.6"/>
<line x1="247.60" y1="371.82" x2="248.80" y2="371.82" stroke="#333" stroke-width="0.6"/>
<line x1="263.02" y1="386.20" x2="263.02" y2="387.40" stroke="#333" stroke-width="0.6"/>
<line x1="247.60" y1="370.59" x2="248.80" y2="370.59" stroke="#333" stroke-width="0.6"/>
<line x1="264.24" y1="386.20" x2="264.24" y2="387.40" stroke="#333" stroke-width="0.6"/>
<line x1="247.60" y1="369.52" x2="248.80" y2="369.52" stroke="#333" stroke-width="0.6"/>
<line x1="265.30" y1="386.20" x2="265.30" y2="387.40" stroke="#333" stroke-width="0.6"/>
<line x1="247.60" y1="368.57" x2="248.80" y2="368.57" stroke="#333" stroke-width="0.6"/>
<line x1="266.24" y1="386.20" x2="266.24" y2="387.40" stroke="#333" stroke-width="0.6"/>
<line x1="246.60" y1="367.73" x2="248.80" y2="367.73" stroke="#111" stroke-width="1.0"/>
<line x1="267.07" y1="386.20" x2="267.07" y2="388.40" stroke="#111" stroke-width="1.0"/>
<line x1="247.60" y1="362.16" x2="248.80" y2="362.16" stroke="#333" stroke-width="0.6"/>
<line x1="272.58" y1="386.20" x2="272.58" y2="387.40" stroke="#333" stroke-width="0.6"/>
<line x1="247.60" y1="358.91" x2="248.80" y2="358.91" stroke="#333" stroke-width="0.6"/>
<line x1="275.79" y1="386.20" x2="275.79" y2="387.40" stroke="#333" stroke-width="0.6"/>
<line x1="247.60" y1="356.60" x2="248.80" y2="356.60" stroke="#333" stroke-width="0.6"/>
<line x1="278.08" y1="386.20" x2="278.08" y2="387.40" stroke="#333" stroke-width="0.6"/>
<line x1="247.60" y1="354.81" x2="248.80" y2="354.81" stroke="#333" stroke-width="0.6"/>
<line x1="279.85" y1="386.20" x2="279.85" y2="387.40" stroke="#333" stroke-width="0.6"/>
<line x1="247.60" y1="353.35" x2="248.80" y2="353.35" stroke="#333" stroke-width="0.6"/>
<line x1="281.30" y1="386.20" x2="281.30" y2="387.40" stroke="#333" stroke-width="0.6"/>
<line x1="247.60" y1="352.11" x2="248.80" y2="352.11" stroke="#333" stroke-width="0.6"/>
<line x1="282.52" y1="386.20" x2="282.52" y2="387.40" stroke="#333" stroke-width="0.6"/>
<line x1="247.60" y1="351.04" x2="248.80" y2="351.04" stroke="#333" stroke-width="0.6"/>
<line x1="283.58" y1="386.20" x2="283.58" y2="387.40" stroke="#333" stroke-width="0.6"/>
<line x1="247.60" y1="350.10" x2="248.80" y2="350.10" stroke="#333" stroke-width="0.6"/>
<line x1="284.51" y1="386.20" x2="284.51" y2="387.40" stroke="#333" stroke-width="0.6"/>
<line x1="246.60" y1="349.25" x2="248.80" y2="349.25" stroke="#111" stroke-width="1.0"/>
<line x1="285.35" y1="386.20" x2="285.35" y2="388.40" stroke="#111" stroke-width="1.0"/>
<line x1="247.60" y1="343.69" x2="248.80" y2="343.69" stroke="#333" stroke-width="0.6"/>
<line x1="290.85" y1="386.20" x2="290.85" y2="387.40" stroke="#333" stroke-width="0.6"/>
<line x1="247.60" y1="340.44" x2="248.80" y2="340.44" stroke="#333" stroke-width="0.6"/>
<line x1="294.07" y1="386.20" x2="294.07" y2="387.40" stroke="#333" stroke-width="0.6"/>
<line x1="247.60" y1="338.13" x2="248.80" y2="338.13" stroke="#333" stroke-width="0.6"/>
<line x1="296.35" y1="386.20" x2="296.35" y2="387.40" stroke="#333" stroke-width="0.6"/>
<line x1="247.60" y1="336.34" x2="248.80" y2="336.34" stroke="#333" stroke-width="0.6"/>
<line x1="298.12" y1="386.20" x2="298.12" y2="387.40" stroke="#333" stroke-width="0.6"/>
<line x1="247.60" y1="334.87" x2="248.80" y2="334.87" stroke="#333" stroke-width="0.6"/>
<line x1="299.57" y1="386.20" x2="299.57" y2="387.40" stroke="#333" stroke-width="0.6"/>
<line x1="247.60" y1="333.64" x2="248.80" y2="333.64" stroke="#333" stroke-width="0.6"/>
<line x1="300.79" y1="386.20" x2="300.79" y2="387.40" stroke="#333" stroke-width="0.6"/>
<line x1="247.60" y1="332.57" x2="248.80" y2="332.57" stroke="#333" stroke-width="0.6"/>
<line x1="301.85" y1="386.20" x2="301.85" y2="387.40" stroke="#333" stroke-width="0.6"/>
<line x1="247.60" y1="331.62" x2="248.80" y2="331.62" stroke="#333" stroke-width="0.6"/>
<line x1="302.79" y1="386.20" x2="302.79" y2="387.40" stroke="#333" stroke-width="0.6"/>
<line x1="246.60" y1="330.77" x2="248.80" y2="330.77" stroke="#111" stroke-width="1.0"/>
<line x1="303.62" y1="386.20" x2="303.62" y2="388.40" stroke="#111" stroke-width="1.0"/>
<line x1="247.60" y1="325.21" x2="248.80" y2="325.21" stroke="#333" stroke-width="0.6"/>
<line x1="309.13" y1="386.20" x2="309.13" y2="387.40" stroke="#333" stroke-width="0.6"/>
<line x1="247.60" y1="321.96" x2="248.80" y2="321.96" stroke="#333" stroke-width="0.6"/>
<line x1="312.34" y1="386.20" x2="312.34" y2="387.40" stroke="#333" stroke-width="0.6"/>
<line x1="247.60" y1="319.65" x2="248.80" y2="319.65" stroke="#333" stroke-width="0.6"/>
<line x1="314.63" y1="386.20" x2="314.63" y2="387.40" stroke="#333" stroke-width="0.6"/>
<line x1="247.60" y1="317.86" x2="248.80" y2="317.86" stroke="#333" stroke-width="0.6"/>
<line x1="316.40" y1="386.20" x2="316.40" y2="387.40" stroke="#333" stroke-width="0.6"/>
<line x1="247.60" y1="316.40" x2="248.80" y2="316.40" stroke="#333" stroke-width="0.6"/>
<line x1="317.85" y1="386.20" x2="317.85" y2="387.40" stroke="#333" stroke-width="0.6"/>
<line x1="247.60" y1="315.16" x2="248.80" y2="315.16" stroke="#333" stroke-width="0.6"/>
<line x1="319.07" y1="386.20" x2="319.07" y2="387.40" stroke="#333" stroke-width="0.6"/>
<line x1="247.60" y1="314.09" x2="248.80" y2="314.09" stroke="#333" stroke-width="0.6"/>
<line x1="320.13" y1="386.20" x2="320.13" y2="387.40" stroke="#333" stroke-width="0.6"/>
<line x1="247.60" y1="313.15" x2="248.80" y2="313.15" stroke="#333" stroke-width="0.6"/>
<line x1="321.06" y1="386.20" x2="321.06" y2="387.40" stroke="#333" stroke-width="0.6"/>
<line x1="246.60" y1="312.30" x2="248.80" y2="312.30" stroke="#111" stroke-width="1.0"/>
<line x1="321.90" y1="386.20" x2="321.90" y2="388.40" stroke="#111" stroke-width="1.0"/>
<text x="251.20" y="322.00" font-size="7.6" font-weight="normal" text-anchor="start" fill="#1a1a1a" textLength="21.50" lengthAdjust="spacingAndGlyphs" >1.52%</text>
<text x="298.00" y="322.00" font-size="7.6" font-weight="normal" text-anchor="start" fill="#1a1a1a" textLength="21.60" lengthAdjust="spacingAndGlyphs" >0.37%</text>
<text x="250.80" y="379.20" font-size="7.6" font-weight="normal" text-anchor="start" fill="#1a1a1a" textLength="25.70" lengthAdjust="spacingAndGlyphs" >70.65%</text>
<text x="298.00" y="379.20" font-size="7.6" font-weight="normal" text-anchor="start" fill="#1a1a1a" textLength="24.70" lengthAdjust="spacingAndGlyphs" >27.47%</text>
<text x="243.40" y="392.00" font-size="6.4" font-weight="normal" text-anchor="end" fill="#2a2a2a" >10</text>
<text x="245.40" y="387.20" font-size="5.0" font-weight="normal" text-anchor="middle" fill="#2a2a2a" >0</text>
<text x="246.80" y="399.40" font-size="6.4" font-weight="normal" text-anchor="middle" fill="#2a2a2a" >10</text>
<text x="251.60" y="394.50" font-size="5.0" font-weight="normal" text-anchor="middle" fill="#2a2a2a" >0</text>
<text x="243.40" y="373.53" font-size="6.4" font-weight="normal" text-anchor="end" fill="#2a2a2a" >10</text>
<text x="245.40" y="368.73" font-size="5.0" font-weight="normal" text-anchor="middle" fill="#2a2a2a" >1</text>
<text x="265.07" y="399.40" font-size="6.4" font-weight="normal" text-anchor="middle" fill="#2a2a2a" >10</text>
<text x="269.88" y="394.50" font-size="5.0" font-weight="normal" text-anchor="middle" fill="#2a2a2a" >1</text>
<text x="243.40" y="355.05" font-size="6.4" font-weight="normal" text-anchor="end" fill="#2a2a2a" >10</text>
<text x="245.40" y="350.25" font-size="5.0" font-weight="normal" text-anchor="middle" fill="#2a2a2a" >2</text>
<text x="283.35" y="399.40" font-size="6.4" font-weight="normal" text-anchor="middle" fill="#2a2a2a" >10</text>
<text x="288.15" y="394.50" font-size="5.0" font-weight="normal" text-anchor="middle" fill="#2a2a2a" >2</text>
<text x="243.40" y="336.57" font-size="6.4" font-weight="normal" text-anchor="end" fill="#2a2a2a" >10</text>
<text x="245.40" y="331.77" font-size="5.0" font-weight="normal" text-anchor="middle" fill="#2a2a2a" >3</text>
<text x="301.62" y="399.40" font-size="6.4" font-weight="normal" text-anchor="middle" fill="#2a2a2a" >10</text>
<text x="306.43" y="394.50" font-size="5.0" font-weight="normal" text-anchor="middle" fill="#2a2a2a" >3</text>
<text x="243.40" y="318.10" font-size="6.4" font-weight="normal" text-anchor="end" fill="#2a2a2a" >10</text>
<text x="245.40" y="313.30" font-size="5.0" font-weight="normal" text-anchor="middle" fill="#2a2a2a" >4</text>
<text x="319.90" y="399.40" font-size="6.4" font-weight="normal" text-anchor="middle" fill="#2a2a2a" >10</text>
<text x="324.70" y="394.50" font-size="5.0" font-weight="normal" text-anchor="middle" fill="#2a2a2a" >4</text>
<text x="284.70" y="407.98" font-size="8.5" font-weight="normal" text-anchor="middle" fill="#1a1a1a" textLength="25.90" lengthAdjust="spacingAndGlyphs" >APC-A</text>
<text x="0" y="0" font-size="8.4" font-weight="normal" text-anchor="middle" fill="#1a1a1a" textLength="68.10" lengthAdjust="spacingAndGlyphs" transform="translate(230.94 347.85) rotate(-90)" >Alexa Fluor 488-A</text>
<rect x="397.40" y="315.70" width="70.90" height="70.20" fill="none" stroke="#b0b0b0" stroke-width="0.9"/>
<clipPath id="pc397315"><rect x="397.40" y="315.70" width="70.90" height="70.20"/></clipPath><g clip-path="url(#pc397315)">
<ellipse cx="406.8" cy="358" rx="7.5" ry="5.5" fill="#5a5af0" opacity="0.55" filter="url(#b2_2)"/>
<path d="M401.8 362.7h0.9v0.9h-0.9zM413.3 352.1h0.9v0.9h-0.9zM409.9 357.9h0.9v0.9h-0.9zM409.3 358.9h0.9v0.9h-0.9zM406.2 358.0h0.9v0.9h-0.9zM406.7 361.2h0.9v0.9h-0.9zM405.9 356.5h0.9v0.9h-0.9zM409.1 359.8h0.9v0.9h-0.9zM408.3 358.8h0.9v0.9h-0.9zM411.9 361.0h0.9v0.9h-0.9zM407.6 357.4h0.9v0.9h-0.9zM409.1 352.9h0.9v0.9h-0.9zM405.0 356.1h0.9v0.9h-0.9zM407.4 357.0h0.9v0.9h-0.9zM415.4 360.0h0.9v0.9h-0.9zM408.2 364.1h0.9v0.9h-0.9zM406.8 357.1h0.9v0.9h-0.9zM411.1 360.3h0.9v0.9h-0.9zM410.0 361.3h0.9v0.9h-0.9zM405.6 356.2h0.9v0.9h-0.9zM404.3 358.3h0.9v0.9h-0.9zM410.3 355.1h0.9v0.9h-0.9zM405.0 354.4h0.9v0.9h-0.9zM413.8 360.2h0.9v0.9h-0.9zM407.6 354.7h0.9v0.9h-0.9zM403.3 356.2h0.9v0.9h-0.9zM407.0 354.5h0.9v0.9h-0.9zM406.0 361.3h0.9v0.9h-0.9zM406.9 358.3h0.9v0.9h-0.9zM399.6 357.3h0.9v0.9h-0.9zM406.3 356.1h0.9v0.9h-0.9zM402.0 357.8h0.9v0.9h-0.9zM403.3 356.5h0.9v0.9h-0.9zM401.3 357.7h0.9v0.9h-0.9zM410.0 355.7h0.9v0.9h-0.9zM408.0 353.9h0.9v0.9h-0.9zM408.8 359.5h0.9v0.9h-0.9zM405.5 360.4h0.9v0.9h-0.9zM403.8 358.1h0.9v0.9h-0.9zM412.7 357.9h0.9v0.9h-0.9zM402.9 361.1h0.9v0.9h-0.9zM408.7 357.2h0.9v0.9h-0.9zM400.5 352.9h0.9v0.9h-0.9zM401.6 362.0h0.9v0.9h-0.9zM407.8 355.7h0.9v0.9h-0.9zM410.8 362.0h0.9v0.9h-0.9zM403.9 359.3h0.9v0.9h-0.9zM401.1 359.0h0.9v0.9h-0.9zM413.1 354.1h0.9v0.9h-0.9zM407.0 356.3h0.9v0.9h-0.9zM406.5 358.2h0.9v0.9h-0.9zM407.8 360.4h0.9v0.9h-0.9zM408.6 360.9h0.9v0.9h-0.9zM410.3 361.0h0.9v0.9h-0.9zM404.5 359.1h0.9v0.9h-0.9zM405.5 355.7h0.9v0.9h-0.9zM413.6 358.8h0.9v0.9h-0.9zM407.0 352.3h0.9v0.9h-0.9zM406.0 360.1h0.9v0.9h-0.9zM406.1 356.5h0.9v0.9h-0.9zM411.9 357.2h0.9v0.9h-0.9zM405.7 357.7h0.9v0.9h-0.9zM406.0 360.9h0.9v0.9h-0.9zM408.8 357.8h0.9v0.9h-0.9zM405.6 357.4h0.9v0.9h-0.9zM412.7 357.2h0.9v0.9h-0.9zM409.1 353.7h0.9v0.9h-0.9zM407.9 359.9h0.9v0.9h-0.9zM411.2 358.9h0.9v0.9h-0.9zM408.8 358.9h0.9v0.9h-0.9zM410.5 363.6h0.9v0.9h-0.9zM407.5 355.8h0.9v0.9h-0.9zM408.9 357.7h0.9v0.9h-0.9zM409.0 360.1h0.9v0.9h-0.9zM407.4 356.8h0.9v0.9h-0.9zM407.9 354.6h0.9v0.9h-0.9zM407.8 355.6h0.9v0.9h-0.9zM408.4 358.3h0.9v0.9h-0.9zM406.1 354.7h0.9v0.9h-0.9zM407.0 356.1h0.9v0.9h-0.9zM406.3 359.9h0.9v0.9h-0.9zM410.1 354.5h0.9v0.9h-0.9zM410.1 361.7h0.9v0.9h-0.9zM410.7 358.8h0.9v0.9h-0.9zM406.5 362.8h0.9v0.9h-0.9zM405.7 353.8h0.9v0.9h-0.9zM407.1 358.8h0.9v0.9h-0.9zM403.3 354.7h0.9v0.9h-0.9zM413.7 358.3h0.9v0.9h-0.9zM409.5 356.4h0.9v0.9h-0.9zM401.6 357.5h0.9v0.9h-0.9zM411.5 356.2h0.9v0.9h-0.9zM400.7 357.5h0.9v0.9h-0.9zM405.9 358.0h0.9v0.9h-0.9zM403.2 357.2h0.9v0.9h-0.9zM405.0 360.4h0.9v0.9h-0.9zM407.4 360.4h0.9v0.9h-0.9zM406.7 352.2h0.9v0.9h-0.9zM400.1 359.5h0.9v0.9h-0.9zM409.9 360.4h0.9v0.9h-0.9zM406.6 353.1h0.9v0.9h-0.9zM405.1 359.1h0.9v0.9h-0.9zM411.6 357.1h0.9v0.9h-0.9zM404.9 355.9h0.9v0.9h-0.9zM410.3 360.4h0.9v0.9h-0.9zM400.6 361.3h0.9v0.9h-0.9zM403.7 354.0h0.9v0.9h-0.9zM401.3 356.0h0.9v0.9h-0.9zM414.8 365.0h0.9v0.9h-0.9zM402.6 356.2h0.9v0.9h-0.9zM407.4 359.1h0.9v0.9h-0.9zM405.2 353.7h0.9v0.9h-0.9zM405.4 356.1h0.9v0.9h-0.9zM400.7 358.4h0.9v0.9h-0.9zM401.8 353.3h0.9v0.9h-0.9zM412.1 360.6h0.9v0.9h-0.9zM411.8 358.3h0.9v0.9h-0.9zM405.4 357.8h0.9v0.9h-0.9zM402.1 360.0h0.9v0.9h-0.9zM407.8 357.2h0.9v0.9h-0.9z" fill="#0a0ad8"/>
<path d="M414.0 363.4h0.9v0.9h-0.9zM410.6 356.7h0.9v0.9h-0.9zM407.2 360.1h0.9v0.9h-0.9zM407.5 361.9h0.9v0.9h-0.9zM403.5 349.4h0.9v0.9h-0.9zM400.2 360.5h0.9v0.9h-0.9zM411.5 358.0h0.9v0.9h-0.9zM409.0 358.3h0.9v0.9h-0.9zM407.4 356.3h0.9v0.9h-0.9zM404.7 362.4h0.9v0.9h-0.9zM405.3 357.9h0.9v0.9h-0.9zM412.0 361.7h0.9v0.9h-0.9zM404.8 358.9h0.9v0.9h-0.9zM401.9 358.5h0.9v0.9h-0.9zM408.0 358.0h0.9v0.9h-0.9zM407.3 359.4h0.9v0.9h-0.9zM406.9 356.2h0.9v0.9h-0.9zM402.1 357.1h0.9v0.9h-0.9zM413.9 357.2h0.9v0.9h-0.9zM403.6 356.2h0.9v0.9h-0.9zM401.1 359.8h0.9v0.9h-0.9zM402.0 361.4h0.9v0.9h-0.9zM410.7 360.1h0.9v0.9h-0.9zM411.3 357.7h0.9v0.9h-0.9zM398.5 357.8h0.9v0.9h-0.9zM409.5 352.3h0.9v0.9h-0.9zM400.9 362.1h0.9v0.9h-0.9zM408.6 363.0h0.9v0.9h-0.9zM409.6 358.2h0.9v0.9h-0.9zM408.5 361.2h0.9v0.9h-0.9zM406.4 357.2h0.9v0.9h-0.9zM408.0 356.8h0.9v0.9h-0.9zM417.6 355.2h0.9v0.9h-0.9zM399.6 353.2h0.9v0.9h-0.9zM411.4 356.5h0.9v0.9h-0.9zM407.3 357.2h0.9v0.9h-0.9zM407.8 352.6h0.9v0.9h-0.9zM407.0 355.9h0.9v0.9h-0.9zM411.6 360.3h0.9v0.9h-0.9zM400.8 354.4h0.9v0.9h-0.9zM409.2 362.4h0.9v0.9h-0.9zM410.1 357.4h0.9v0.9h-0.9zM411.7 349.2h0.9v0.9h-0.9zM404.1 354.4h0.9v0.9h-0.9zM401.8 360.1h0.9v0.9h-0.9zM407.8 359.1h0.9v0.9h-0.9zM405.9 360.3h0.9v0.9h-0.9zM410.2 355.9h0.9v0.9h-0.9zM410.9 354.6h0.9v0.9h-0.9zM414.7 353.2h0.9v0.9h-0.9zM405.2 354.0h0.9v0.9h-0.9zM406.7 362.9h0.9v0.9h-0.9zM403.1 364.6h0.9v0.9h-0.9zM413.1 359.4h0.9v0.9h-0.9zM403.8 361.4h0.9v0.9h-0.9zM411.0 357.9h0.9v0.9h-0.9zM418.1 355.5h0.9v0.9h-0.9zM400.4 357.2h0.9v0.9h-0.9zM409.2 364.3h0.9v0.9h-0.9zM398.4 358.6h0.9v0.9h-0.9zM412.4 355.5h0.9v0.9h-0.9zM404.5 353.5h0.9v0.9h-0.9zM410.1 361.1h0.9v0.9h-0.9zM409.3 358.9h0.9v0.9h-0.9zM411.2 357.5h0.9v0.9h-0.9zM409.9 361.0h0.9v0.9h-0.9zM412.6 359.9h0.9v0.9h-0.9zM407.0 360.6h0.9v0.9h-0.9zM399.4 351.4h0.9v0.9h-0.9zM414.1 358.5h0.9v0.9h-0.9zM401.7 355.8h0.9v0.9h-0.9zM405.9 358.3h0.9v0.9h-0.9zM403.0 361.7h0.9v0.9h-0.9zM398.6 368.5h0.9v0.9h-0.9zM401.5 364.2h0.9v0.9h-0.9zM409.7 351.7h0.9v0.9h-0.9zM400.9 358.2h0.9v0.9h-0.9zM407.8 356.4h0.9v0.9h-0.9zM406.6 358.6h0.9v0.9h-0.9zM401.2 358.2h0.9v0.9h-0.9zM417.2 355.6h0.9v0.9h-0.9zM401.8 360.5h0.9v0.9h-0.9zM412.8 361.9h0.9v0.9h-0.9zM403.6 357.7h0.9v0.9h-0.9zM407.5 357.2h0.9v0.9h-0.9zM408.4 362.0h0.9v0.9h-0.9zM409.1 358.0h0.9v0.9h-0.9zM405.6 364.7h0.9v0.9h-0.9zM400.8 365.5h0.9v0.9h-0.9zM410.0 358.3h0.9v0.9h-0.9zM403.1 364.9h0.9v0.9h-0.9zM412.3 361.4h0.9v0.9h-0.9zM416.3 351.3h0.9v0.9h-0.9zM407.0 356.9h0.9v0.9h-0.9zM403.2 358.3h0.9v0.9h-0.9zM409.1 360.0h0.9v0.9h-0.9zM405.9 353.1h0.9v0.9h-0.9zM409.2 360.3h0.9v0.9h-0.9zM416.5 361.5h0.9v0.9h-0.9zM406.6 353.7h0.9v0.9h-0.9zM419.4 355.5h0.9v0.9h-0.9zM407.5 360.8h0.9v0.9h-0.9zM408.9 363.0h0.9v0.9h-0.9zM401.7 355.4h0.9v0.9h-0.9zM407.4 353.4h0.9v0.9h-0.9zM403.7 363.2h0.9v0.9h-0.9zM408.0 357.6h0.9v0.9h-0.9zM403.9 358.2h0.9v0.9h-0.9zM406.4 354.0h0.9v0.9h-0.9zM410.3 353.2h0.9v0.9h-0.9zM412.6 356.7h0.9v0.9h-0.9zM407.9 354.7h0.9v0.9h-0.9zM415.1 363.2h0.9v0.9h-0.9zM416.5 361.4h0.9v0.9h-0.9zM413.0 355.7h0.9v0.9h-0.9zM412.7 356.4h0.9v0.9h-0.9zM406.3 352.9h0.9v0.9h-0.9zM406.8 359.5h0.9v0.9h-0.9zM406.3 353.8h0.9v0.9h-0.9zM410.9 361.4h0.9v0.9h-0.9zM406.1 361.0h0.9v0.9h-0.9zM411.2 354.3h0.9v0.9h-0.9zM406.4 351.0h0.9v0.9h-0.9zM401.7 359.6h0.9v0.9h-0.9zM402.4 359.5h0.9v0.9h-0.9zM408.3 350.2h0.9v0.9h-0.9zM404.3 363.7h0.9v0.9h-0.9zM406.6 358.5h0.9v0.9h-0.9zM403.2 352.0h0.9v0.9h-0.9zM399.0 368.8h0.9v0.9h-0.9zM405.7 354.7h0.9v0.9h-0.9zM407.1 350.7h0.9v0.9h-0.9zM413.2 364.5h0.9v0.9h-0.9zM403.0 359.2h0.9v0.9h-0.9zM402.3 361.2h0.9v0.9h-0.9zM402.6 357.5h0.9v0.9h-0.9zM412.8 360.0h0.9v0.9h-0.9zM405.0 352.3h0.9v0.9h-0.9zM399.0 362.5h0.9v0.9h-0.9zM409.0 358.2h0.9v0.9h-0.9zM412.6 358.6h0.9v0.9h-0.9zM403.1 357.6h0.9v0.9h-0.9zM406.1 357.9h0.9v0.9h-0.9zM418.5 360.2h0.9v0.9h-0.9zM407.9 357.1h0.9v0.9h-0.9zM403.3 354.2h0.9v0.9h-0.9zM399.3 351.0h0.9v0.9h-0.9zM402.1 350.3h0.9v0.9h-0.9zM413.1 362.7h0.9v0.9h-0.9zM401.9 365.8h0.9v0.9h-0.9zM409.7 348.4h0.9v0.9h-0.9zM406.7 354.2h0.9v0.9h-0.9zM398.2 357.0h0.9v0.9h-0.9zM412.1 359.7h0.9v0.9h-0.9zM399.6 355.5h0.9v0.9h-0.9zM402.9 362.3h0.9v0.9h-0.9zM406.1 354.3h0.9v0.9h-0.9zM402.2 350.5h0.9v0.9h-0.9zM402.5 361.4h0.9v0.9h-0.9zM406.0 361.1h0.9v0.9h-0.9zM401.1 361.5h0.9v0.9h-0.9zM414.0 366.7h0.9v0.9h-0.9zM398.7 357.9h0.9v0.9h-0.9zM405.5 358.5h0.9v0.9h-0.9zM401.8 361.3h0.9v0.9h-0.9zM417.8 363.7h0.9v0.9h-0.9zM402.0 355.8h0.9v0.9h-0.9zM410.1 358.5h0.9v0.9h-0.9zM402.9 362.7h0.9v0.9h-0.9zM409.0 361.9h0.9v0.9h-0.9zM405.7 362.9h0.9v0.9h-0.9zM404.3 353.8h0.9v0.9h-0.9zM406.5 352.7h0.9v0.9h-0.9zM412.6 360.8h0.9v0.9h-0.9zM398.4 358.7h0.9v0.9h-0.9zM410.6 356.6h0.9v0.9h-0.9zM408.5 355.8h0.9v0.9h-0.9zM406.2 357.7h0.9v0.9h-0.9zM408.9 354.3h0.9v0.9h-0.9zM401.1 359.3h0.9v0.9h-0.9zM404.1 360.0h0.9v0.9h-0.9zM404.1 353.0h0.9v0.9h-0.9zM410.1 359.0h0.9v0.9h-0.9zM410.1 356.7h0.9v0.9h-0.9zM404.8 362.8h0.9v0.9h-0.9zM398.4 364.6h0.9v0.9h-0.9zM409.0 357.8h0.9v0.9h-0.9zM407.0 360.3h0.9v0.9h-0.9zM402.8 359.1h0.9v0.9h-0.9zM401.9 351.0h0.9v0.9h-0.9zM407.5 358.4h0.9v0.9h-0.9zM409.7 360.1h0.9v0.9h-0.9zM409.9 361.0h0.9v0.9h-0.9zM401.4 362.6h0.9v0.9h-0.9zM419.4 355.8h0.9v0.9h-0.9zM400.5 360.6h0.9v0.9h-0.9zM410.9 361.9h0.9v0.9h-0.9zM413.9 352.7h0.9v0.9h-0.9zM408.3 359.8h0.9v0.9h-0.9zM412.6 354.6h0.9v0.9h-0.9zM406.6 356.6h0.9v0.9h-0.9zM405.7 357.4h0.9v0.9h-0.9zM405.8 351.3h0.9v0.9h-0.9zM406.3 358.3h0.9v0.9h-0.9zM404.7 344.5h0.9v0.9h-0.9zM403.2 355.5h0.9v0.9h-0.9zM402.3 364.1h0.9v0.9h-0.9zM411.0 357.3h0.9v0.9h-0.9zM409.4 370.6h0.9v0.9h-0.9zM401.8 359.8h0.9v0.9h-0.9zM403.6 363.7h0.9v0.9h-0.9zM411.9 357.5h0.9v0.9h-0.9zM409.5 355.0h0.9v0.9h-0.9zM398.9 361.2h0.9v0.9h-0.9zM414.4 356.8h0.9v0.9h-0.9zM404.0 351.2h0.9v0.9h-0.9zM416.9 353.4h0.9v0.9h-0.9zM401.8 357.3h0.9v0.9h-0.9zM412.4 358.2h0.9v0.9h-0.9zM406.4 358.1h0.9v0.9h-0.9zM410.6 357.9h0.9v0.9h-0.9zM407.3 357.7h0.9v0.9h-0.9zM401.2 363.1h0.9v0.9h-0.9zM403.2 353.0h0.9v0.9h-0.9zM404.4 358.1h0.9v0.9h-0.9zM410.5 352.4h0.9v0.9h-0.9zM400.4 358.7h0.9v0.9h-0.9zM408.4 353.8h0.9v0.9h-0.9zM401.0 358.7h0.9v0.9h-0.9zM405.8 351.8h0.9v0.9h-0.9zM402.3 363.7h0.9v0.9h-0.9zM401.4 362.0h0.9v0.9h-0.9zM399.1 363.7h0.9v0.9h-0.9z" fill="#3c3cee"/>
<path d="M417.0 355.0h0.9v0.9h-0.9zM402.8 362.0h0.9v0.9h-0.9zM399.3 361.5h0.9v0.9h-0.9zM414.6 360.0h0.9v0.9h-0.9zM409.0 357.6h0.9v0.9h-0.9zM413.3 354.0h0.9v0.9h-0.9zM416.9 358.4h0.9v0.9h-0.9zM405.0 349.5h0.9v0.9h-0.9zM404.3 359.8h0.9v0.9h-0.9zM414.8 349.6h0.9v0.9h-0.9zM406.2 354.7h0.9v0.9h-0.9zM399.5 358.5h0.9v0.9h-0.9zM402.3 363.3h0.9v0.9h-0.9zM410.3 356.6h0.9v0.9h-0.9zM407.8 353.2h0.9v0.9h-0.9zM400.5 354.4h0.9v0.9h-0.9zM406.7 353.9h0.9v0.9h-0.9zM404.4 353.7h0.9v0.9h-0.9zM408.5 352.2h0.9v0.9h-0.9zM406.9 359.0h0.9v0.9h-0.9zM413.0 354.4h0.9v0.9h-0.9zM399.9 350.3h0.9v0.9h-0.9zM411.7 355.0h0.9v0.9h-0.9zM413.1 358.1h0.9v0.9h-0.9zM405.3 348.2h0.9v0.9h-0.9zM402.8 362.9h0.9v0.9h-0.9zM403.2 362.2h0.9v0.9h-0.9zM424.3 364.7h0.9v0.9h-0.9zM409.0 351.7h0.9v0.9h-0.9zM403.7 354.9h0.9v0.9h-0.9zM408.2 347.4h0.9v0.9h-0.9zM401.6 362.9h0.9v0.9h-0.9zM407.9 362.6h0.9v0.9h-0.9zM412.3 352.2h0.9v0.9h-0.9zM398.6 361.1h0.9v0.9h-0.9zM407.2 358.9h0.9v0.9h-0.9zM401.9 364.1h0.9v0.9h-0.9zM410.1 364.8h0.9v0.9h-0.9zM404.8 362.3h0.9v0.9h-0.9zM406.6 353.3h0.9v0.9h-0.9zM406.5 349.4h0.9v0.9h-0.9zM405.9 359.5h0.9v0.9h-0.9zM411.3 352.7h0.9v0.9h-0.9zM398.7 354.5h0.9v0.9h-0.9zM423.3 359.3h0.9v0.9h-0.9zM402.3 354.7h0.9v0.9h-0.9zM418.0 352.1h0.9v0.9h-0.9zM406.3 358.1h0.9v0.9h-0.9zM402.4 354.5h0.9v0.9h-0.9zM415.1 366.3h0.9v0.9h-0.9zM405.2 362.4h0.9v0.9h-0.9zM409.9 359.1h0.9v0.9h-0.9zM406.2 365.2h0.9v0.9h-0.9zM410.5 357.3h0.9v0.9h-0.9z" fill="#8484f4"/>
<path d="M415.2 370.4h0.9v0.9h-0.9zM410.9 355.5h0.9v0.9h-0.9zM414.7 357.5h0.9v0.9h-0.9zM433.2 365.2h0.9v0.9h-0.9zM416.9 357.2h0.9v0.9h-0.9zM435.0 366.0h0.9v0.9h-0.9zM443.1 370.2h0.9v0.9h-0.9zM415.4 357.0h0.9v0.9h-0.9zM414.6 363.6h0.9v0.9h-0.9zM427.5 366.4h0.9v0.9h-0.9zM436.9 348.3h0.9v0.9h-0.9zM418.3 349.2h0.9v0.9h-0.9z" fill="#c0c0f8"/>
<ellipse cx="406.8" cy="358" rx="5.5" ry="4.2" fill="#0606e4" opacity="0.8" filter="url(#b1_6)"/>
</g>
<line x1="417.20" y1="315.70" x2="417.20" y2="385.90" stroke="#333" stroke-width="1.2"/>
<line x1="397.40" y1="346.60" x2="468.30" y2="346.60" stroke="#333" stroke-width="1.2"/>
<line x1="397.40" y1="315.20" x2="397.40" y2="386.60" stroke="#111" stroke-width="1.6"/>
<line x1="396.70" y1="385.90" x2="468.60" y2="385.90" stroke="#111" stroke-width="1.6"/>
<line x1="395.20" y1="385.90" x2="397.40" y2="385.90" stroke="#111" stroke-width="1.0"/>
<line x1="397.40" y1="385.90" x2="397.40" y2="388.10" stroke="#111" stroke-width="1.0"/>
<line x1="396.20" y1="380.62" x2="397.40" y2="380.62" stroke="#333" stroke-width="0.6"/>
<line x1="402.74" y1="385.90" x2="402.74" y2="387.10" stroke="#333" stroke-width="0.6"/>
<line x1="396.20" y1="377.53" x2="397.40" y2="377.53" stroke="#333" stroke-width="0.6"/>
<line x1="405.86" y1="385.90" x2="405.86" y2="387.10" stroke="#333" stroke-width="0.6"/>
<line x1="396.20" y1="375.33" x2="397.40" y2="375.33" stroke="#333" stroke-width="0.6"/>
<line x1="408.07" y1="385.90" x2="408.07" y2="387.10" stroke="#333" stroke-width="0.6"/>
<line x1="396.20" y1="373.63" x2="397.40" y2="373.63" stroke="#333" stroke-width="0.6"/>
<line x1="409.79" y1="385.90" x2="409.79" y2="387.10" stroke="#333" stroke-width="0.6"/>
<line x1="396.20" y1="372.24" x2="397.40" y2="372.24" stroke="#333" stroke-width="0.6"/>
<line x1="411.19" y1="385.90" x2="411.19" y2="387.10" stroke="#333" stroke-width="0.6"/>
<line x1="396.20" y1="371.07" x2="397.40" y2="371.07" stroke="#333" stroke-width="0.6"/>
<line x1="412.38" y1="385.90" x2="412.38" y2="387.10" stroke="#333" stroke-width="0.6"/>
<line x1="396.20" y1="370.05" x2="397.40" y2="370.05" stroke="#333" stroke-width="0.6"/>
<line x1="413.41" y1="385.90" x2="413.41" y2="387.10" stroke="#333" stroke-width="0.6"/>
<line x1="396.20" y1="369.15" x2="397.40" y2="369.15" stroke="#333" stroke-width="0.6"/>
<line x1="414.31" y1="385.90" x2="414.31" y2="387.10" stroke="#333" stroke-width="0.6"/>
<line x1="395.20" y1="368.35" x2="397.40" y2="368.35" stroke="#111" stroke-width="1.0"/>
<line x1="415.12" y1="385.90" x2="415.12" y2="388.10" stroke="#111" stroke-width="1.0"/>
<line x1="396.20" y1="363.07" x2="397.40" y2="363.07" stroke="#333" stroke-width="0.6"/>
<line x1="420.46" y1="385.90" x2="420.46" y2="387.10" stroke="#333" stroke-width="0.6"/>
<line x1="396.20" y1="359.98" x2="397.40" y2="359.98" stroke="#333" stroke-width="0.6"/>
<line x1="423.58" y1="385.90" x2="423.58" y2="387.10" stroke="#333" stroke-width="0.6"/>
<line x1="396.20" y1="357.78" x2="397.40" y2="357.78" stroke="#333" stroke-width="0.6"/>
<line x1="425.80" y1="385.90" x2="425.80" y2="387.10" stroke="#333" stroke-width="0.6"/>
<line x1="396.20" y1="356.08" x2="397.40" y2="356.08" stroke="#333" stroke-width="0.6"/>
<line x1="427.51" y1="385.90" x2="427.51" y2="387.10" stroke="#333" stroke-width="0.6"/>
<line x1="396.20" y1="354.69" x2="397.40" y2="354.69" stroke="#333" stroke-width="0.6"/>
<line x1="428.92" y1="385.90" x2="428.92" y2="387.10" stroke="#333" stroke-width="0.6"/>
<line x1="396.20" y1="353.52" x2="397.40" y2="353.52" stroke="#333" stroke-width="0.6"/>
<line x1="430.10" y1="385.90" x2="430.10" y2="387.10" stroke="#333" stroke-width="0.6"/>
<line x1="396.20" y1="352.50" x2="397.40" y2="352.50" stroke="#333" stroke-width="0.6"/>
<line x1="431.13" y1="385.90" x2="431.13" y2="387.10" stroke="#333" stroke-width="0.6"/>
<line x1="396.20" y1="351.60" x2="397.40" y2="351.60" stroke="#333" stroke-width="0.6"/>
<line x1="432.04" y1="385.90" x2="432.04" y2="387.10" stroke="#333" stroke-width="0.6"/>
<line x1="395.20" y1="350.80" x2="397.40" y2="350.80" stroke="#111" stroke-width="1.0"/>
<line x1="432.85" y1="385.90" x2="432.85" y2="388.10" stroke="#111" stroke-width="1.0"/>
<line x1="396.20" y1="345.52" x2="397.40" y2="345.52" stroke="#333" stroke-width="0.6"/>
<line x1="438.19" y1="385.90" x2="438.19" y2="387.10" stroke="#333" stroke-width="0.6"/>
<line x1="396.20" y1="342.43" x2="397.40" y2="342.43" stroke="#333" stroke-width="0.6"/>
<line x1="441.31" y1="385.90" x2="441.31" y2="387.10" stroke="#333" stroke-width="0.6"/>
<line x1="396.20" y1="340.23" x2="397.40" y2="340.23" stroke="#333" stroke-width="0.6"/>
<line x1="443.52" y1="385.90" x2="443.52" y2="387.10" stroke="#333" stroke-width="0.6"/>
<line x1="396.20" y1="338.53" x2="397.40" y2="338.53" stroke="#333" stroke-width="0.6"/>
<line x1="445.24" y1="385.90" x2="445.24" y2="387.10" stroke="#333" stroke-width="0.6"/>
<line x1="396.20" y1="337.14" x2="397.40" y2="337.14" stroke="#333" stroke-width="0.6"/>
<line x1="446.64" y1="385.90" x2="446.64" y2="387.10" stroke="#333" stroke-width="0.6"/>
<line x1="396.20" y1="335.97" x2="397.40" y2="335.97" stroke="#333" stroke-width="0.6"/>
<line x1="447.83" y1="385.90" x2="447.83" y2="387.10" stroke="#333" stroke-width="0.6"/>
<line x1="396.20" y1="334.95" x2="397.40" y2="334.95" stroke="#333" stroke-width="0.6"/>
<line x1="448.86" y1="385.90" x2="448.86" y2="387.10" stroke="#333" stroke-width="0.6"/>
<line x1="396.20" y1="334.05" x2="397.40" y2="334.05" stroke="#333" stroke-width="0.6"/>
<line x1="449.76" y1="385.90" x2="449.76" y2="387.10" stroke="#333" stroke-width="0.6"/>
<line x1="395.20" y1="333.25" x2="397.40" y2="333.25" stroke="#111" stroke-width="1.0"/>
<line x1="450.57" y1="385.90" x2="450.57" y2="388.10" stroke="#111" stroke-width="1.0"/>
<line x1="396.20" y1="327.97" x2="397.40" y2="327.97" stroke="#333" stroke-width="0.6"/>
<line x1="455.91" y1="385.90" x2="455.91" y2="387.10" stroke="#333" stroke-width="0.6"/>
<line x1="396.20" y1="324.88" x2="397.40" y2="324.88" stroke="#333" stroke-width="0.6"/>
<line x1="459.03" y1="385.90" x2="459.03" y2="387.10" stroke="#333" stroke-width="0.6"/>
<line x1="396.20" y1="322.68" x2="397.40" y2="322.68" stroke="#333" stroke-width="0.6"/>
<line x1="461.25" y1="385.90" x2="461.25" y2="387.10" stroke="#333" stroke-width="0.6"/>
<line x1="396.20" y1="320.98" x2="397.40" y2="320.98" stroke="#333" stroke-width="0.6"/>
<line x1="462.96" y1="385.90" x2="462.96" y2="387.10" stroke="#333" stroke-width="0.6"/>
<line x1="396.20" y1="319.59" x2="397.40" y2="319.59" stroke="#333" stroke-width="0.6"/>
<line x1="464.37" y1="385.90" x2="464.37" y2="387.10" stroke="#333" stroke-width="0.6"/>
<line x1="396.20" y1="318.42" x2="397.40" y2="318.42" stroke="#333" stroke-width="0.6"/>
<line x1="465.55" y1="385.90" x2="465.55" y2="387.10" stroke="#333" stroke-width="0.6"/>
<line x1="396.20" y1="317.40" x2="397.40" y2="317.40" stroke="#333" stroke-width="0.6"/>
<line x1="466.58" y1="385.90" x2="466.58" y2="387.10" stroke="#333" stroke-width="0.6"/>
<line x1="396.20" y1="316.50" x2="397.40" y2="316.50" stroke="#333" stroke-width="0.6"/>
<line x1="467.49" y1="385.90" x2="467.49" y2="387.10" stroke="#333" stroke-width="0.6"/>
<line x1="395.20" y1="315.70" x2="397.40" y2="315.70" stroke="#111" stroke-width="1.0"/>
<line x1="468.30" y1="385.90" x2="468.30" y2="388.10" stroke="#111" stroke-width="1.0"/>
<text x="398.80" y="326.60" font-size="8.4" font-weight="normal" text-anchor="start" fill="#1a1a1a" textLength="23.10" lengthAdjust="spacingAndGlyphs" >5.55%</text>
<text x="443.00" y="326.60" font-size="8.4" font-weight="normal" text-anchor="start" fill="#1a1a1a" textLength="23.80" lengthAdjust="spacingAndGlyphs" >0.04%</text>
<text x="398.80" y="379.20" font-size="8.4" font-weight="normal" text-anchor="start" fill="#1a1a1a" textLength="28.40" lengthAdjust="spacingAndGlyphs" >93.92%</text>
<text x="443.00" y="379.20" font-size="8.4" font-weight="normal" text-anchor="start" fill="#1a1a1a" textLength="23.80" lengthAdjust="spacingAndGlyphs" >0.49%</text>
<text x="393.20" y="393.10" font-size="7.6" font-weight="normal" text-anchor="end" fill="#2a2a2a" >10</text>
<text x="394.20" y="387.10" font-size="4.8" font-weight="normal" text-anchor="middle" fill="#2a2a2a" >0</text>
<text x="396.20" y="401.70" font-size="7.6" font-weight="normal" text-anchor="middle" fill="#2a2a2a" >10</text>
<text x="399.00" y="394.50" font-size="4.8" font-weight="normal" text-anchor="middle" fill="#2a2a2a" >0</text>
<text x="393.20" y="375.55" font-size="7.6" font-weight="normal" text-anchor="end" fill="#2a2a2a" >10</text>
<text x="394.20" y="369.55" font-size="4.8" font-weight="normal" text-anchor="middle" fill="#2a2a2a" >1</text>
<text x="413.93" y="401.70" font-size="7.6" font-weight="normal" text-anchor="middle" fill="#2a2a2a" >10</text>
<text x="416.73" y="394.50" font-size="4.8" font-weight="normal" text-anchor="middle" fill="#2a2a2a" >1</text>
<text x="393.20" y="358.00" font-size="7.6" font-weight="normal" text-anchor="end" fill="#2a2a2a" >10</text>
<text x="394.20" y="352.00" font-size="4.8" font-weight="normal" text-anchor="middle" fill="#2a2a2a" >2</text>
<text x="431.65" y="401.70" font-size="7.6" font-weight="normal" text-anchor="middle" fill="#2a2a2a" >10</text>
<text x="434.45" y="394.50" font-size="4.8" font-weight="normal" text-anchor="middle" fill="#2a2a2a" >2</text>
<text x="393.20" y="340.45" font-size="7.6" font-weight="normal" text-anchor="end" fill="#2a2a2a" >10</text>
<text x="394.20" y="334.45" font-size="4.8" font-weight="normal" text-anchor="middle" fill="#2a2a2a" >3</text>
<text x="449.38" y="401.70" font-size="7.6" font-weight="normal" text-anchor="middle" fill="#2a2a2a" >10</text>
<text x="452.18" y="394.50" font-size="4.8" font-weight="normal" text-anchor="middle" fill="#2a2a2a" >3</text>
<text x="393.20" y="322.90" font-size="7.6" font-weight="normal" text-anchor="end" fill="#2a2a2a" >10</text>
<text x="394.20" y="316.90" font-size="4.8" font-weight="normal" text-anchor="middle" fill="#2a2a2a" >4</text>
<text x="467.10" y="401.70" font-size="7.6" font-weight="normal" text-anchor="middle" fill="#2a2a2a" >10</text>
<text x="469.90" y="394.50" font-size="4.8" font-weight="normal" text-anchor="middle" fill="#2a2a2a" >4</text>
<text x="432.50" y="408.09" font-size="9.4" font-weight="normal" text-anchor="middle" fill="#1a1a1a" textLength="29.60" lengthAdjust="spacingAndGlyphs" >APC-A</text>
<clipPath id="c397315"><rect x="367.3" y="311" width="16" height="200"/></clipPath>
<g clip-path="url(#c397315)">
<text x="0" y="0" font-size="9.0" font-weight="normal" text-anchor="middle" fill="#1a1a1a" textLength="77.10" lengthAdjust="spacingAndGlyphs" transform="translate(378.45 344.55) rotate(-90)" >Alexa Fluor 488-A</text>
</g>
<text x="1.20" y="444.80" font-size="13.2" font-weight="normal" text-anchor="start" fill="#111" >C</text>
<text x="19.30" y="444.80" font-size="11.5" font-weight="normal" text-anchor="start" fill="#111" >i</text>
<text x="13.00" y="597.70" font-size="11" font-weight="bold" text-anchor="start" fill="#111" >ii</text>
<line x1="44.40" y1="458.42" x2="44.40" y2="563.10" stroke="#1a1a1a" stroke-width="1.25"/>
<line x1="43.90" y1="562.60" x2="200.00" y2="562.60" stroke="#1a1a1a" stroke-width="1.25"/>
<line x1="41.40" y1="562.60" x2="44.40" y2="562.60" stroke="#1a1a1a" stroke-width="1.25"/>
<text x="40.10" y="565.20" font-size="7.2" font-weight="bold" text-anchor="end" fill="#111" >0</text>
<line x1="41.40" y1="545.32" x2="44.40" y2="545.32" stroke="#1a1a1a" stroke-width="1.25"/>
<text x="40.10" y="547.92" font-size="7.2" font-weight="bold" text-anchor="end" fill="#111" >200</text>
<line x1="41.40" y1="528.04" x2="44.40" y2="528.04" stroke="#1a1a1a" stroke-width="1.25"/>
<text x="40.10" y="530.64" font-size="7.2" font-weight="bold" text-anchor="end" fill="#111" >400</text>
<line x1="41.40" y1="510.76" x2="44.40" y2="510.76" stroke="#1a1a1a" stroke-width="1.25"/>
<text x="40.10" y="513.36" font-size="7.2" font-weight="bold" text-anchor="end" fill="#111" >600</text>
<line x1="41.40" y1="493.48" x2="44.40" y2="493.48" stroke="#1a1a1a" stroke-width="1.25"/>
<text x="40.10" y="496.08" font-size="7.2" font-weight="bold" text-anchor="end" fill="#111" >800</text>
<line x1="41.40" y1="476.20" x2="44.40" y2="476.20" stroke="#1a1a1a" stroke-width="1.25"/>
<text x="40.10" y="478.80" font-size="7.2" font-weight="bold" text-anchor="end" fill="#111" >1000</text>
<line x1="41.40" y1="458.92" x2="44.40" y2="458.92" stroke="#1a1a1a" stroke-width="1.25"/>
<text x="40.10" y="461.52" font-size="7.2" font-weight="bold" text-anchor="end" fill="#111" >1200</text>
<line x1="53.70" y1="562.60" x2="53.70" y2="565.60" stroke="#1a1a1a" stroke-width="1.25"/>
<text x="53.70" y="573.20" font-size="7.2" font-weight="bold" text-anchor="middle" fill="#111" >0</text>
<line x1="73.13" y1="562.60" x2="73.13" y2="565.60" stroke="#1a1a1a" stroke-width="1.25"/>
<text x="73.13" y="573.20" font-size="7.2" font-weight="bold" text-anchor="middle" fill="#111" >1</text>
<line x1="92.56" y1="562.60" x2="92.56" y2="565.60" stroke="#1a1a1a" stroke-width="1.25"/>
<text x="92.56" y="573.20" font-size="7.2" font-weight="bold" text-anchor="middle" fill="#111" >2</text>
<line x1="111.99" y1="562.60" x2="111.99" y2="565.60" stroke="#1a1a1a" stroke-width="1.25"/>
<text x="111.99" y="573.20" font-size="7.2" font-weight="bold" text-anchor="middle" fill="#111" >3</text>
<line x1="131.42" y1="562.60" x2="131.42" y2="565.60" stroke="#1a1a1a" stroke-width="1.25"/>
<text x="131.42" y="573.20" font-size="7.2" font-weight="bold" text-anchor="middle" fill="#111" >4</text>
<line x1="150.85" y1="562.60" x2="150.85" y2="565.60" stroke="#1a1a1a" stroke-width="1.25"/>
<text x="150.85" y="573.20" font-size="7.2" font-weight="bold" text-anchor="middle" fill="#111" >5</text>
<line x1="170.28" y1="562.60" x2="170.28" y2="565.60" stroke="#1a1a1a" stroke-width="1.25"/>
<text x="170.28" y="573.20" font-size="7.2" font-weight="bold" text-anchor="middle" fill="#111" >6</text>
<line x1="189.71" y1="562.60" x2="189.71" y2="565.60" stroke="#1a1a1a" stroke-width="1.25"/>
<text x="189.71" y="573.20" font-size="7.2" font-weight="bold" text-anchor="middle" fill="#111" >7</text>
<text x="121.95" y="585.20" font-size="8.2" font-weight="bold" text-anchor="middle" fill="#111" textLength="46.50" lengthAdjust="spacingAndGlyphs" >Time (Days)</text>
<text x="122.10" y="463.50" font-size="8.7" font-weight="normal" text-anchor="middle" fill="#111" >Panobinostat</text>
<text x="0" y="0" font-size="7.8" font-weight="bold" text-anchor="middle" fill="#111" textLength="121.00" lengthAdjust="spacingAndGlyphs" transform="translate(17.73 511.20) rotate(-90)" >No. of Biotin Platelets (x10<tspan dy="-3.28" font-size="4.99">9</tspan><tspan dy="3.28">/L)</tspan></text>
<polyline points="53.70,475.16 73.13,489.85 92.56,506.87 111.99,529.08 131.42,534.00 189.71,562.60" fill="none" stroke="#4a94e4" stroke-width="1.3" stroke-linejoin="round"/>
<polyline points="53.70,483.37 73.13,494.78 92.56,515.34 111.99,512.75 131.42,525.79 189.71,562.60" fill="none" stroke="#ee7a84" stroke-width="1.3" stroke-linejoin="round"/>
<path d="M51.30 467.04H56.10M53.70 467.04V483.28M51.30 483.28H56.10" stroke="#4a94e4" stroke-width="1.3" fill="none"/>
<circle cx="53.70" cy="475.16" r="2.1" fill="#4a94e4"/>
<circle cx="73.13" cy="489.85" r="2.1" fill="#4a94e4"/>
<path d="M90.16 504.11H94.96M92.56 504.11V509.64M90.16 509.64H94.96" stroke="#4a94e4" stroke-width="1.3" fill="none"/>
<circle cx="92.56" cy="506.87" r="2.1" fill="#4a94e4"/>
<path d="M109.59 521.30H114.39M111.99 521.30V536.85M109.59 536.85H114.39" stroke="#4a94e4" stroke-width="1.3" fill="none"/>
<circle cx="111.99" cy="529.08" r="2.1" fill="#4a94e4"/>
<circle cx="131.42" cy="534.00" r="2.1" fill="#4a94e4"/>
<circle cx="189.71" cy="562.60" r="2.1" fill="#4a94e4"/>
<path d="M51.30 472.31H56.10M53.70 472.31V494.43M51.30 494.43H56.10" stroke="#ee7a84" stroke-width="1.3" fill="none"/>
<rect x="51.60" y="481.27" width="4.2" height="4.2" fill="#ee7a84"/>
<rect x="71.03" y="492.68" width="4.2" height="4.2" fill="#ee7a84"/>
<path d="M90.16 512.92H94.96M92.56 512.92V517.76M90.16 517.76H94.96" stroke="#ee7a84" stroke-width="1.3" fill="none"/>
<rect x="90.46" y="513.24" width="4.2" height="4.2" fill="#ee7a84"/>
<path d="M109.59 506.27H114.39M111.99 506.27V519.23M109.59 519.23H114.39" stroke="#ee7a84" stroke-width="1.3" fill="none"/>
<rect x="109.89" y="510.65" width="4.2" height="4.2" fill="#ee7a84"/>
<path d="M129.02 522.51H133.82M131.42 522.51V529.08M129.02 529.08H133.82" stroke="#ee7a84" stroke-width="1.3" fill="none"/>
<rect x="129.32" y="523.69" width="4.2" height="4.2" fill="#ee7a84"/>
<rect x="187.61" y="560.50" width="4.2" height="4.2" fill="#ee7a84"/>
<line x1="210.40" y1="466.30" x2="221.90" y2="466.30" stroke="#4a94e4" stroke-width="1.3"/>
<circle cx="216.10" cy="466.30" r="2.0" fill="#4a94e4"/>
<text x="228.30" y="469.00" font-size="8.6" font-weight="normal" text-anchor="start" fill="#1a1a1a" >Pan</text>
<line x1="210.40" y1="478.10" x2="221.90" y2="478.10" stroke="#ee7a84" stroke-width="1.3"/>
<rect x="214.10" y="476.10" width="4.0" height="4.0" fill="#ee7a84"/>
<text x="228.30" y="480.80" font-size="8.6" font-weight="normal" text-anchor="start" fill="#1a1a1a" >Vehicle</text>
<text x="206.30" y="507.50" font-size="6.6" font-weight="normal" text-anchor="start" fill="#222" textLength="20.80" lengthAdjust="spacingAndGlyphs" ><tspan font-style="italic">P</tspan> = .54</text>
<line x1="44.40" y1="606.50" x2="44.40" y2="710.70" stroke="#1a1a1a" stroke-width="1.25"/>
<line x1="43.90" y1="710.20" x2="200.00" y2="710.20" stroke="#1a1a1a" stroke-width="1.25"/>
<line x1="41.40" y1="710.20" x2="44.40" y2="710.20" stroke="#1a1a1a" stroke-width="1.25"/>
<text x="40.10" y="712.80" font-size="7.2" font-weight="bold" text-anchor="end" fill="#111" >0</text>
<line x1="41.40" y1="689.56" x2="44.40" y2="689.56" stroke="#1a1a1a" stroke-width="1.25"/>
<text x="40.10" y="692.16" font-size="7.2" font-weight="bold" text-anchor="end" fill="#111" >200</text>
<line x1="41.40" y1="668.92" x2="44.40" y2="668.92" stroke="#1a1a1a" stroke-width="1.25"/>
<text x="40.10" y="671.52" font-size="7.2" font-weight="bold" text-anchor="end" fill="#111" >400</text>
<line x1="41.40" y1="648.28" x2="44.40" y2="648.28" stroke="#1a1a1a" stroke-width="1.25"/>
<text x="40.10" y="650.88" font-size="7.2" font-weight="bold" text-anchor="end" fill="#111" >600</text>
<line x1="41.40" y1="627.64" x2="44.40" y2="627.64" stroke="#1a1a1a" stroke-width="1.25"/>
<text x="40.10" y="630.24" font-size="7.2" font-weight="bold" text-anchor="end" fill="#111" >800</text>
<line x1="41.40" y1="607.00" x2="44.40" y2="607.00" stroke="#1a1a1a" stroke-width="1.25"/>
<text x="40.10" y="609.60" font-size="7.2" font-weight="bold" text-anchor="end" fill="#111" >1000</text>
<line x1="53.70" y1="710.20" x2="53.70" y2="713.20" stroke="#1a1a1a" stroke-width="1.25"/>
<text x="53.70" y="720.80" font-size="7.2" font-weight="bold" text-anchor="middle" fill="#111" >0</text>
<line x1="73.13" y1="710.20" x2="73.13" y2="713.20" stroke="#1a1a1a" stroke-width="1.25"/>
<text x="73.13" y="720.80" font-size="7.2" font-weight="bold" text-anchor="middle" fill="#111" >1</text>
<line x1="92.56" y1="710.20" x2="92.56" y2="713.20" stroke="#1a1a1a" stroke-width="1.25"/>
<text x="92.56" y="720.80" font-size="7.2" font-weight="bold" text-anchor="middle" fill="#111" >2</text>
<line x1="111.99" y1="710.20" x2="111.99" y2="713.20" stroke="#1a1a1a" stroke-width="1.25"/>
<text x="111.99" y="720.80" font-size="7.2" font-weight="bold" text-anchor="middle" fill="#111" >3</text>
<line x1="131.42" y1="710.20" x2="131.42" y2="713.20" stroke="#1a1a1a" stroke-width="1.25"/>
<text x="131.42" y="720.80" font-size="7.2" font-weight="bold" text-anchor="middle" fill="#111" >4</text>
<line x1="150.85" y1="710.20" x2="150.85" y2="713.20" stroke="#1a1a1a" stroke-width="1.25"/>
<text x="150.85" y="720.80" font-size="7.2" font-weight="bold" text-anchor="middle" fill="#111" >5</text>
<line x1="170.28" y1="710.20" x2="170.28" y2="713.20" stroke="#1a1a1a" stroke-width="1.25"/>
<text x="170.28" y="720.80" font-size="7.2" font-weight="bold" text-anchor="middle" fill="#111" >6</text>
<line x1="189.71" y1="710.20" x2="189.71" y2="713.20" stroke="#1a1a1a" stroke-width="1.25"/>
<text x="189.71" y="720.80" font-size="7.2" font-weight="bold" text-anchor="middle" fill="#111" >7</text>
<text x="121.95" y="730.20" font-size="8.2" font-weight="bold" text-anchor="middle" fill="#111" textLength="46.50" lengthAdjust="spacingAndGlyphs" >Time (Days)</text>
<text x="122.10" y="609.80" font-size="8.7" font-weight="normal" text-anchor="middle" fill="#111" >Romidepsin</text>
<text x="0" y="0" font-size="7.8" font-weight="bold" text-anchor="middle" fill="#111" textLength="105.00" lengthAdjust="spacingAndGlyphs" transform="translate(17.73 657.50) rotate(-90)" >No. of Biotin Plts (x10<tspan dy="-3.28" font-size="4.99">9</tspan><tspan dy="3.28">/L)</tspan></text>
<polyline points="53.70,618.46 73.13,645.70 92.56,662.01 111.99,681.61 131.42,701.32 189.71,710.20" fill="none" stroke="#4a94e4" stroke-width="1.3" stroke-linejoin="round"/>
<polyline points="53.70,627.64 73.13,639.82 92.56,648.90 111.99,665.31 131.42,682.34 189.71,710.20" fill="none" stroke="#ee7a84" stroke-width="1.3" stroke-linejoin="round"/>
<path d="M51.30 611.95H56.10M53.70 611.95V624.96M51.30 624.96H56.10" stroke="#4a94e4" stroke-width="1.3" fill="none"/>
<circle cx="53.70" cy="618.46" r="2.1" fill="#4a94e4"/>
<path d="M70.73 636.72H75.53M73.13 636.72V654.68M70.73 654.68H75.53" stroke="#4a94e4" stroke-width="1.3" fill="none"/>
<circle cx="73.13" cy="645.70" r="2.1" fill="#4a94e4"/>
<path d="M90.16 659.74H94.96M92.56 659.74V664.28M90.16 664.28H94.96" stroke="#4a94e4" stroke-width="1.3" fill="none"/>
<circle cx="92.56" cy="662.01" r="2.1" fill="#4a94e4"/>
<path d="M109.59 673.46H114.39M111.99 673.46V689.77M109.59 689.77H114.39" stroke="#4a94e4" stroke-width="1.3" fill="none"/>
<circle cx="111.99" cy="681.61" r="2.1" fill="#4a94e4"/>
<circle cx="131.42" cy="701.32" r="2.1" fill="#4a94e4"/>
<circle cx="189.71" cy="710.20" r="2.1" fill="#4a94e4"/>
<path d="M51.30 619.90H56.10M53.70 619.90V635.38M51.30 635.38H56.10" stroke="#ee7a84" stroke-width="1.3" fill="none"/>
<rect x="51.60" y="625.54" width="4.2" height="4.2" fill="#ee7a84"/>
<path d="M70.73 629.50H75.53M73.13 629.50V650.14M70.73 650.14H75.53" stroke="#ee7a84" stroke-width="1.3" fill="none"/>
<rect x="71.03" y="637.72" width="4.2" height="4.2" fill="#ee7a84"/>
<path d="M90.16 640.33H94.96M92.56 640.33V657.46M90.16 657.46H94.96" stroke="#ee7a84" stroke-width="1.3" fill="none"/>
<rect x="90.46" y="646.80" width="4.2" height="4.2" fill="#ee7a84"/>
<rect x="109.89" y="663.21" width="4.2" height="4.2" fill="#ee7a84"/>
<rect x="129.32" y="680.24" width="4.2" height="4.2" fill="#ee7a84"/>
<rect x="187.61" y="708.10" width="4.2" height="4.2" fill="#ee7a84"/>
<line x1="210.40" y1="614.10" x2="221.90" y2="614.10" stroke="#4a94e4" stroke-width="1.3"/>
<circle cx="216.10" cy="614.10" r="2.0" fill="#4a94e4"/>
<text x="228.30" y="616.80" font-size="8.6" font-weight="normal" text-anchor="start" fill="#1a1a1a" >Romi</text>
<line x1="210.40" y1="625.60" x2="221.90" y2="625.60" stroke="#ee7a84" stroke-width="1.3"/>
<rect x="214.10" y="623.60" width="4.0" height="4.0" fill="#ee7a84"/>
<text x="228.30" y="628.30" font-size="8.6" font-weight="normal" text-anchor="start" fill="#1a1a1a" >Vehicle</text>
<text x="204.00" y="652.50" font-size="6.6" font-weight="normal" text-anchor="start" fill="#222" textLength="28.90" lengthAdjust="spacingAndGlyphs" ><tspan font-style="italic">P</tspan> = .1786</text>
<text x="267.90" y="445.90" font-size="13" font-weight="bold" text-anchor="start" fill="#111" >D</text>
<line x1="304.20" y1="454.60" x2="304.20" y2="556.10" stroke="#1a1a1a" stroke-width="1.25"/>
<line x1="303.70" y1="555.60" x2="450.09" y2="555.60" stroke="#1a1a1a" stroke-width="1.25"/>
<line x1="301.20" y1="555.60" x2="304.20" y2="555.60" stroke="#1a1a1a" stroke-width="1.25"/>
<text x="300.00" y="558.10" font-size="7.0" font-weight="bold" text-anchor="end" fill="#111" >0</text>
<line x1="301.20" y1="522.10" x2="304.20" y2="522.10" stroke="#1a1a1a" stroke-width="1.25"/>
<text x="300.00" y="524.60" font-size="7.0" font-weight="bold" text-anchor="end" fill="#111" >500</text>
<line x1="301.20" y1="488.60" x2="304.20" y2="488.60" stroke="#1a1a1a" stroke-width="1.25"/>
<text x="300.00" y="491.10" font-size="7.0" font-weight="bold" text-anchor="end" fill="#111" >1000</text>
<line x1="301.20" y1="455.10" x2="304.20" y2="455.10" stroke="#1a1a1a" stroke-width="1.25"/>
<text x="300.00" y="457.60" font-size="7.0" font-weight="bold" text-anchor="end" fill="#111" >1500</text>
<line x1="304.40" y1="555.60" x2="304.40" y2="558.60" stroke="#1a1a1a" stroke-width="1.25"/>
<text x="304.40" y="565.40" font-size="7.0" font-weight="bold" text-anchor="middle" fill="#111" >0</text>
<line x1="328.27" y1="555.60" x2="328.27" y2="558.60" stroke="#1a1a1a" stroke-width="1.25"/>
<text x="328.27" y="565.40" font-size="7.0" font-weight="bold" text-anchor="middle" fill="#111" >24</text>
<line x1="352.13" y1="555.60" x2="352.13" y2="558.60" stroke="#1a1a1a" stroke-width="1.25"/>
<text x="352.13" y="565.40" font-size="7.0" font-weight="bold" text-anchor="middle" fill="#111" >48</text>
<line x1="376.00" y1="555.60" x2="376.00" y2="558.60" stroke="#1a1a1a" stroke-width="1.25"/>
<text x="376.00" y="565.40" font-size="7.0" font-weight="bold" text-anchor="middle" fill="#111" >72</text>
<line x1="399.86" y1="555.60" x2="399.86" y2="558.60" stroke="#1a1a1a" stroke-width="1.25"/>
<text x="399.86" y="565.40" font-size="7.0" font-weight="bold" text-anchor="middle" fill="#111" >96</text>
<line x1="423.73" y1="555.60" x2="423.73" y2="558.60" stroke="#1a1a1a" stroke-width="1.25"/>
<text x="423.73" y="565.40" font-size="7.0" font-weight="bold" text-anchor="middle" fill="#111" >120</text>
<line x1="447.59" y1="555.60" x2="447.59" y2="558.60" stroke="#1a1a1a" stroke-width="1.25"/>
<text x="447.59" y="565.40" font-size="7.0" font-weight="bold" text-anchor="middle" fill="#111" >144</text>
<text x="354.20" y="577.90" font-size="8.2" font-weight="bold" text-anchor="start" fill="#111" textLength="50.00" lengthAdjust="spacingAndGlyphs" >Time (Hours)</text>
<text x="0" y="0" font-size="7.5" font-weight="bold" text-anchor="middle" fill="#111" textLength="87.70" lengthAdjust="spacingAndGlyphs" transform="translate(281.62 505.00) rotate(-90)" >Platelet Count (x10<tspan dy="-3.15" font-size="4.80">9</tspan><tspan dy="3.15">/L)</tspan></text>
<polyline points="304.40,485.12 352.13,518.08 399.86,542.53 447.59,550.11" fill="none" stroke="#4a98e8" stroke-width="1.35" stroke-linejoin="round"/>
<polyline points="304.40,492.29 352.13,534.63 399.86,536.50 447.59,536.84" fill="none" stroke="#e84450" stroke-width="1.35" stroke-linejoin="round"/>
<polyline points="304.40,499.32 352.13,517.75 399.86,531.48 447.59,540.19" fill="none" stroke="#2ab02a" stroke-width="1.35" stroke-linejoin="round"/>
<polyline points="304.40,492.62 306.39,536.17 328.27,527.46 352.13,545.22 376.00,550.24 399.86,544.55 447.59,544.55" fill="none" stroke="#f0a040" stroke-width="1.35" stroke-linejoin="round"/>
<path d="M302.00 483.78H306.80M304.40 483.78V486.46M302.00 486.46H306.80" stroke="#4a98e8" stroke-width="1.3" fill="none"/>
<circle cx="304.40" cy="485.12" r="2.1" fill="#4a98e8"/>
<circle cx="352.13" cy="518.08" r="2.1" fill="#4a98e8"/>
<circle cx="399.86" cy="542.53" r="2.1" fill="#4a98e8"/>
<circle cx="447.59" cy="550.11" r="2.1" fill="#4a98e8"/>
<rect x="302.30" y="490.19" width="4.2" height="4.2" fill="#e84450"/>
<rect x="350.03" y="532.53" width="4.2" height="4.2" fill="#e84450"/>
<rect x="397.76" y="534.40" width="4.2" height="4.2" fill="#e84450"/>
<path d="M445.19 533.49H449.99M447.59 533.49V540.19M445.19 540.19H449.99" stroke="#e84450" stroke-width="1.3" fill="none"/>
<rect x="445.49" y="534.74" width="4.2" height="4.2" fill="#e84450"/>
<path d="M304.40 496.91L306.71 501.00L302.09 501.00Z" fill="#2ab02a"/>
<path d="M349.73 513.06H354.53M352.13 513.06V522.44M349.73 522.44H354.53" stroke="#2ab02a" stroke-width="1.3" fill="none"/>
<path d="M352.13 515.33L354.44 519.42L349.82 519.42Z" fill="#2ab02a"/>
<path d="M399.86 529.07L402.17 533.16L397.55 533.16Z" fill="#2ab02a"/>
<path d="M445.19 537.51H449.99M447.59 537.51V542.87M445.19 542.87H449.99" stroke="#2ab02a" stroke-width="1.3" fill="none"/>
<path d="M447.59 537.78L449.90 541.87L445.28 541.87Z" fill="#2ab02a"/>
<path d="M304.40 495.04L306.71 490.94L302.09 490.94Z" fill="#f0a040"/>
<path d="M303.99 528.47H308.79M306.39 528.47V543.88M303.99 543.88H308.79" stroke="#f0a040" stroke-width="1.3" fill="none"/>
<path d="M306.39 538.59L308.70 534.49L304.08 534.49Z" fill="#f0a040"/>
<path d="M325.87 522.10H330.67M328.27 522.10V532.82M325.87 532.82H330.67" stroke="#f0a040" stroke-width="1.3" fill="none"/>
<path d="M328.27 529.88L330.58 525.78L325.96 525.78Z" fill="#f0a040"/>
<path d="M352.13 547.63L354.44 543.54L349.82 543.54Z" fill="#f0a040"/>
<path d="M376.00 552.65L378.31 548.56L373.69 548.56Z" fill="#f0a040"/>
<path d="M399.86 546.96L402.17 542.87L397.55 542.87Z" fill="#f0a040"/>
<path d="M447.59 546.96L449.90 542.87L445.28 542.87Z" fill="#f0a040"/>
<line x1="464.80" y1="462.10" x2="476.00" y2="462.10" stroke="#4a98e8" stroke-width="1.3"/>
<circle cx="470.40" cy="462.10" r="2.0" fill="#4a98e8"/>
<text x="482.00" y="464.90" font-size="8.4" font-weight="normal" text-anchor="start" fill="#1a1a1a" >Pan</text>
<line x1="464.80" y1="473.67" x2="476.00" y2="473.67" stroke="#e84450" stroke-width="1.3"/>
<rect x="468.40" y="471.67" width="4.0" height="4.0" fill="#e84450"/>
<text x="482.00" y="476.47" font-size="8.4" font-weight="normal" text-anchor="start" fill="#1a1a1a" >Vehicle</text>
<line x1="464.80" y1="485.24" x2="476.00" y2="485.24" stroke="#2ab02a" stroke-width="1.3"/>
<path d="M470.40 482.94L472.60 486.84L468.20 486.84Z" fill="#2ab02a"/>
<text x="482.00" y="488.04" font-size="8.4" font-weight="normal" text-anchor="start" fill="#1a1a1a" >Carbo</text>
<line x1="464.80" y1="496.81" x2="476.00" y2="496.81" stroke="#f0a040" stroke-width="1.3"/>
<path d="M470.40 499.11L472.60 495.21L468.20 495.21Z" fill="#f0a040"/>
<text x="482.00" y="499.61" font-size="8.4" font-weight="normal" text-anchor="start" fill="#1a1a1a" >ABT737</text>
<text x="267.90" y="597.70" font-size="13" font-weight="bold" text-anchor="start" fill="#111" >E</text>
<line x1="304.90" y1="607.40" x2="304.90" y2="710.10" stroke="#1a1a1a" stroke-width="1.25"/>
<line x1="304.40" y1="709.60" x2="455.20" y2="709.60" stroke="#1a1a1a" stroke-width="1.25"/>
<line x1="301.90" y1="709.60" x2="304.90" y2="709.60" stroke="#1a1a1a" stroke-width="1.25"/>
<text x="300.70" y="712.10" font-size="7.0" font-weight="bold" text-anchor="end" fill="#111" >0</text>
<line x1="301.90" y1="675.70" x2="304.90" y2="675.70" stroke="#1a1a1a" stroke-width="1.25"/>
<text x="300.70" y="678.20" font-size="7.0" font-weight="bold" text-anchor="end" fill="#111" >50</text>
<line x1="301.90" y1="641.80" x2="304.90" y2="641.80" stroke="#1a1a1a" stroke-width="1.25"/>
<text x="300.70" y="644.30" font-size="7.0" font-weight="bold" text-anchor="end" fill="#111" >100</text>
<line x1="301.90" y1="607.90" x2="304.90" y2="607.90" stroke="#1a1a1a" stroke-width="1.25"/>
<text x="300.70" y="610.40" font-size="7.0" font-weight="bold" text-anchor="end" fill="#111" >150</text>
<line x1="305.30" y1="709.60" x2="305.30" y2="712.60" stroke="#1a1a1a" stroke-width="1.25"/>
<text x="305.30" y="720.00" font-size="7.0" font-weight="bold" text-anchor="middle" fill="#111" >0</text>
<line x1="329.87" y1="709.60" x2="329.87" y2="712.60" stroke="#1a1a1a" stroke-width="1.25"/>
<text x="329.87" y="720.00" font-size="7.0" font-weight="bold" text-anchor="middle" fill="#111" >24</text>
<line x1="354.43" y1="709.60" x2="354.43" y2="712.60" stroke="#1a1a1a" stroke-width="1.25"/>
<text x="354.43" y="720.00" font-size="7.0" font-weight="bold" text-anchor="middle" fill="#111" >48</text>
<line x1="379.00" y1="709.60" x2="379.00" y2="712.60" stroke="#1a1a1a" stroke-width="1.25"/>
<text x="379.00" y="720.00" font-size="7.0" font-weight="bold" text-anchor="middle" fill="#111" >72</text>
<line x1="403.57" y1="709.60" x2="403.57" y2="712.60" stroke="#1a1a1a" stroke-width="1.25"/>
<text x="403.57" y="720.00" font-size="7.0" font-weight="bold" text-anchor="middle" fill="#111" >96</text>
<line x1="428.13" y1="709.60" x2="428.13" y2="712.60" stroke="#1a1a1a" stroke-width="1.25"/>
<text x="428.13" y="720.00" font-size="7.0" font-weight="bold" text-anchor="middle" fill="#111" >120</text>
<line x1="452.70" y1="709.60" x2="452.70" y2="712.60" stroke="#1a1a1a" stroke-width="1.25"/>
<text x="452.70" y="720.00" font-size="7.0" font-weight="bold" text-anchor="middle" fill="#111" >144</text>
<text x="356.70" y="732.50" font-size="8.2" font-weight="bold" text-anchor="start" fill="#111" textLength="51.80" lengthAdjust="spacingAndGlyphs" >Time (Hours)</text>
<text x="0" y="0" font-size="7.5" font-weight="bold" text-anchor="middle" fill="#111" textLength="89.90" lengthAdjust="spacingAndGlyphs" transform="translate(279.12 658.50) rotate(-90)" >Platelet Count (x10<tspan dy="-3.15" font-size="4.80">9</tspan><tspan dy="3.15">/L)</tspan></text>
<polyline points="305.30,697.40 354.43,706.48 403.57,704.99 452.70,704.51" fill="none" stroke="#4a98e8" stroke-width="1.35" stroke-linejoin="round"/>
<polyline points="305.30,698.75 354.43,692.79 403.57,687.90 452.70,676.11" fill="none" stroke="#e84450" stroke-width="1.35" stroke-linejoin="round"/>
<polyline points="305.30,695.36 354.43,695.36 403.57,691.43 452.70,698.75" fill="none" stroke="#2ab02a" stroke-width="1.35" stroke-linejoin="round"/>
<polyline points="305.30,700.11 329.87,690.62 354.43,687.90 379.00,669.53 403.57,675.70 452.70,644.51" fill="none" stroke="#f0a040" stroke-width="1.35" stroke-linejoin="round"/>
<circle cx="305.30" cy="697.40" r="2.1" fill="#4a98e8"/>
<circle cx="354.43" cy="706.48" r="2.1" fill="#4a98e8"/>
<circle cx="403.57" cy="704.99" r="2.1" fill="#4a98e8"/>
<circle cx="452.70" cy="704.51" r="2.1" fill="#4a98e8"/>
<rect x="303.20" y="696.65" width="4.2" height="4.2" fill="#e84450"/>
<rect x="352.33" y="690.69" width="4.2" height="4.2" fill="#e84450"/>
<rect x="401.47" y="685.80" width="4.2" height="4.2" fill="#e84450"/>
<path d="M450.30 668.65H455.10M452.70 668.65V683.56M450.30 683.56H455.10" stroke="#e84450" stroke-width="1.3" fill="none"/>
<rect x="450.60" y="674.01" width="4.2" height="4.2" fill="#e84450"/>
<path d="M305.30 692.95L307.61 697.04L302.99 697.04Z" fill="#2ab02a"/>
<path d="M354.43 692.95L356.74 697.04L352.12 697.04Z" fill="#2ab02a"/>
<path d="M403.57 689.01L405.88 693.11L401.26 693.11Z" fill="#2ab02a"/>
<path d="M450.30 695.36H455.10M452.70 695.36V702.14M450.30 702.14H455.10" stroke="#2ab02a" stroke-width="1.3" fill="none"/>
<path d="M452.70 696.34L455.01 700.43L450.39 700.43Z" fill="#2ab02a"/>
<path d="M302.90 688.80H307.70M305.30 688.80V701.60M302.90 701.60H307.70" stroke="#f0a040" stroke-width="1.3" fill="none"/>
<path d="M305.30 702.52L307.61 698.43L302.99 698.43Z" fill="#f0a040"/>
<path d="M327.47 687.90H332.27M329.87 687.90V693.33M327.47 693.33H332.27" stroke="#f0a040" stroke-width="1.3" fill="none"/>
<path d="M329.87 693.03L332.18 688.94L327.56 688.94Z" fill="#f0a040"/>
<path d="M352.03 684.18H356.83M354.43 684.18V691.63M352.03 691.63H356.83" stroke="#f0a040" stroke-width="1.3" fill="none"/>
<path d="M354.43 690.32L356.74 686.22L352.12 686.22Z" fill="#f0a040"/>
<path d="M376.60 664.11H381.40M379.00 664.11V674.95M376.60 674.95H381.40" stroke="#f0a040" stroke-width="1.3" fill="none"/>
<path d="M379.00 671.95L381.31 667.85L376.69 667.85Z" fill="#f0a040"/>
<path d="M401.17 671.50H405.97M403.57 671.50V679.90M401.17 679.90H405.97" stroke="#f0a040" stroke-width="1.3" fill="none"/>
<path d="M403.57 678.12L405.88 674.02L401.26 674.02Z" fill="#f0a040"/>
<path d="M450.30 640.58H455.10M452.70 640.58V648.44M450.30 648.44H455.10" stroke="#f0a040" stroke-width="1.3" fill="none"/>
<path d="M452.70 646.93L455.01 642.83L450.39 642.83Z" fill="#f0a040"/>
<line x1="470.90" y1="613.50" x2="482.10" y2="613.50" stroke="#4a98e8" stroke-width="1.3"/>
<circle cx="476.50" cy="613.50" r="2.0" fill="#4a98e8"/>
<text x="488.10" y="616.30" font-size="8.4" font-weight="normal" text-anchor="start" fill="#1a1a1a" >Pan</text>
<line x1="470.90" y1="625.23" x2="482.10" y2="625.23" stroke="#e84450" stroke-width="1.3"/>
<rect x="474.50" y="623.23" width="4.0" height="4.0" fill="#e84450"/>
<text x="488.10" y="628.03" font-size="8.4" font-weight="normal" text-anchor="start" fill="#1a1a1a" >Vehicle</text>
<line x1="470.90" y1="636.96" x2="482.10" y2="636.96" stroke="#2ab02a" stroke-width="1.3"/>
<path d="M476.50 634.66L478.70 638.56L474.30 638.56Z" fill="#2ab02a"/>
<text x="488.10" y="639.76" font-size="8.4" font-weight="normal" text-anchor="start" fill="#1a1a1a" >Carbo</text>
<line x1="470.90" y1="648.69" x2="482.10" y2="648.69" stroke="#f0a040" stroke-width="1.3"/>
<path d="M476.50 650.99L478.70 647.09L474.30 647.09Z" fill="#f0a040"/>
<text x="488.10" y="651.49" font-size="8.4" font-weight="normal" text-anchor="start" fill="#1a1a1a" >ABT737</text>
<defs><filter id="b3" x="-80%" y="-80%" width="260%" height="260%"><feGaussianBlur stdDeviation="3"/></filter><filter id="b2" x="-80%" y="-80%" width="260%" height="260%"><feGaussianBlur stdDeviation="2"/></filter><filter id="b2_5" x="-80%" y="-80%" width="260%" height="260%"><feGaussianBlur stdDeviation="2.5"/></filter><filter id="b1_8" x="-80%" y="-80%" width="260%" height="260%"><feGaussianBlur stdDeviation="1.8"/></filter><filter id="b2_2" x="-80%" y="-80%" width="260%" height="260%"><feGaussianBlur stdDeviation="2.2"/></filter><filter id="b1_6" x="-80%" y="-80%" width="260%" height="260%"><feGaussianBlur stdDeviation="1.6"/></filter></defs>
</svg>
</body></html>
